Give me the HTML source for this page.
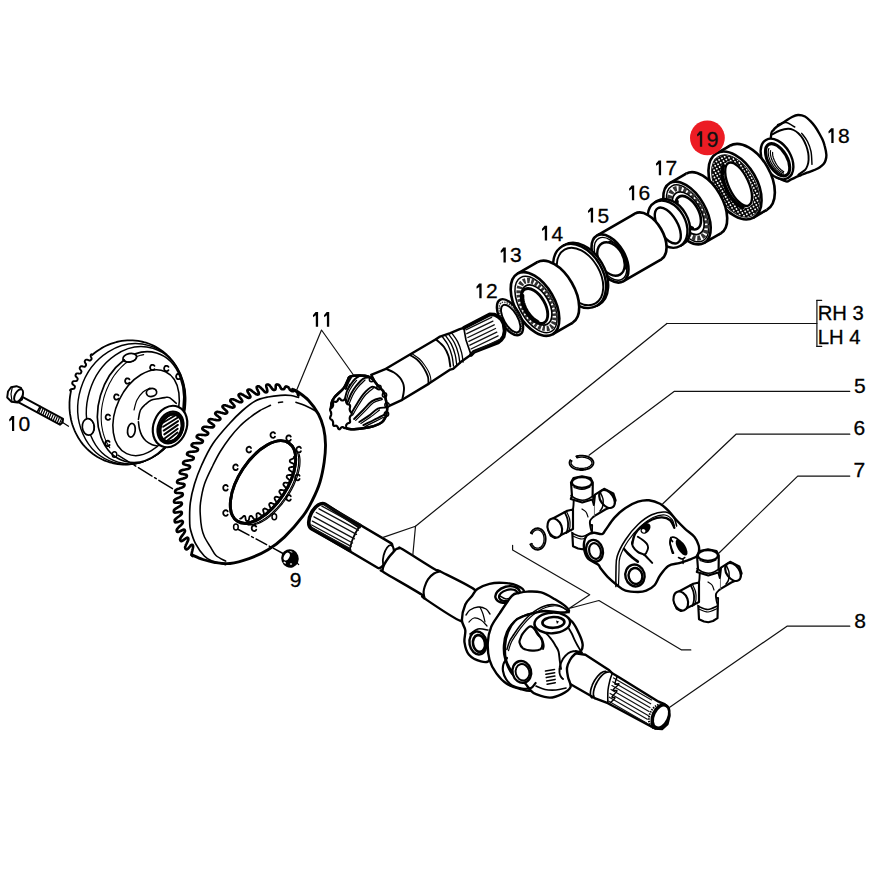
<!DOCTYPE html>
<html><head><meta charset="utf-8"><style>
html,body{margin:0;padding:0;background:#fff;}
svg{display:block;}
text{font-family:"Liberation Sans",sans-serif;}
</style></head><body>
<svg width="870" height="870" viewBox="0 0 870 870">
<defs>
<pattern id="stip" width="3.2" height="3.2" patternUnits="userSpaceOnUse"><rect width="3.2" height="3.2" fill="#000"/><circle cx="1.6" cy="1.6" r="0.95" fill="#fff"/></pattern>
</defs>
<rect width="870" height="870" fill="#fff"/>
<path d="M771.0 136.0 C771.6 129.3 772.5 131.6 773.5 130.0 C774.5 128.4 775.2 127.9 777.0 126.5 C778.8 125.1 782.0 123.4 784.5 121.8 C787.0 120.2 789.8 118.1 792.0 117.0 C794.2 115.9 795.8 115.1 798.0 115.0 C800.2 114.9 803.0 115.5 805.0 116.5 C807.0 117.5 808.3 119.0 810.0 120.7 C811.7 122.4 813.5 124.5 815.0 126.5 C816.5 128.6 817.8 130.8 819.0 133.0 C820.2 135.2 821.5 137.3 822.5 139.5 C823.5 141.7 824.1 143.4 824.7 146.0 C825.4 148.6 826.3 152.6 826.4 155.0 C826.5 157.4 826.0 159.0 825.5 160.5 C825.0 162.0 824.6 162.8 823.6 164.0 C822.6 165.2 821.0 166.5 819.5 167.5 C818.0 168.5 816.5 169.1 814.4 170.0 C812.3 170.9 809.3 171.8 807.0 172.7 C804.7 173.6 802.6 174.5 800.6 175.3 C798.6 176.1 796.8 176.8 795.0 177.6 C793.2 178.4 791.7 179.4 790.0 180.0 C788.3 180.6 788.3 182.7 785.0 181.0 C781.7 179.3 772.3 177.5 770.0 170.0 C767.7 162.5 770.4 142.7 771.0 136.0 Z" stroke="#000" stroke-width="2.4" fill="#fff" stroke-linejoin="round" stroke-linecap="round" />
<path d="M772.0 134.5 C773.3 133.8 777.3 131.5 780.0 130.5 C782.7 129.5 785.8 128.8 788.0 128.7 C790.2 128.6 791.8 129.2 793.5 130.0 C795.2 130.8 796.7 131.8 798.3 133.3 C799.9 134.8 801.7 136.9 803.0 139.0 C804.3 141.1 805.4 143.7 806.3 146.0 C807.2 148.3 807.8 150.7 808.2 153.0 C808.6 155.3 808.7 157.7 808.6 159.8 C808.5 161.9 808.1 163.8 807.5 165.5 C806.9 167.2 806.5 168.5 805.0 170.0 C803.5 171.5 799.4 173.9 798.3 174.7" stroke="#000" stroke-width="1.92" fill="none" stroke-linejoin="round" stroke-linecap="round" />
<path d="M777.6 124.7 C779.0 124.3 783.1 122.1 786.0 122.5 C788.9 122.9 793.3 126.2 794.8 127.0" stroke="#000" stroke-width="1.44" fill="none" stroke-linejoin="round" stroke-linecap="round" />
<path d="M801.7 133.3 C802.7 134.7 806.0 138.5 807.5 141.5 C809.0 144.5 810.2 147.7 811.0 151.5 C811.8 155.3 811.8 162.2 812.0 164.4" stroke="#000" stroke-width="1.44" fill="none" stroke-linejoin="round" stroke-linecap="round" />
<ellipse cx="777.0" cy="159.0" rx="14.0" ry="22.0" transform="rotate(-30.0 777.0 159.0)" fill="#fff" stroke="#000" stroke-width="2.4" />
<ellipse cx="777.6" cy="159.8" rx="9.5" ry="17.8" transform="rotate(-30.0 777.6 159.8)" fill="#fff" stroke="#000" stroke-width="3.12" />
<path d="M783.7 174.2 L783.2 174.1 L782.6 174.0 L782.0 173.8 L781.4 173.5 L780.8 173.2 L780.1 172.9 L779.5 172.5 L778.9 172.1 L778.2 171.6 L777.6 171.0 L777.0 170.5 L776.3 169.9 L775.7 169.2 L775.1 168.5 L774.5 167.8 L774.0 167.1 L773.4 166.3 L772.9 165.5 L772.3 164.7 L771.8 163.9 L771.4 163.1 L770.9 162.2 L770.5 161.3 L770.1 160.5 L769.8 159.6 L769.5 158.7 L769.2 157.9 L768.9 157.0 L768.7 156.2 L768.5 155.3 L768.4 154.5 L768.3 153.7 L768.2 153.0 L768.2 152.2 L768.2 151.5 L768.3 150.8 L768.4 150.2 L768.5 149.6 L768.7 149.0 L768.9 148.5" stroke="#000" stroke-width="1.2" fill="none" stroke-linejoin="round" stroke-linecap="round" />
<path d="M783.5 172.8 L783.0 172.7 L782.6 172.5 L782.1 172.3 L781.6 172.0 L781.1 171.7 L780.6 171.4 L780.0 171.0 L779.5 170.6 L779.0 170.2 L778.5 169.7 L778.0 169.2 L777.5 168.7 L777.0 168.1 L776.5 167.5 L776.0 166.9 L775.5 166.3 L775.1 165.6 L774.6 165.0 L774.2 164.3 L773.8 163.6 L773.4 162.9 L773.0 162.2 L772.7 161.5 L772.3 160.7 L772.0 160.0 L771.7 159.3 L771.5 158.6 L771.3 157.9 L771.0 157.2 L770.9 156.5 L770.7 155.8 L770.6 155.1 L770.5 154.5 L770.4 153.8 L770.4 153.2 L770.4 152.6 L770.4 152.1 L770.5 151.5 L770.5 151.0 L770.6 150.5" stroke="#000" stroke-width="1.2" fill="none" stroke-linejoin="round" stroke-linecap="round" />
<path d="M783.7 171.5 L783.3 171.4 L782.9 171.2 L782.5 170.9 L782.1 170.6 L781.7 170.3 L781.3 170.0 L780.9 169.7 L780.5 169.3 L780.1 168.9 L779.7 168.5 L779.2 168.0 L778.8 167.6 L778.4 167.1 L778.0 166.6 L777.6 166.1 L777.3 165.5 L776.9 165.0 L776.5 164.4 L776.2 163.9 L775.8 163.3 L775.5 162.7 L775.2 162.1 L774.9 161.5 L774.6 160.9 L774.3 160.3 L774.1 159.7 L773.8 159.1 L773.6 158.6 L773.4 158.0 L773.2 157.4 L773.1 156.8 L773.0 156.3 L772.8 155.7 L772.7 155.2 L772.7 154.7 L772.6 154.2 L772.6 153.7 L772.6 153.2 L772.6 152.8 L772.6 152.3" stroke="#000" stroke-width="1.2" fill="none" stroke-linejoin="round" stroke-linecap="round" />
<ellipse cx="748.3" cy="177.8" rx="22.0" ry="37.0" transform="rotate(-30.0 748.3 177.8)" fill="#fff" stroke="#000" stroke-width="2.64" />
<polygon points="716.5,153.5 729.8,145.8 766.8,209.8 753.5,217.5" fill="#fff"/>
<path d="M716.5 153.5L729.8 145.8M766.8 209.8L753.5 217.5" stroke="#000" stroke-width="2.64" fill="none"/>
<ellipse cx="735.0" cy="185.5" rx="22.0" ry="37.0" transform="rotate(-30.0 735.0 185.5)" fill="#fff" stroke="#000" stroke-width="2.64" />
<ellipse cx="735.6" cy="186.0" rx="19.4" ry="34.2" transform="rotate(-30.0 735.6 186.0)" fill="url(#stip)" stroke="#111" stroke-width="0.96" />
<ellipse cx="738.2" cy="184.5" rx="11.2" ry="24.5" transform="rotate(-26.0 738.2 184.5)" fill="#fff" stroke="#fff" stroke-width="1.2" />
<ellipse cx="738.6" cy="184.2" rx="10.0" ry="23.5" transform="rotate(-25.0 738.6 184.2)" fill="#fff" stroke="#000" stroke-width="2.4" />
<path d="M742.6 207.3 L741.7 207.0 L740.9 206.6 L740.0 206.1 L739.2 205.6 L738.3 205.0 L737.4 204.3 L736.6 203.6 L735.7 202.8 L734.8 201.9 L734.0 201.0 L733.2 200.1 L732.3 199.0 L731.5 198.0 L730.7 196.9 L730.0 195.7 L729.2 194.6 L728.5 193.3 L727.8 192.1 L727.2 190.8 L726.5 189.6 L726.0 188.3 L725.4 186.9 L724.9 185.6 L724.4 184.3 L724.0 183.0 L723.6 181.6 L723.3 180.3 L723.0 179.0 L722.7 177.7 L722.6 176.5 L722.4 175.2 L722.3 174.0 L722.3 172.9 L722.3 171.7 L722.3 170.6 L722.4 169.6 L722.5 168.6 L722.7 167.6 L723.0 166.7 L723.3 165.9" stroke="#000" stroke-width="3.84" fill="none" stroke-linejoin="round" stroke-linecap="round" />
<ellipse cx="703.5" cy="203.5" rx="18.8" ry="34.5" transform="rotate(-30.0 703.5 203.5)" fill="#fff" stroke="#000" stroke-width="2.64" />
<polygon points="669.8,183.1 686.2,173.6 720.7,233.4 704.2,242.9" fill="#fff"/>
<path d="M669.8 183.1L686.2 173.6M720.7 233.4L704.2 242.9" stroke="#000" stroke-width="2.64" fill="none"/>
<ellipse cx="687.0" cy="213.0" rx="18.8" ry="34.5" transform="rotate(-30.0 687.0 213.0)" fill="#fff" stroke="#000" stroke-width="2.64" />
<ellipse cx="687.5" cy="213.3" rx="16.2" ry="31.5" transform="rotate(-30.0 687.5 213.3)" fill="#fff" stroke="#000" stroke-width="1.44" />
<ellipse cx="688.0" cy="213.3" rx="14.2" ry="27.5" transform="rotate(-30.0 688.0 213.3)" fill="none" stroke="#333" stroke-width="5.04" stroke-dasharray="3.2 1.8"/>
<ellipse cx="688.2" cy="213.2" rx="12.5" ry="23.5" transform="rotate(-30.0 688.2 213.2)" fill="#fff" stroke="#000" stroke-width="1.68" />
<ellipse cx="688.3" cy="212.7" rx="10.1" ry="18.4" transform="rotate(-30.0 688.3 212.7)" fill="#fff" stroke="#000" stroke-width="2.64" />
<path d="M692.5 227.9 L691.9 227.7 L691.3 227.4 L690.7 227.1 L690.1 226.8 L689.5 226.4 L688.9 226.0 L688.2 225.6 L687.6 225.1 L687.0 224.6 L686.4 224.0 L685.8 223.4 L685.2 222.8 L684.6 222.2 L684.0 221.5 L683.5 220.8 L682.9 220.1 L682.4 219.3 L681.9 218.6 L681.4 217.8 L680.9 217.0 L680.5 216.2 L680.1 215.4 L679.7 214.6 L679.3 213.7 L678.9 212.9 L678.6 212.1 L678.3 211.2 L678.0 210.4 L677.8 209.6 L677.6 208.8 L677.4 208.0 L677.3 207.2 L677.2 206.4 L677.1 205.6 L677.0 204.9 L677.0 204.2 L677.0 203.4 L677.1 202.8 L677.2 202.1 L677.3 201.5" stroke="#000" stroke-width="3.12" fill="none" stroke-linejoin="round" stroke-linecap="round" />
<ellipse cx="670.1" cy="222.7" rx="17.9" ry="25.2" transform="rotate(-30.0 670.1 222.7)" fill="#fff" stroke="#000" stroke-width="2.4" />
<polygon points="654.9,202.4 657.5,200.9 682.7,244.5 680.1,246.0" fill="#fff"/>
<path d="M654.9 202.4L657.5 200.9M682.7 244.5L680.1 246.0" stroke="#000" stroke-width="2.4" fill="none"/>
<ellipse cx="667.5" cy="224.2" rx="17.9" ry="25.2" transform="rotate(-30.0 667.5 224.2)" fill="#fff" stroke="#000" stroke-width="2.4" />
<ellipse cx="667.8" cy="225.5" rx="9.6" ry="20.0" transform="rotate(-30.0 667.8 225.5)" fill="#fff" stroke="#000" stroke-width="2.4" />
<ellipse cx="648.1" cy="236.5" rx="15.0" ry="26.3" transform="rotate(-30.0 648.1 236.5)" fill="#fff" stroke="#000" stroke-width="2.64" />
<polygon points="596.9,235.7 635.0,213.7 661.3,259.3 623.1,281.3" fill="#fff"/>
<path d="M596.9 235.7L635.0 213.7M661.3 259.3L623.1 281.3" stroke="#000" stroke-width="2.64" fill="none"/>
<ellipse cx="610.0" cy="258.5" rx="15.0" ry="26.3" transform="rotate(-30.0 610.0 258.5)" fill="#fff" stroke="#000" stroke-width="2.64" />
<ellipse cx="610.5" cy="258.8" rx="13.0" ry="23.5" transform="rotate(-30.0 610.5 258.8)" fill="none" stroke="#000" stroke-width="1.44" />
<ellipse cx="611.0" cy="259.0" rx="12.0" ry="18.0" transform="rotate(-30.0 611.0 259.0)" fill="#fff" stroke="#000" stroke-width="2.4" />
<path d="M609.0 241.5 L609.7 241.5 L610.4 241.6 L611.1 241.8 L611.8 242.0 L612.5 242.3 L613.3 242.6 L614.0 243.0 L614.7 243.4 L615.5 243.9 L616.2 244.5 L616.9 245.0 L617.7 245.7 L618.4 246.3 L619.0 247.1 L619.7 247.8 L620.3 248.6 L621.0 249.4 L621.6 250.2 L622.1 251.1 L622.7 252.0 L623.2 252.9 L623.6 253.8 L624.1 254.8 L624.5 255.7 L624.8 256.7 L625.1 257.6 L625.4 258.6 L625.6 259.5 L625.8 260.4 L626.0 261.3 L626.1 262.3 L626.1 263.1 L626.1 264.0 L626.1 264.8 L626.0 265.6 L625.9 266.4 L625.7 267.1 L625.5 267.8 L625.2 268.5 L624.9 269.1" stroke="#000" stroke-width="1.56" fill="none" stroke-linejoin="round" stroke-linecap="round" />
<ellipse cx="581.7" cy="274.8" rx="23.3" ry="34.4" transform="rotate(-30.0 581.7 274.8)" fill="#fff" stroke="#000" stroke-width="2.4" />
<polygon points="562.3,246.2 564.5,245.0 598.9,304.5 596.7,305.8" fill="#fff"/>
<path d="M562.3 246.2L564.5 245.0M598.9 304.5L596.7 305.8" stroke="#000" stroke-width="2.4" fill="none"/>
<ellipse cx="579.5" cy="276.0" rx="23.3" ry="34.4" transform="rotate(-30.0 579.5 276.0)" fill="#fff" stroke="#000" stroke-width="2.4" />
<ellipse cx="580.0" cy="276.5" rx="20.0" ry="31.0" transform="rotate(-30.0 580.0 276.5)" fill="#fff" stroke="#000" stroke-width="1.92" />
<ellipse cx="554.9" cy="292.5" rx="19.5" ry="35.0" transform="rotate(-30.0 554.9 292.5)" fill="#fff" stroke="#000" stroke-width="2.64" />
<polygon points="517.5,273.7 537.4,262.2 572.4,322.8 552.5,334.3" fill="#fff"/>
<path d="M517.5 273.7L537.4 262.2M572.4 322.8L552.5 334.3" stroke="#000" stroke-width="2.64" fill="none"/>
<ellipse cx="535.0" cy="304.0" rx="19.5" ry="35.0" transform="rotate(-30.0 535.0 304.0)" fill="#fff" stroke="#000" stroke-width="2.64" />
<ellipse cx="536.0" cy="304.5" rx="16.5" ry="31.0" transform="rotate(-30.0 536.0 304.5)" fill="#fff" stroke="#000" stroke-width="1.56" />
<ellipse cx="537.0" cy="304.5" rx="14.0" ry="26.5" transform="rotate(-30.0 537.0 304.5)" fill="none" stroke="#333" stroke-width="5.4" stroke-dasharray="2.6 1.6"/>
<ellipse cx="536.5" cy="305.0" rx="12.5" ry="22.0" transform="rotate(-30.0 536.5 305.0)" fill="#fff" stroke="#000" stroke-width="1.68" />
<ellipse cx="534.5" cy="306.0" rx="10.5" ry="19.3" transform="rotate(-30.0 534.5 306.0)" fill="#fff" stroke="#000" stroke-width="2.88" />
<path d="M538.0 321.5 L537.4 321.2 L536.9 320.9 L536.3 320.6 L535.7 320.2 L535.1 319.8 L534.5 319.3 L533.9 318.9 L533.3 318.4 L532.7 317.8 L532.2 317.3 L531.6 316.7 L531.0 316.1 L530.5 315.4 L529.9 314.8 L529.4 314.1 L528.9 313.4 L528.4 312.7 L527.9 312.0 L527.4 311.2 L527.0 310.4 L526.5 309.7 L526.1 308.9 L525.7 308.1 L525.4 307.3 L525.0 306.5 L524.7 305.7 L524.4 304.9 L524.1 304.1 L523.9 303.3 L523.7 302.6 L523.5 301.8 L523.3 301.0 L523.1 300.2 L523.0 299.5 L522.9 298.8 L522.9 298.0 L522.9 297.3 L522.9 296.7 L522.9 296.0 L522.9 295.4" stroke="#000" stroke-width="2.88" fill="none" stroke-linejoin="round" stroke-linecap="round" />
<ellipse cx="510.0" cy="317.2" rx="9.8" ry="20.0" transform="rotate(-30.0 510.0 317.2)" fill="none" stroke="#000" stroke-width="2.4" />
<ellipse cx="510.4" cy="317.8" rx="8.3" ry="17.5" transform="rotate(-30.0 510.4 317.8)" fill="none" stroke="#333" stroke-width="1.44" stroke-dasharray="1.5 1"/>
<ellipse cx="510.7" cy="318.6" rx="6.8" ry="15.4" transform="rotate(-30.0 510.7 318.6)" fill="none" stroke="#000" stroke-width="1.92" />
<path d="M371.2 374.8 L385.9 368.8 L409.1 355.0 L435.9 339.3 L440.0 336.6 L450.3 333.1 L459.7 329.2 L463.8 327.9 L489.7 314.5 L494.5 314.6 L498.0 316.6 L501.5 319.5 L503.6 323.5 L504.7 331.0 L503.6 336.5 L501.0 340.0 L498.0 342.4 L474.1 351.7 L471.0 354.8 L460.7 362.1 L453.1 368.8 L450.3 369.6 L429.0 383.6 L402.2 399.8 L387.6 406.7 Z" stroke="#000" stroke-width="2.4" fill="#fff" stroke-linejoin="round" stroke-linecap="round" />
<path d="M463.8 327.9 L489.7 314.5 L494.5 314.6 L498.0 316.6 L501.5 319.5 L503.6 323.5 L504.7 331.0 L503.6 336.5 L501.0 340.0 L498.0 342.4 L474.1 351.7 L471.0 354.8" stroke="#000" stroke-width="3.84" fill="none" stroke-linejoin="round" stroke-linecap="round" />
<path d="M465.8 329.8 L491.6 317.4" stroke="#111" stroke-width="1.32" fill="none" stroke-linejoin="round" stroke-linecap="round" />
<path d="M466.8 333.7 L492.9 321.1" stroke="#111" stroke-width="1.32" fill="none" stroke-linejoin="round" stroke-linecap="round" />
<path d="M467.9 337.5 L494.2 324.8" stroke="#111" stroke-width="1.32" fill="none" stroke-linejoin="round" stroke-linecap="round" />
<path d="M468.9 341.4 L495.5 328.5" stroke="#111" stroke-width="1.32" fill="none" stroke-linejoin="round" stroke-linecap="round" />
<path d="M469.9 345.2 L496.8 332.2" stroke="#111" stroke-width="1.32" fill="none" stroke-linejoin="round" stroke-linecap="round" />
<path d="M471.0 349.0 L498.1 335.9" stroke="#111" stroke-width="1.32" fill="none" stroke-linejoin="round" stroke-linecap="round" />
<path d="M472.0 352.9 L499.4 339.6" stroke="#111" stroke-width="1.32" fill="none" stroke-linejoin="round" stroke-linecap="round" />
<path d="M463.8 327.9 L466.0 340.0 L471.0 354.8" stroke="#000" stroke-width="1.68" fill="none" stroke-linejoin="round" stroke-linecap="round" />
<path d="M442.0 336.2 C443.0 337.7 446.3 341.7 448.0 345.0 C449.7 348.3 451.1 352.5 452.0 356.0 C452.9 359.5 453.2 364.3 453.5 366.0" stroke="#000" stroke-width="1.32" fill="none" stroke-linejoin="round" stroke-linecap="round" />
<path d="M445.2 335.1 C446.2 336.5 449.5 340.6 451.2 343.9 C452.9 347.2 454.3 351.4 455.2 354.9 C456.1 358.4 456.4 363.1 456.7 364.7" stroke="#000" stroke-width="1.32" fill="none" stroke-linejoin="round" stroke-linecap="round" />
<path d="M448.4 334.0 C449.4 335.4 452.7 339.5 454.4 342.8 C456.1 346.1 457.5 350.3 458.4 353.8 C459.3 357.2 459.6 361.8 459.9 363.4" stroke="#000" stroke-width="1.32" fill="none" stroke-linejoin="round" stroke-linecap="round" />
<path d="M451.6 332.8 C452.6 334.3 455.9 338.3 457.6 341.6 C459.3 344.9 460.7 349.2 461.6 352.6 C462.5 356.1 462.9 360.6 463.1 362.2" stroke="#000" stroke-width="1.32" fill="none" stroke-linejoin="round" stroke-linecap="round" />
<path d="M435.9 339.3 C437.2 340.6 441.9 344.2 444.0 347.0 C446.1 349.8 447.4 352.8 448.5 356.0 C449.6 359.2 450.0 364.8 450.3 366.5" stroke="#000" stroke-width="1.92" fill="none" stroke-linejoin="round" stroke-linecap="round" />
<path d="M410.0 355.0 C411.2 355.8 415.0 357.8 417.0 359.5 C419.0 361.2 420.5 363.2 422.0 365.3 C423.5 367.4 425.0 370.0 426.0 372.0 C427.0 374.0 427.7 375.5 428.1 377.4 C428.5 379.3 428.4 382.4 428.5 383.4" stroke="#000" stroke-width="1.8" fill="none" stroke-linejoin="round" stroke-linecap="round" />
<path d="M412.5 354.0 C413.7 354.8 417.5 357.2 419.5 359.0 C421.5 360.8 423.0 362.9 424.5 365.0 C426.0 367.1 427.5 369.5 428.5 371.5 C429.5 373.5 430.1 375.2 430.5 377.0 C430.9 378.8 430.9 381.2 431.0 382.0" stroke="#000" stroke-width="1.08" fill="none" stroke-linejoin="round" stroke-linecap="round" />
<path d="M385.9 368.8 C387.2 369.4 391.7 371.1 394.0 372.5 C396.3 373.9 398.2 375.6 399.7 377.4 C401.2 379.1 402.3 381.3 403.0 383.0 C403.7 384.7 403.9 386.1 404.0 387.8 C404.1 389.5 403.9 391.0 403.6 393.0 C403.3 395.0 402.4 398.7 402.2 399.8" stroke="#000" stroke-width="1.92" fill="none" stroke-linejoin="round" stroke-linecap="round" />
<path d="M350.0 376.6 C351.9 375.9 356.2 375.5 359.3 375.5 C362.4 375.5 366.2 375.7 368.6 376.6 C371.0 377.5 372.4 379.4 373.8 380.7 C375.2 382.0 376.0 383.3 377.0 384.5 C378.0 385.7 379.0 386.9 380.0 388.0 C381.0 389.1 382.3 389.7 383.1 391.0 C383.9 392.3 384.5 394.3 385.0 396.0 C385.5 397.7 385.8 399.5 386.2 401.4 C386.6 403.3 387.1 405.8 387.2 407.6 C387.3 409.4 387.0 410.6 386.8 412.0 C386.6 413.4 387.0 414.2 386.2 415.9 C385.4 417.6 384.2 420.4 382.1 422.1 C380.0 423.8 376.9 425.2 373.8 426.2 C370.7 427.2 367.2 427.8 363.4 428.3 C359.6 428.8 354.3 429.5 351.0 429.3 C347.7 429.1 346.4 428.4 343.8 427.2 C341.2 426.0 337.6 424.7 335.5 422.1 C333.4 419.5 332.1 414.8 331.4 411.7 C330.7 408.6 330.9 405.8 331.4 403.4 C331.9 401.0 332.4 399.8 334.5 397.2 C336.6 394.6 341.6 390.8 343.8 387.9 C346.0 385.0 346.9 381.6 347.9 379.7 C348.9 377.8 348.1 377.3 350.0 376.6 Z" stroke="#000" stroke-width="2.4" fill="#fff" stroke-linejoin="round" stroke-linecap="round" />
<circle cx="371.5" cy="379.5" r="2.2" fill="#fff" stroke="#000" stroke-width="1.4"/>
<circle cx="379" cy="387.5" r="2.2" fill="#fff" stroke="#000" stroke-width="1.4"/>
<circle cx="384.5" cy="395" r="2.2" fill="#fff" stroke="#000" stroke-width="1.4"/>
<circle cx="387" cy="405" r="2.2" fill="#fff" stroke="#000" stroke-width="1.4"/>
<circle cx="386.5" cy="414" r="2.2" fill="#fff" stroke="#000" stroke-width="1.4"/>
<path d="M350.0 376.6 C351.9 375.9 356.2 375.5 359.3 375.5 C362.4 375.5 366.2 375.7 368.6 376.6 C371.0 377.5 372.4 379.4 373.8 380.7 C375.2 382.0 376.0 383.3 377.0 384.5 C378.0 385.7 379.0 386.9 380.0 388.0 C381.0 389.1 382.3 389.7 383.1 391.0 C383.9 392.3 384.5 394.3 385.0 396.0 C385.5 397.7 385.8 399.5 386.2 401.4 C386.6 403.3 387.1 405.8 387.2 407.6 C387.3 409.4 387.0 410.6 386.8 412.0 C386.6 413.4 387.0 414.2 386.2 415.9 C385.4 417.6 384.2 420.4 382.1 422.1 C380.0 423.8 376.9 425.2 373.8 426.2 C370.7 427.2 367.2 427.8 363.4 428.3 C359.6 428.8 354.3 429.5 351.0 429.3 C347.7 429.1 346.4 428.4 343.8 427.2 C341.2 426.0 337.6 424.7 335.5 422.1 C333.4 419.5 332.1 414.8 331.4 411.7 C330.7 408.6 330.9 405.8 331.4 403.4 C331.9 401.0 332.4 399.8 334.5 397.2 C336.6 394.6 341.6 390.8 343.8 387.9 C346.0 385.0 346.9 381.6 347.9 379.7 C348.9 377.8 348.1 377.3 350.0 376.6 Z" stroke="#000" stroke-width="2.4" fill="none" stroke-linejoin="round" stroke-linecap="round" />
<path d="M345.9 389.0 C346.2 388.0 347.1 384.9 348.0 383.0 C348.9 381.1 350.5 378.5 351.0 377.6" stroke="#000" stroke-width="1.92" fill="none" stroke-linejoin="round" stroke-linecap="round" />
<path d="M347.5 390.4 C347.9 389.4 349.2 385.4 349.6 384.4" stroke="#000" stroke-width="1.2" fill="none" stroke-linejoin="round" stroke-linecap="round" />
<path d="M344.8 399.3 C345.2 397.9 346.0 393.6 347.0 391.0 C348.0 388.4 349.7 386.0 351.0 384.0 C352.3 382.0 353.4 380.4 355.0 379.0 C356.6 377.6 359.4 376.1 360.3 375.5" stroke="#000" stroke-width="1.92" fill="none" stroke-linejoin="round" stroke-linecap="round" />
<path d="M346.4 400.7 C346.8 399.3 347.6 394.9 348.6 392.4 C349.6 389.8 351.3 387.4 352.6 385.4 C353.9 383.4 355.9 381.2 356.6 380.4" stroke="#000" stroke-width="1.2" fill="none" stroke-linejoin="round" stroke-linecap="round" />
<path d="M345.9 406.6 C346.8 404.5 349.3 397.4 351.0 394.0 C352.7 390.6 354.1 388.5 356.2 385.9 C358.3 383.3 361.3 380.0 363.4 378.6 C365.5 377.2 367.7 377.8 368.6 377.6" stroke="#000" stroke-width="1.92" fill="none" stroke-linejoin="round" stroke-linecap="round" />
<path d="M347.5 408.0 C348.4 405.9 350.9 398.8 352.6 395.4 C354.3 391.9 355.7 389.9 357.8 387.3 C359.9 384.7 363.8 381.2 365.0 380.0" stroke="#000" stroke-width="1.2" fill="none" stroke-linejoin="round" stroke-linecap="round" />
<path d="M351.0 413.8 C352.0 412.1 355.1 406.7 357.2 403.4 C359.3 400.1 361.0 396.9 363.4 394.1 C365.8 391.4 369.3 387.8 371.7 386.9 C374.1 386.0 376.9 388.6 377.9 389.0" stroke="#000" stroke-width="1.92" fill="none" stroke-linejoin="round" stroke-linecap="round" />
<path d="M352.6 415.2 C353.6 413.5 356.7 408.1 358.8 404.8 C360.9 401.5 362.6 398.2 365.0 395.5 C367.4 392.8 371.9 389.5 373.3 388.3" stroke="#000" stroke-width="1.2" fill="none" stroke-linejoin="round" stroke-linecap="round" />
<path d="M354.1 419.0 C355.7 417.4 360.5 412.6 363.4 409.7 C366.3 406.8 368.9 403.3 371.7 401.4 C374.5 399.5 378.3 398.6 380.0 398.3 C381.7 398.0 381.7 399.1 382.0 399.3" stroke="#000" stroke-width="1.92" fill="none" stroke-linejoin="round" stroke-linecap="round" />
<path d="M355.7 420.4 C357.3 418.8 362.1 414.0 365.0 411.1 C367.9 408.2 370.5 404.7 373.3 402.8 C376.1 400.9 380.2 400.2 381.6 399.7" stroke="#000" stroke-width="1.2" fill="none" stroke-linejoin="round" stroke-linecap="round" />
<path d="M359.3 422.0 C360.9 421.0 365.5 418.1 368.6 415.9 C371.7 413.7 375.1 410.0 377.9 408.6 C380.7 407.2 384.0 407.8 385.2 407.6" stroke="#000" stroke-width="1.92" fill="none" stroke-linejoin="round" stroke-linecap="round" />
<path d="M360.9 423.4 C362.5 422.4 367.1 419.5 370.2 417.3 C373.3 415.1 377.9 411.2 379.5 410.0" stroke="#000" stroke-width="1.2" fill="none" stroke-linejoin="round" stroke-linecap="round" />
<path d="M363.4 425.2 C365.1 424.3 370.7 421.6 373.8 420.0 C376.9 418.4 379.9 417.1 382.0 415.9 C384.1 414.7 385.5 413.3 386.2 412.8" stroke="#000" stroke-width="1.92" fill="none" stroke-linejoin="round" stroke-linecap="round" />
<path d="M365.0 426.6 C366.7 425.7 372.3 422.9 375.4 421.4 C378.5 419.8 382.2 418.0 383.6 417.3" stroke="#000" stroke-width="1.2" fill="none" stroke-linejoin="round" stroke-linecap="round" />
<path d="M351.7 413.8 L351.6 414.3 L351.4 414.8 L351.1 415.2 L350.8 415.6 L350.5 416.0 L350.2 416.4 L350.0 416.8 L349.9 417.2 L349.8 417.6 L349.7 418.0 L349.7 418.4 L349.7 418.9 L349.8 419.4 L349.9 419.9 L350.0 420.5 L350.1 421.1 L350.1 421.7 L350.0 422.2 L349.8 422.6 L349.4 422.8 L349.0 423.0 L348.6 423.1 L348.2 423.2 L347.8 423.3 L347.5 423.4 L347.2 423.7 L347.0 423.9 L346.8 424.2 L346.5 424.5 L346.4 424.9 L346.2 425.4 L346.1 425.9 L346.0 426.5 L345.8 427.1 L345.6 427.6 L345.4 428.0 L345.1 428.1 L344.7 428.1 L344.3 428.0 L343.9 427.7 L343.5 427.5 L343.1 427.2 L342.8 427.1 L342.5 427.1 L342.2 427.1 L341.9 427.2 L341.6 427.3 L341.3 427.4 L341.0 427.7 L340.7 428.1 L340.4 428.5 L340.0 428.9 L339.7 429.2 L339.3 429.3 L339.0 429.2 L338.7 429.0 L338.4 428.6 L338.1 428.1 L337.9 427.5 L337.7 427.1 L337.4 426.7 L337.2 426.4 L336.9 426.2 L336.7 426.0 L336.4 425.9 L336.1 425.7 L335.7 425.7 L335.3 425.8 L334.9 425.9 L334.5 426.0 L334.1 426.0 L333.7 425.8 L333.4 425.5 L333.2 425.1 L333.1 424.6 L333.1 423.9 L333.1 423.3 L333.1 422.7 L333.1 422.2 L333.0 421.8 L332.8 421.4 L332.7 421.0 L332.5 420.7 L332.3 420.4 L332.0 420.1 L331.7 419.8 L331.3 419.6 L330.9 419.3 L330.6 419.0 L330.3 418.6 L330.1 418.2 L330.1 417.7 L330.2 417.1 L330.4 416.6 L330.7 416.1 L330.9 415.6 L331.1 415.1 L331.2 414.7 L331.2 414.2 L331.2 413.8 L331.2 413.4 L331.2 412.9 L331.1 412.5 L330.9 412.0 L330.7 411.5 L330.4 411.0 L330.2 410.5 L330.1 409.9 L330.1 409.4 L330.3 409.0 L330.6 408.6 L330.9 408.3 L331.3 408.0 L331.7 407.8 L332.0 407.5 L332.3 407.2 L332.5 406.9 L332.7 406.6 L332.8 406.2 L333.0 405.8 L333.1 405.4 L333.1 404.9 L333.1 404.3 L333.1 403.7 L333.1 403.0 L333.2 402.5 L333.4 402.1 L333.7 401.8 L334.1 401.6 L334.5 401.6 L334.9 401.7 L335.3 401.8 L335.7 401.9 L336.1 401.9 L336.4 401.7 L336.7 401.6 L336.9 401.4 L337.2 401.2 L337.4 400.9 L337.7 400.5 L337.9 400.1 L338.1 399.5 L338.4 399.0 L338.7 398.6 L339.0 398.4 L339.3 398.3 L339.7 398.4 L340.0 398.7 L340.4 399.1 L340.7 399.5 L341.0 399.9 L341.3 400.2 L341.6 400.3 L341.9 400.4 L342.2 400.5 L342.5 400.5 L342.8 400.5 L343.1 400.4 L343.5 400.1 L343.9 399.9 L344.3 399.6 L344.7 399.5 L345.1 399.5 L345.4 399.6 L345.6 400.0 L345.8 400.5 L346.0 401.1 L346.1 401.7 L346.2 402.2 L346.4 402.7 L346.5 403.1 L346.8 403.4 L347.0 403.7 L347.2 403.9 L347.5 404.2 L347.8 404.3 L348.2 404.4 L348.6 404.5 L349.0 404.6 L349.4 404.8 L349.8 405.0 L350.0 405.4 L350.1 405.9 L350.1 406.5 L350.0 407.1 L349.9 407.7 L349.8 408.2 L349.7 408.7 L349.7 409.2 L349.7 409.6 L349.8 410.0 L349.9 410.4 L350.0 410.8 L350.2 411.2 L350.5 411.6 L350.8 412.0 L351.1 412.4 L351.4 412.8 L351.6 413.3 Z" stroke="#000" stroke-width="2.16" fill="#fff" stroke-linejoin="round" stroke-linecap="round" />
<ellipse cx="127.5" cy="402.4" rx="57.6" ry="62.5" transform="rotate(17.0 127.5 402.4)" fill="#fff" stroke="#000" stroke-width="0.0" />
<path d="M92.1 355.0 L94.2 353.2 L96.5 351.5 L98.8 349.9 L101.2 348.4 L103.6 347.0 L106.1 345.8 L108.7 344.6 L111.3 343.6 L113.9 342.8 L116.5 342.0 L119.2 341.4 L121.9 340.9 L124.6 340.6 L127.3 340.4 L130.0 340.3 L132.7 340.4 L135.4 340.6 L138.1 340.9 L140.7 341.4 L143.4 342.0 L145.9 342.7 L148.5 343.5 L151.0 344.5 L153.4 345.6 L155.8 346.9 L158.2 348.2 L160.4 349.7 L162.6 351.3 L164.7 353.0 L166.8 354.8 L168.7 356.7 L170.6 358.7 L172.4 360.9 L174.0 363.1 L175.6 365.3 L177.1 367.7 L178.4 370.1 L179.7 372.7 L180.8 375.2 L181.8 377.9 L182.7 380.6 L183.5 383.3 L184.1 386.1 L184.7 388.9 L185.1 391.7 L185.3 394.6 L185.5 397.5 L185.5 400.4 L185.4 403.3 L185.2 406.2 L184.9 409.1 L184.4 411.9 L183.8 414.8 L183.1 417.6 L182.2 420.4 L181.3 423.2 L180.2 425.9 L179.0 428.5 L177.7 431.1 L176.3 433.7 L174.7 436.1 L173.1 438.5 L171.4 440.9 L169.6 443.1 L167.6 445.2 L165.6 447.3 L163.6 449.2 L161.4 451.1 L159.2 452.8 L156.9 454.5 L154.5 456.0 L152.1 457.4 L149.6 458.7 L147.1 459.8 L144.5 460.9 L141.9 461.8 L139.2 462.6 L136.6 463.2 L133.9 463.7 L131.2 464.1 L128.5 464.4 L125.8 464.5 L123.1 464.5 L120.4 464.3 L117.7 464.0 L115.0 463.6 L112.4 463.0 L109.8 462.3 L107.2 461.5 L104.7 460.6 L102.3 459.5 L99.9 458.3 L97.5 457.0 L95.2 455.5 L93.0 454.0 L90.9 452.3 L88.8 450.5 L86.8 448.6 L84.9 446.6 L83.1 444.6 L81.4 442.4 L79.8 440.1 L78.3 437.8 L77.0 435.4 L75.7 432.9 L74.5 430.3 L73.5 427.7 L72.5 425.0 L71.7 422.3 L71.0 419.5 L70.5 416.7 L70.0 413.9 L69.7 411.0 L69.5 408.2 L69.5 405.3 L69.5 402.4 L69.7 399.5 L70.0 396.6 L70.5 393.7 L71.0 390.8" stroke="#000" stroke-width="1.8" fill="none" stroke-linejoin="round" stroke-linecap="round" />
<path d="M70.1 390.6 L70.1 390.5 L70.1 390.3 L70.2 390.2 L70.2 390.1 L70.3 389.9 L70.3 389.8 L70.4 389.7 L70.5 389.5 L70.7 389.4 L70.8 389.3 L71.1 389.2 L71.3 389.2 L71.7 389.1 L72.0 389.0 L72.4 389.0 L72.8 389.0 L73.2 388.9 L73.5 388.8 L73.8 388.8 L74.0 388.7 L74.1 388.6 L74.3 388.5 L74.4 388.4 L74.5 388.2 L74.5 388.1 L74.6 388.0 L74.6 387.9 L74.7 387.7 L74.7 387.6 L74.8 387.5 L74.8 387.3 L74.8 387.2 L74.9 387.1 L74.9 386.9 L74.9 386.8 L74.9 386.7 L74.9 386.5 L74.8 386.4 L74.8 386.2 L74.7 386.0 L74.5 385.8 L74.3 385.6 L74.1 385.4 L73.8 385.2 L73.4 384.9 L73.1 384.7 L72.9 384.4 L72.6 384.2 L72.5 384.0 L72.4 383.8 L72.3 383.6 L72.2 383.5 L72.2 383.3 L72.2 383.2 L72.2 383.0 L72.3 382.9 L72.3 382.7 L72.3 382.6 L72.4 382.5 L72.4 382.3 L72.5 382.2 L72.5 382.1 L72.6 381.9 L72.7 381.8 L72.8 381.7 L72.8 381.6 L72.9 381.4 L73.1 381.3 L73.2 381.2 L73.4 381.2 L73.7 381.1 L74.0 381.1 L74.3 381.1 L74.7 381.1 L75.1 381.1 L75.5 381.1 L75.9 381.1 L76.2 381.0 L76.4 381.0 L76.6 380.9 L76.8 380.8 L76.9 380.7 L77.0 380.6 L77.1 380.5 L77.2 380.4 L77.3 380.3 L77.3 380.2 L77.4 380.1 L77.4 379.9 L77.5 379.8 L77.5 379.7 L77.6 379.5 L77.6 379.4 L77.7 379.3 L77.7 379.1 L77.7 379.0 L77.7 378.9 L77.7 378.7 L77.6 378.5 L77.5 378.3 L77.4 378.1 L77.2 377.9 L76.9 377.6 L76.6 377.3 L76.4 377.0 L76.1 376.7 L75.9 376.5 L75.7 376.3 L75.6 376.0 L75.5 375.8 L75.5 375.7 L75.5 375.5 L75.5 375.4 L75.5 375.2 L75.5 375.1 L75.6 374.9 L75.6 374.8 L75.7 374.7 L75.8 374.5 L75.8 374.4 L75.9 374.3 L76.0 374.2 L76.1 374.0 L76.1 373.9 L76.2 373.8 L76.3 373.7 L76.5 373.6 L76.6 373.5 L76.8 373.5 L77.0 373.4 L77.3 373.4 L77.6 373.4 L78.0 373.4 L78.4 373.5 L78.8 373.6 L79.2 373.6 L79.5 373.6 L79.8 373.6 L80.0 373.6 L80.2 373.6 L80.4 373.5 L80.5 373.4 L80.6 373.3 L80.7 373.2 L80.8 373.1 L80.9 373.0 L80.9 372.9 L81.0 372.8 L81.1 372.7 L81.2 372.5 L81.2 372.4 L81.3 372.3 L81.3 372.2 L81.4 372.1 L81.4 371.9 L81.5 371.8 L81.5 371.6 L81.4 371.5 L81.4 371.3 L81.3 371.1 L81.2 370.8 L81.0 370.5 L80.8 370.2 L80.6 369.9 L80.3 369.6 L80.1 369.3 L79.9 369.0 L79.8 368.8 L79.7 368.6 L79.7 368.4 L79.7 368.2 L79.7 368.0 L79.7 367.9 L79.8 367.7 L79.8 367.6 L79.9 367.5 L79.9 367.4 L80.0 367.2 L80.1 367.1 L80.2 367.0 L80.3 366.9 L80.3 366.8 L80.4 366.7 L80.5 366.6 L80.7 366.5 L80.8 366.4 L80.9 366.3 L81.1 366.2 L81.3 366.2 L81.5 366.2 L81.8 366.2 L82.1 366.3 L82.5 366.3 L82.8 366.5 L83.2 366.6 L83.6 366.6 L83.9 366.7 L84.2 366.7 L84.4 366.7 L84.6 366.7 L84.8 366.7 L84.9 366.6 L85.0 366.5 L85.1 366.5 L85.2 366.4 L85.3 366.3 L85.4 366.2 L85.5 366.1 L85.6 366.0 L85.7 365.9 L85.8 365.7 L85.8 365.6 L85.9 365.5 L86.0 365.4 L86.0 365.3 L86.1 365.1 L86.1 365.0 L86.1 364.8 L86.1 364.6 L86.0 364.4 L85.9 364.2 L85.8 363.9 L85.6 363.6 L85.4 363.2 L85.2 362.9 L85.1 362.5 L84.9 362.2 L84.8 362.0 L84.8 361.7 L84.7 361.5 L84.7 361.4 L84.8 361.2 L84.8 361.1 L84.9 360.9 L85.0 360.8 L85.0 360.7 L85.1 360.6 L85.2 360.5 L85.3 360.3 L85.4 360.2 L85.5 360.1 L85.6 360.0 L85.7 359.9 L85.8 359.9 L85.9 359.8 L86.1 359.7 L86.2 359.6 L86.4 359.6 L86.5 359.6 L86.8 359.6 L87.0 359.6 L87.3 359.7 L87.6 359.8 L88.0 360.0 L88.4 360.1 L88.7 360.3 L89.0 360.4 L89.3 360.5 L89.6 360.5 L89.8 360.5 L90.0 360.5 L90.1 360.5 L90.2 360.4 L90.4 360.4 L90.5 360.3 L90.6 360.2 L90.7 360.1 L90.8 360.0 L90.9 359.9 L91.0 359.8 L91.1 359.7 L91.2 359.6 L91.3 359.5 L91.3 359.4 L91.4 359.3 L91.5 359.2 L91.5 359.1 L91.6 358.9 L91.6 358.7 L91.6 358.5 L91.5 358.3 L91.5 358.0 L91.4 357.7 L91.2 357.4 L91.1 357.0 L90.9 356.6 L90.8 356.3 L90.7 356.0 L90.7 355.7 L90.6 355.5 L90.7 355.3 L90.7 355.2 L90.8 355.0 L90.8 354.9 L90.9 354.8 L91.0 354.7 L91.1 354.6 L91.2 354.5 L91.3 354.4 L91.4 354.3" stroke="#000" stroke-width="1.92" fill="none" stroke-linejoin="round" stroke-linecap="round" />
<ellipse cx="131.5" cy="404.0" rx="53.0" ry="61.0" transform="rotate(17.0 131.5 404.0)" fill="#fff" stroke="#000" stroke-width="1.44" />
<ellipse cx="135.5" cy="405.2" rx="48.0" ry="59.5" transform="rotate(17.0 135.5 405.2)" fill="#fff" stroke="#000" stroke-width="1.44" />
<ellipse cx="140.6" cy="407.1" rx="41.8" ry="56.4" transform="rotate(16.4 140.6 407.1)" fill="#fff" stroke="#000" stroke-width="1.68" />
<path d="M109.8 447.7 L108.4 445.6 L107.2 443.4 L106.0 441.1 L105.0 438.6 L104.1 436.1 L103.3 433.4 L102.6 430.7 L102.1 427.9 L101.6 425.1 L101.4 422.2 L101.2 419.2 L101.2 416.2 L101.3 413.2 L101.5 410.1 L101.9 407.1 L102.4 404.0 L103.1 401.0 L103.8 398.0 L104.7 395.0 L105.7 392.1 L106.8 389.2 L108.1 386.4 L109.4 383.6 L110.9 380.9 L112.4 378.3 L114.0 375.8 L115.8 373.4 L117.6 371.1 L119.5 369.0 L121.5 366.9 L123.5 365.0 L125.6 363.2 L127.8 361.6 L130.0 360.1 L132.2 358.8 L134.5 357.6 L136.8 356.6 L139.1 355.8 L141.4 355.1 L143.7 354.6" stroke="#000" stroke-width="1.08" fill="none" stroke-linejoin="round" stroke-linecap="round" />
<ellipse cx="146.1" cy="412.7" rx="29.8" ry="45.3" transform="rotate(25.4 146.1 412.7)" fill="#fff" stroke="#000" stroke-width="1.56" />
<path d="M154.5 369.1 L153.7 369.9 L152.8 370.2 L151.8 370.1 L150.9 369.6 L150.3 368.6 L150.1 367.5 L150.3 366.4 L150.9 365.4 L151.8 364.9 L152.8 364.8 L153.7 365.1 L154.5 365.9" stroke="#000" stroke-width="1.8" fill="none" stroke-linejoin="round" stroke-linecap="round" />
<path d="M168.5 370.1 L167.7 370.9 L166.8 371.2 L165.8 371.1 L164.9 370.6 L164.3 369.6 L164.1 368.5 L164.3 367.4 L164.9 366.4 L165.8 365.9 L166.8 365.8 L167.7 366.1 L168.5 366.9" stroke="#000" stroke-width="1.8" fill="none" stroke-linejoin="round" stroke-linecap="round" />
<path d="M180.5 378.1 L179.7 378.9 L178.8 379.2 L177.8 379.1 L176.9 378.6 L176.3 377.6 L176.1 376.5 L176.3 375.4 L176.9 374.4 L177.8 373.9 L178.8 373.8 L179.7 374.1 L180.5 374.9" stroke="#000" stroke-width="1.8" fill="none" stroke-linejoin="round" stroke-linecap="round" />
<path d="M129.5 382.6 L128.7 383.4 L127.8 383.7 L126.8 383.6 L125.9 383.1 L125.3 382.1 L125.1 381.0 L125.3 379.9 L125.9 378.9 L126.8 378.4 L127.8 378.3 L128.7 378.6 L129.5 379.4" stroke="#000" stroke-width="1.8" fill="none" stroke-linejoin="round" stroke-linecap="round" />
<path d="M118.5 398.6 L117.7 399.4 L116.8 399.7 L115.8 399.6 L114.9 399.1 L114.3 398.1 L114.1 397.0 L114.3 395.9 L114.9 394.9 L115.8 394.4 L116.8 394.3 L117.7 394.6 L118.5 395.4" stroke="#000" stroke-width="1.8" fill="none" stroke-linejoin="round" stroke-linecap="round" />
<path d="M110.0 418.8 L109.2 419.6 L108.3 419.9 L107.3 419.8 L106.4 419.3 L105.8 418.3 L105.6 417.2 L105.8 416.1 L106.4 415.1 L107.3 414.6 L108.3 414.5 L109.2 414.8 L110.0 415.6" stroke="#000" stroke-width="1.8" fill="none" stroke-linejoin="round" stroke-linecap="round" />
<path d="M109.6 445.0 L108.8 445.8 L107.9 446.1 L106.9 446.0 L106.0 445.5 L105.4 444.5 L105.2 443.4 L105.4 442.3 L106.0 441.3 L106.9 440.8 L107.9 440.7 L108.8 441.0 L109.6 441.8" stroke="#000" stroke-width="1.8" fill="none" stroke-linejoin="round" stroke-linecap="round" />
<ellipse cx="114.5" cy="454.5" rx="2.3" ry="2.8" fill="none" stroke="#000" stroke-width="1.4"/>
<ellipse cx="129.8" cy="357.8" rx="7.0" ry="4.2" transform="rotate(-12.0 129.8 357.8)" fill="#fff" stroke="#000" stroke-width="1.8" />
<path d="M136.2 357.1 L136.2 357.3 L136.2 357.6 L136.2 357.9 L136.1 358.2 L136.0 358.5 L135.9 358.7 L135.7 359.0 L135.5 359.3 L135.2 359.6 L135.0 359.8 L134.7 360.1 L134.3 360.3 L134.0 360.6 L133.6 360.8 L133.2 361.0 L132.8 361.2 L132.4 361.3 L131.9 361.5 L131.5 361.6 L131.0 361.7 L130.6 361.8 L130.1 361.9 L129.6 361.9 L129.2 361.9 L128.7 361.9 L128.3 361.9 L127.9 361.9 L127.4 361.8 L127.0 361.7 L126.7 361.6 L126.3 361.5 L126.0 361.3 L125.7 361.2 L125.4 361.0 L125.2 360.8 L124.9 360.5 L124.8 360.3 L124.6 360.1 L124.5 359.8 L124.4 359.5" stroke="#000" stroke-width="1.08" fill="none" stroke-linejoin="round" stroke-linecap="round" />
<ellipse cx="88.3" cy="426.9" rx="6.0" ry="8.3" transform="rotate(-5.0 88.3 426.9)" fill="#fff" stroke="#000" stroke-width="1.68" />
<path d="M89.6 419.3 L89.9 419.4 L90.2 419.5 L90.5 419.6 L90.9 419.8 L91.2 420.1 L91.4 420.3 L91.7 420.6 L92.0 421.0 L92.3 421.3 L92.5 421.7 L92.7 422.1 L92.9 422.5 L93.1 423.0 L93.3 423.5 L93.5 424.0 L93.6 424.5 L93.7 425.0 L93.8 425.5 L93.9 426.1 L94.0 426.6 L94.0 427.2 L94.0 427.7 L94.0 428.2 L94.0 428.8 L93.9 429.3 L93.9 429.8 L93.8 430.3 L93.7 430.8 L93.5 431.2 L93.4 431.7 L93.2 432.1 L93.0 432.5 L92.8 432.9 L92.6 433.2 L92.3 433.5 L92.1 433.8 L91.8 434.1 L91.5 434.3 L91.2 434.4 L90.9 434.6" stroke="#000" stroke-width="1.2" fill="none" stroke-linejoin="round" stroke-linecap="round" />
<ellipse cx="151.5" cy="392.5" rx="5.2" ry="4.0" transform="rotate(-10.0 151.5 392.5)" fill="#fff" stroke="#000" stroke-width="1.68" />
<ellipse cx="131.4" cy="430.3" rx="3.8" ry="6.9" transform="rotate(8.0 131.4 430.3)" fill="#fff" stroke="#000" stroke-width="1.68" />
<path d="M138.4 419.4 C138.8 417.8 139.3 412.5 140.5 410.0 C141.7 407.5 143.6 406.1 145.3 404.5 C147.1 402.9 148.9 401.2 151.0 400.2 C153.1 399.2 155.7 399.1 158.0 398.7 C160.3 398.3 162.9 397.8 164.8 397.6 C166.7 397.4 167.5 396.7 169.4 397.6 C171.3 398.6 175.2 402.4 176.3 403.3" stroke="#000" stroke-width="1.56" fill="none" stroke-linejoin="round" stroke-linecap="round" />
<path d="M138.4 421.7 C138.6 422.9 138.9 426.7 139.5 429.0 C140.1 431.3 140.7 433.5 141.8 435.5 C142.9 437.5 144.3 439.5 146.0 441.0 C147.7 442.5 150.4 443.9 152.2 444.7 C154.0 445.5 156.2 445.8 157.0 446.0" stroke="#000" stroke-width="1.56" fill="none" stroke-linejoin="round" stroke-linecap="round" />
<path d="M134.0 410.0 C134.5 408.3 135.5 403.0 137.0 400.0 C138.5 397.0 140.8 394.0 143.0 392.0 C145.2 390.0 148.8 388.7 150.0 388.0" stroke="#000" stroke-width="1.2" fill="none" stroke-linejoin="round" stroke-linecap="round" />
<ellipse cx="170.0" cy="426.5" rx="16.5" ry="21.3" transform="rotate(22.0 170.0 426.5)" fill="#fff" stroke="#000" stroke-width="2.16" />
<ellipse cx="170.5" cy="427.5" rx="12.5" ry="16.5" transform="rotate(22.0 170.5 427.5)" fill="#fff" stroke="#000" stroke-width="1.92" />
<ellipse cx="171.0" cy="428.0" rx="10.8" ry="14.5" transform="rotate(22.0 171.0 428.0)" fill="#fff" stroke="#000" stroke-width="3.12" />
<path d="M162.5 423.0 L178.5 413.5" stroke="#000" stroke-width="1.92" fill="none" stroke-linejoin="round" stroke-linecap="round" />
<path d="M163.1 426.8 L178.3 417.3" stroke="#000" stroke-width="1.92" fill="none" stroke-linejoin="round" stroke-linecap="round" />
<path d="M163.7 430.6 L178.1 421.1" stroke="#000" stroke-width="1.92" fill="none" stroke-linejoin="round" stroke-linecap="round" />
<path d="M164.3 434.4 L177.9 424.9" stroke="#000" stroke-width="1.92" fill="none" stroke-linejoin="round" stroke-linecap="round" />
<path d="M164.9 438.2 L177.7 428.7" stroke="#000" stroke-width="1.92" fill="none" stroke-linejoin="round" stroke-linecap="round" />
<path d="M165.5 442.0 L177.5 432.5" stroke="#000" stroke-width="1.92" fill="none" stroke-linejoin="round" stroke-linecap="round" />
<ellipse cx="171.0" cy="428.0" rx="10.8" ry="14.5" transform="rotate(22.0 171.0 428.0)" fill="none" stroke="#000" stroke-width="3.12" />
<path d="M15.9 400.9 L59.9 424.7 L62.6 422.4 L63.1 418.9 L19.1 395.1 Z" stroke="#000" stroke-width="1.92" fill="#fff" stroke-linejoin="round" stroke-linecap="round" />
<path d="M38.8 412.5 L40.7 408.0" stroke="#000" stroke-width="1.2" fill="none" stroke-linejoin="round" stroke-linecap="round" />
<path d="M40.9 413.6 L42.8 409.2" stroke="#000" stroke-width="1.2" fill="none" stroke-linejoin="round" stroke-linecap="round" />
<path d="M42.9 414.7 L44.8 410.3" stroke="#000" stroke-width="1.2" fill="none" stroke-linejoin="round" stroke-linecap="round" />
<path d="M45.0 415.8 L46.9 411.4" stroke="#000" stroke-width="1.2" fill="none" stroke-linejoin="round" stroke-linecap="round" />
<path d="M47.1 416.9 L49.0 412.5" stroke="#000" stroke-width="1.2" fill="none" stroke-linejoin="round" stroke-linecap="round" />
<path d="M49.1 418.1 L51.0 413.6" stroke="#000" stroke-width="1.2" fill="none" stroke-linejoin="round" stroke-linecap="round" />
<path d="M51.2 419.2 L53.1 414.8" stroke="#000" stroke-width="1.2" fill="none" stroke-linejoin="round" stroke-linecap="round" />
<path d="M53.3 420.3 L55.2 415.9" stroke="#000" stroke-width="1.2" fill="none" stroke-linejoin="round" stroke-linecap="round" />
<path d="M55.4 421.4 L57.2 417.0" stroke="#000" stroke-width="1.2" fill="none" stroke-linejoin="round" stroke-linecap="round" />
<path d="M57.4 422.5 L59.3 418.1" stroke="#000" stroke-width="1.2" fill="none" stroke-linejoin="round" stroke-linecap="round" />
<path d="M59.5 423.6 L61.4 419.2" stroke="#000" stroke-width="1.2" fill="none" stroke-linejoin="round" stroke-linecap="round" />
<path d="M37.0 412.3 L40.2 406.5" stroke="#000" stroke-width="1.56" fill="none" stroke-linejoin="round" stroke-linecap="round" />
<path d="M8.0 391.5 L11.0 387.3 L16.5 386.2 L21.0 387.8 L22.8 393.5 L22.0 399.5 L17.5 402.6 L11.5 401.8 L7.2 397.5 Z" stroke="#000" stroke-width="1.92" fill="#fff" stroke-linejoin="round" stroke-linecap="round" />
<ellipse cx="18.6" cy="395.5" rx="3.6" ry="6.8" transform="rotate(28.0 18.6 395.5)" fill="#fff" stroke="#000" stroke-width="1.92" />
<path d="M12.2 387.6 L11.0 394.0 L12.0 401.5" stroke="#000" stroke-width="1.2" fill="none" stroke-linejoin="round" stroke-linecap="round" />
<path d="M61.5 421.8 L68.5 426.3" stroke="#000" stroke-width="1.2" fill="none" stroke-linejoin="round" stroke-linecap="round" />
<path d="M192.6 556.0 L192.5 555.9 L192.4 555.8 L192.3 555.7 L192.2 555.6 L192.1 555.5 L192.0 555.3 L191.9 555.1 L191.9 554.9 L191.8 554.7 L191.8 554.5 L191.7 554.2 L191.7 553.8 L191.8 553.4 L191.8 552.9 L191.9 552.3 L192.1 551.7 L192.2 551.0 L192.4 550.3 L192.5 549.7 L192.7 549.0 L192.8 548.4 L192.9 547.9 L193.0 547.4 L193.1 547.1 L193.1 546.7 L193.1 546.4 L193.1 546.2 L193.1 546.0 L193.0 545.8 L193.0 545.7 L192.9 545.5 L192.9 545.4 L192.8 545.3 L192.8 545.2 L192.7 545.1 L192.6 545.0 L192.5 544.9 L192.5 544.9 L192.4 544.8 L192.3 544.7 L192.2 544.7 L192.1 544.7 L191.9 544.7 L191.8 544.7 L191.7 544.8 L191.5 544.9 L191.3 545.0 L191.0 545.2 L190.7 545.5 L190.4 545.8 L190.1 546.2 L189.7 546.7 L189.3 547.2 L188.9 547.6 L188.5 548.1 L188.1 548.5 L187.8 548.8 L187.5 549.0 L187.2 549.2 L187.0 549.3 L186.8 549.4 L186.6 549.4 L186.4 549.4 L186.3 549.4 L186.2 549.3 L186.0 549.3 L185.9 549.2 L185.8 549.1 L185.7 549.0 L185.6 548.9 L185.5 548.8 L185.5 548.7 L185.4 548.5 L185.3 548.4 L185.3 548.2 L185.2 548.0 L185.2 547.9 L185.1 547.6 L185.1 547.4 L185.2 547.1 L185.2 546.8 L185.3 546.4 L185.5 546.0 L185.7 545.5 L185.9 544.9 L186.2 544.3 L186.6 543.6 L186.9 542.9 L187.2 542.3 L187.5 541.7 L187.7 541.2 L187.9 540.7 L188.1 540.3 L188.2 540.0 L188.3 539.7 L188.3 539.4 L188.3 539.2 L188.3 539.0 L188.3 538.9 L188.3 538.7 L188.3 538.6 L188.2 538.4 L188.2 538.3 L188.1 538.2 L188.1 538.1 L188.0 538.0 L187.9 537.9 L187.8 537.8 L187.7 537.7 L187.6 537.7 L187.5 537.6 L187.4 537.6 L187.2 537.7 L187.0 537.7 L186.7 537.8 L186.4 538.0 L186.1 538.2 L185.7 538.5 L185.2 538.8 L184.7 539.2 L184.1 539.6 L183.6 540.0 L183.1 540.3 L182.7 540.6 L182.3 540.8 L181.9 541.0 L181.7 541.1 L181.4 541.1 L181.2 541.1 L181.1 541.1 L180.9 541.0 L180.8 540.9 L180.7 540.9 L180.6 540.7 L180.5 540.6 L180.4 540.5 L180.4 540.4 L180.3 540.2 L180.2 540.1 L180.2 539.9 L180.2 539.7 L180.1 539.5 L180.1 539.3 L180.2 539.1 L180.2 538.9 L180.3 538.6 L180.4 538.3 L180.6 537.9 L180.9 537.4 L181.2 536.9 L181.6 536.4 L182.0 535.8 L182.5 535.2 L183.0 534.5 L183.4 534.0 L183.8 533.4 L184.1 532.9 L184.4 532.5 L184.6 532.2 L184.7 531.9 L184.8 531.6 L184.9 531.4 L184.9 531.2 L185.0 531.0 L185.0 530.9 L184.9 530.7 L184.9 530.5 L184.9 530.4 L184.8 530.3 L184.8 530.1 L184.7 530.0 L184.7 529.9 L184.6 529.8 L184.5 529.7 L184.4 529.7 L184.2 529.6 L184.0 529.6 L183.8 529.6 L183.5 529.7 L183.1 529.8 L182.7 530.0 L182.2 530.2 L181.6 530.5 L181.0 530.8 L180.3 531.1 L179.7 531.4 L179.2 531.6 L178.7 531.8 L178.3 531.9 L178.0 532.0 L177.7 532.0 L177.5 531.9 L177.4 531.9 L177.2 531.8 L177.1 531.7 L177.0 531.5 L176.9 531.4 L176.9 531.3 L176.8 531.1 L176.8 531.0 L176.7 530.8 L176.7 530.6 L176.7 530.4 L176.7 530.2 L176.7 530.0 L176.8 529.8 L176.9 529.5 L177.0 529.3 L177.2 528.9 L177.5 528.6 L177.9 528.1 L178.3 527.6 L178.8 527.1 L179.4 526.5 L180.0 525.9 L180.6 525.4 L181.2 524.9 L181.6 524.4 L182.0 524.0 L182.2 523.7 L182.4 523.4 L182.6 523.1 L182.7 522.9 L182.8 522.7 L182.8 522.5 L182.8 522.3 L182.8 522.1 L182.8 522.0 L182.8 521.8 L182.8 521.7 L182.7 521.5 L182.7 521.4 L182.6 521.3 L182.5 521.1 L182.4 521.0 L182.3 521.0 L182.1 520.9 L181.8 520.9 L181.5 520.9 L181.1 521.0 L180.5 521.1 L179.9 521.3 L179.3 521.5 L178.5 521.7 L177.8 522.0 L177.2 522.1 L176.6 522.3 L176.2 522.3 L175.8 522.4 L175.5 522.3 L175.3 522.3 L175.1 522.2 L175.0 522.1 L174.9 521.9 L174.8 521.8 L174.8 521.6 L174.7 521.5 L174.7 521.3 L174.7 521.1 L174.7 520.9 L174.7 520.7 L174.7 520.5 L174.7 520.3 L174.8 520.1 L174.9 519.8 L175.1 519.6 L175.4 519.2 L175.7 518.9 L176.2 518.5 L176.7 518.0 L177.4 517.5 L178.1 517.0 L178.8 516.5 L179.5 516.0 L180.1 515.5 L180.6 515.1 L180.9 514.8 L181.2 514.5 L181.4 514.2 L181.6 514.0 L181.7 513.8 L181.8 513.6 L181.8 513.4 L181.8 513.2 L181.8 513.0 L181.8 512.8 L181.8 512.7 L181.8 512.5 L181.7 512.4 L181.7 512.2 L181.6 512.1 L181.5 512.0 L181.3 511.9 L181.1 511.8 L180.7 511.8 L180.3 511.8 L179.8 511.9 L179.1 512.0 L178.4 512.1 L177.6 512.2 L176.8 512.4 L176.1 512.5 L175.5 512.5 L175.1 512.6 L174.7 512.5 L174.4 512.4 L174.2 512.3 L174.1 512.2 L174.0 512.1 L173.9 511.9 L173.9 511.7 L173.8 511.6 L173.8 511.4 L173.8 511.2 L173.8 511.0 L173.9 510.8 L173.9 510.6 L174.0 510.4 L174.1 510.1 L174.3 509.9 L174.5 509.6 L174.8 509.3 L175.3 509.0 L175.8 508.6 L176.5 508.1 L177.3 507.7 L178.1 507.2 L178.9 506.8 L179.6 506.3 L180.2 506.0 L180.7 505.6 L181.0 505.3 L181.3 505.1 L181.5 504.8 L181.6 504.6 L181.7 504.4 L181.8 504.2 L181.8 504.0 L181.8 503.8 L181.9 503.7 L181.9 503.5 L181.8 503.3 L181.8 503.2 L181.7 503.0 L181.6 502.9 L181.5 502.7 L181.3 502.6 L181.0 502.5 L180.6 502.5 L180.1 502.5 L179.4 502.5 L178.6 502.6 L177.8 502.6 L177.0 502.7 L176.2 502.7 L175.6 502.7 L175.1 502.7 L174.8 502.6 L174.5 502.5 L174.3 502.3 L174.2 502.2 L174.1 502.0 L174.1 501.8 L174.0 501.7 L174.0 501.5 L174.0 501.3 L174.1 501.1 L174.1 500.9 L174.2 500.7 L174.3 500.5 L174.4 500.2 L174.6 500.0 L174.8 499.7 L175.2 499.4 L175.7 499.1 L176.3 498.8 L177.1 498.4 L177.9 498.0 L178.8 497.6 L179.7 497.2 L180.4 496.8 L181.1 496.5 L181.5 496.2 L181.9 496.0 L182.2 495.7 L182.3 495.5 L182.5 495.3 L182.6 495.1 L182.7 494.9 L182.7 494.7 L182.8 494.5 L182.8 494.3 L182.8 494.2 L182.8 494.0 L182.7 493.8 L182.6 493.7 L182.5 493.5 L182.3 493.4 L182.0 493.2 L181.6 493.2 L181.0 493.1 L180.3 493.1 L179.5 493.0 L178.6 493.0 L177.8 493.0 L177.0 493.0 L176.4 492.9 L176.0 492.8 L175.7 492.7 L175.4 492.5 L175.3 492.4 L175.2 492.2 L175.2 492.0 L175.1 491.8 L175.1 491.6 L175.2 491.4 L175.2 491.2 L175.3 491.0 L175.4 490.8 L175.5 490.6 L175.6 490.4 L175.8 490.1 L176.1 489.9 L176.5 489.6 L177.0 489.3 L177.7 489.0 L178.5 488.7 L179.5 488.4 L180.4 488.0 L181.3 487.7 L182.1 487.4 L182.7 487.1 L183.2 486.9 L183.6 486.6 L183.8 486.4 L184.0 486.2 L184.2 486.0 L184.3 485.8 L184.4 485.6 L184.4 485.4 L184.5 485.2 L184.5 485.0 L184.5 484.8 L184.5 484.7 L184.4 484.5 L184.3 484.3 L184.1 484.2 L183.8 484.0 L183.4 483.9 L182.9 483.8 L182.2 483.7 L181.3 483.6 L180.4 483.5 L179.6 483.4 L178.8 483.3 L178.2 483.2 L177.8 483.0 L177.5 482.9 L177.3 482.7 L177.2 482.5 L177.1 482.3 L177.1 482.1 L177.1 481.9 L177.1 481.7 L177.2 481.5 L177.2 481.3 L177.3 481.1 L177.4 480.9 L177.6 480.7 L177.8 480.5 L178.1 480.2 L178.4 480.0 L178.9 479.8 L179.6 479.5 L180.4 479.3 L181.4 479.0 L182.4 478.7 L183.4 478.4 L184.3 478.2 L184.9 477.9 L185.5 477.7 L185.9 477.5 L186.2 477.3 L186.4 477.1 L186.5 476.9 L186.7 476.7 L186.8 476.5 L186.8 476.3 L186.9 476.1 L186.9 475.9 L186.9 475.7 L186.9 475.6 L186.9 475.4 L186.7 475.2 L186.6 475.0 L186.2 474.8 L185.8 474.7 L185.2 474.5 L184.4 474.4 L183.5 474.2 L182.6 474.0 L181.8 473.9 L181.1 473.7 L180.6 473.5 L180.2 473.4 L180.0 473.2 L179.8 473.0 L179.8 472.8 L179.7 472.6 L179.8 472.4 L179.8 472.2 L179.8 472.0 L179.9 471.8 L180.0 471.6 L180.1 471.3 L180.3 471.1 L180.5 470.9 L180.8 470.7 L181.2 470.5 L181.7 470.3 L182.4 470.1 L183.2 469.9 L184.2 469.7 L185.3 469.5 L186.3 469.3 L187.2 469.1 L187.9 468.9 L188.5 468.7 L188.9 468.5 L189.2 468.3 L189.4 468.1 L189.6 467.9 L189.7 467.7 L189.8 467.5 L189.9 467.3 L190.0 467.2 L190.0 467.0 L190.0 466.8 L190.0 466.6 L190.0 466.4 L189.8 466.2 L189.6 466.0 L189.3 465.8 L188.8 465.6 L188.1 465.4 L187.3 465.2 L186.3 465.0 L185.5 464.7 L184.7 464.5 L184.1 464.3 L183.6 464.1 L183.4 463.9 L183.2 463.7 L183.1 463.4 L183.1 463.2 L183.1 463.0 L183.1 462.8 L183.2 462.6 L183.3 462.4 L183.4 462.2 L183.5 462.0 L183.7 461.8 L183.9 461.6 L184.2 461.4 L184.5 461.3 L185.0 461.1 L185.7 460.9 L186.5 460.8 L187.5 460.6 L188.6 460.5 L189.7 460.3 L190.6 460.2 L191.4 460.0 L192.0 459.9 L192.4 459.7 L192.7 459.5 L193.0 459.4 L193.2 459.2 L193.3 459.0 L193.5 458.8 L193.6 458.6 L193.6 458.4 L193.7 458.3 L193.7 458.1 L193.7 457.9 L193.7 457.7 L193.6 457.5 L193.4 457.3 L193.0 457.0 L192.5 456.8 L191.8 456.5 L191.0 456.3 L190.1 456.0 L189.2 455.7 L188.5 455.4 L187.9 455.1 L187.5 454.9 L187.3 454.7 L187.1 454.5 L187.0 454.2 L187.0 454.0 L187.1 453.8 L187.1 453.6 L187.2 453.4 L187.3 453.2 L187.4 453.0 L187.6 452.8 L187.8 452.7 L188.0 452.5 L188.3 452.3 L188.7 452.1 L189.3 452.0 L190.0 451.9 L190.9 451.8 L192.0 451.7 L193.1 451.6 L194.1 451.6 L195.0 451.5 L195.7 451.4 L196.3 451.3 L196.7 451.1 L197.0 451.0 L197.3 450.8 L197.4 450.6 L197.6 450.4 L197.7 450.3 L197.8 450.1 L197.9 449.9 L198.0 449.7 L198.0 449.5 L198.0 449.3 L198.0 449.1 L197.8 448.9 L197.6 448.7 L197.2 448.4 L196.6 448.1 L195.9 447.8 L195.0 447.5 L194.1 447.1 L193.3 446.8 L192.7 446.5 L192.2 446.2 L191.9 445.9 L191.7 445.7 L191.6 445.5 L191.6 445.2 L191.6 445.0 L191.7 444.8 L191.7 444.6 L191.8 444.4 L192.0 444.3 L192.1 444.1 L192.3 443.9 L192.5 443.7 L192.8 443.6 L193.2 443.4 L193.7 443.3 L194.3 443.2 L195.2 443.2 L196.1 443.1 L197.2 443.1 L198.3 443.1 L199.3 443.1 L200.1 443.1 L200.8 443.0 L201.2 442.9 L201.6 442.8 L201.9 442.6 L202.1 442.5 L202.3 442.3 L202.4 442.2 L202.6 442.0 L202.7 441.8 L202.8 441.6 L202.8 441.4 L202.9 441.2 L202.8 441.0 L202.8 440.8 L202.6 440.6 L202.3 440.3 L201.8 440.0 L201.2 439.7 L200.4 439.3 L199.5 438.9 L198.7 438.5 L198.0 438.1 L197.4 437.8 L197.1 437.5 L196.8 437.2 L196.7 437.0 L196.7 436.8 L196.7 436.6 L196.8 436.4 L196.8 436.2 L196.9 436.0 L197.1 435.8 L197.2 435.6 L197.4 435.4 L197.6 435.3 L197.9 435.1 L198.2 435.0 L198.6 434.9 L199.2 434.8 L199.9 434.8 L200.8 434.8 L201.9 434.9 L203.0 435.0 L204.0 435.0 L204.9 435.1 L205.6 435.1 L206.2 435.0 L206.6 434.9 L207.0 434.8 L207.2 434.7 L207.5 434.5 L207.6 434.4 L207.8 434.2 L207.9 434.1 L208.0 433.9 L208.1 433.7 L208.2 433.5 L208.2 433.3 L208.2 433.1 L208.1 432.9 L207.9 432.6 L207.5 432.3 L207.1 432.0 L206.4 431.6 L205.6 431.1 L204.8 430.7 L204.0 430.3 L203.4 429.9 L202.9 429.5 L202.6 429.2 L202.4 428.9 L202.3 428.7 L202.3 428.5 L202.4 428.3 L202.5 428.1 L202.6 427.9 L202.7 427.7 L202.8 427.6 L203.0 427.4 L203.2 427.2 L203.4 427.1 L203.7 427.0 L204.0 426.9 L204.5 426.8 L205.1 426.8 L205.8 426.8 L206.7 426.9 L207.7 427.0 L208.8 427.2 L209.8 427.3 L210.7 427.4 L211.4 427.4 L212.0 427.4 L212.4 427.4 L212.7 427.3 L213.0 427.2 L213.2 427.0 L213.4 426.9 L213.6 426.7 L213.7 426.6 L213.8 426.4 L213.9 426.3 L214.0 426.1 L214.1 425.9 L214.1 425.7 L214.0 425.5 L213.8 425.2 L213.5 424.9 L213.1 424.5 L212.5 424.1 L211.8 423.6 L211.0 423.1 L210.2 422.6 L209.6 422.2 L209.1 421.8 L208.8 421.5 L208.6 421.2 L208.5 420.9 L208.5 420.7 L208.6 420.5 L208.6 420.3 L208.7 420.1 L208.9 420.0 L209.0 419.8 L209.2 419.7 L209.4 419.5 L209.6 419.4 L209.8 419.3 L210.1 419.2 L210.5 419.1 L211.0 419.1 L211.7 419.2 L212.5 419.3 L213.4 419.5 L214.5 419.7 L215.5 419.9 L216.4 420.1 L217.2 420.2 L217.9 420.2 L218.4 420.3 L218.8 420.2 L219.1 420.1 L219.3 420.0 L219.5 419.9 L219.7 419.8 L219.9 419.7 L220.0 419.5 L220.2 419.4 L220.3 419.2 L220.4 419.1 L220.4 418.9 L220.4 418.7 L220.3 418.4 L220.2 418.2 L219.9 417.9 L219.5 417.5 L219.0 417.0 L218.3 416.5 L217.5 415.9 L216.8 415.4 L216.2 414.9 L215.8 414.5 L215.5 414.1 L215.3 413.9 L215.3 413.6 L215.2 413.4 L215.3 413.2 L215.4 413.0 L215.5 412.8 L215.6 412.7 L215.8 412.5 L215.9 412.4 L216.1 412.3 L216.3 412.1 L216.5 412.0 L216.8 412.0 L217.2 411.9 L217.6 411.9 L218.2 412.0 L218.9 412.1 L219.7 412.3 L220.7 412.6 L221.7 412.8 L222.6 413.1 L223.5 413.3 L224.2 413.5 L224.8 413.6 L225.2 413.6 L225.6 413.6 L225.9 413.5 L226.1 413.5 L226.3 413.4 L226.5 413.3 L226.7 413.1 L226.8 413.0 L227.0 412.9 L227.1 412.7 L227.2 412.6 L227.2 412.4 L227.2 412.2 L227.2 412.0 L227.1 411.7 L226.9 411.4 L226.5 411.0 L226.0 410.5 L225.4 410.0 L224.8 409.4 L224.1 408.8 L223.5 408.3 L223.1 407.8 L222.8 407.4 L222.6 407.1 L222.5 406.8 L222.5 406.6 L222.5 406.4 L222.6 406.2 L222.7 406.1 L222.8 405.9 L223.0 405.8 L223.1 405.7 L223.3 405.6 L223.5 405.4 L223.7 405.4 L224.0 405.3 L224.3 405.2 L224.6 405.2 L225.1 405.3 L225.6 405.4 L226.3 405.6 L227.1 405.8 L228.0 406.2 L228.9 406.5 L229.9 406.9 L230.7 407.1 L231.4 407.4 L231.9 407.5 L232.4 407.6 L232.7 407.6 L233.0 407.6 L233.3 407.5 L233.5 407.4 L233.7 407.4 L233.8 407.3 L234.0 407.2 L234.1 407.0 L234.3 406.9 L234.4 406.8 L234.5 406.6 L234.5 406.5 L234.5 406.3 L234.5 406.0 L234.4 405.7 L234.1 405.4 L233.8 405.0 L233.4 404.4 L232.8 403.9 L232.2 403.2 L231.6 402.6 L231.1 402.1 L230.7 401.6 L230.5 401.2 L230.3 400.9 L230.3 400.6 L230.3 400.4 L230.3 400.2 L230.4 400.1 L230.5 399.9 L230.6 399.8 L230.8 399.6 L231.0 399.5 L231.1 399.4 L231.3 399.3 L231.5 399.3 L231.8 399.2 L232.0 399.2 L232.3 399.2 L232.7 399.2 L233.2 399.3 L233.7 399.5 L234.4 399.8 L235.2 400.1 L236.0 400.5 L236.9 401.0 L237.7 401.3 L238.4 401.7 L239.1 401.9 L239.6 402.1 L240.0 402.2 L240.3 402.3 L240.6 402.3 L240.9 402.3 L241.1 402.2 L241.3 402.2 L241.5 402.1 L241.6 402.0 L241.8 401.9 L241.9 401.8 L242.0 401.7 L242.1 401.6 L242.2 401.4 L242.3 401.3 L242.3 401.1 L242.2 400.8 L242.1 400.5 L241.9 400.1 L241.6 399.7 L241.2 399.1 L240.7 398.5 L240.2 397.9 L239.7 397.2 L239.3 396.7 L239.0 396.2 L238.7 395.8 L238.6 395.5 L238.6 395.2 L238.6 395.0 L238.6 394.8 L238.7 394.6 L238.8 394.5 L239.0 394.4 L239.1 394.3 L239.3 394.2 L239.4 394.1 L239.6 394.0 L239.8 393.9 L240.0 393.9 L240.3 393.9 L240.5 393.9 L240.8 393.9 L241.2 394.0 L241.6 394.2 L242.1 394.4 L242.8 394.7 L243.4 395.1 L244.2 395.6 L245.0 396.1 L245.7 396.5 L246.4 396.9 L247.0 397.3 L247.5 397.5 L247.9 397.7 L248.3 397.8 L248.6 397.9 L248.8 397.9 L249.0 397.9 L249.2 397.9 L249.4 397.8 L249.6 397.8 L249.7 397.7 L249.9 397.6 L250.0 397.5 L250.1 397.4 L250.2 397.3 L250.3 397.2 L250.4 397.1 L250.4 396.9 L250.4 396.7 L250.4 396.4 L250.2 396.0 L250.0 395.6 L249.7 395.0 L249.3 394.4 L248.9 393.8 L248.5 393.1 L248.1 392.5 L247.8 392.0 L247.6 391.5 L247.5 391.1 L247.4 390.8 L247.4 390.6 L247.4 390.4 L247.5 390.2 L247.6 390.1 L247.7 390.0 L247.9 389.9 L248.0 389.8 L248.2 389.7 L248.3 389.6 L248.5 389.6 L248.7 389.5 L248.9 389.5 L249.1 389.5 L249.3 389.5 L249.6 389.6 L249.9 389.6 L250.2 389.8 L250.6 390.0 L251.1 390.3 L251.7 390.7 L252.3 391.2 L252.9 391.7 L253.6 392.2 L254.3 392.8 L254.9 393.2 L255.4 393.6 L255.9 393.9 L256.2 394.2 L256.6 394.3 L256.8 394.4 L257.1 394.5 L257.3 394.5 L257.5 394.6 L257.7 394.6 L257.8 394.5 L258.0 394.5 L258.2 394.5 L258.3 394.4 L258.4 394.4 L258.6 394.3 L258.7 394.2 L258.8 394.1 L258.8 394.0 L258.9 393.8 L258.9 393.6 L258.9 393.4 L258.8 393.0 L258.7 392.6 L258.5 392.2 L258.3 391.6 L258.0 391.0 L257.7 390.3 L257.4 389.6 L257.1 389.0 L256.9 388.5 L256.8 388.1 L256.7 387.7 L256.7 387.4 L256.7 387.2 L256.8 387.0 L256.8 386.8 L256.9 386.7 L257.1 386.6 L257.2 386.5 L257.3 386.5 L257.5 386.4 L257.7 386.4 L257.8 386.3 L258.0 386.3 L258.2 386.3 L258.4 386.3 L258.6 386.3 L258.8 386.3 L259.0 386.4 L259.3 386.6 L259.6 386.7 L259.9 387.0 L260.3 387.3 L260.7 387.7 L261.2 388.2 L261.8 388.7 L262.3 389.3 L262.9 389.9 L263.4 390.5 L263.8 391.0 L264.3 391.4 L264.6 391.7 L264.9 392.0 L265.2 392.1 L265.4 392.3 L265.6 392.3 L265.8 392.4 L266.0 392.4 L266.1 392.4 L266.2 392.4 L266.4 392.3 L266.5 392.3 L266.6 392.3 L266.7 392.2 L266.8 392.1 L267.0 392.1 L267.0 392.0 L267.1 391.9 L267.2 391.7 L267.3 391.6 L267.3 391.4 L267.3 391.1 L267.3 390.8 L267.3 390.5 L267.2 390.0 L267.1 389.5 L266.9 388.9 L266.8 388.3 L266.6 387.7 L266.4 387.1 L266.3 386.6 L266.3 386.2 L266.2 385.8 L266.3 385.5 L266.3 385.3 L266.4 385.1 L266.5 384.9 L266.6 384.8 L266.7 384.7 L266.8 384.7 L267.0 384.6 L267.1 384.6 L267.2 384.5 L267.4 384.5 L267.5 384.5 L267.7 384.5 L267.9 384.5 L268.0 384.5 L268.2 384.5 L268.4 384.6 L268.6 384.7 L268.8 384.7 L269.0 384.9 L269.2 385.0 L269.4 385.2 L269.7 385.5 L270.0 385.8 L270.3 386.2 L270.6 386.6 L271.0 387.1 L271.3 387.6 L271.7 388.1 L272.0 388.5 L272.3 388.9 L272.5 389.2 L272.8 389.4 L273.0 389.6 L273.2 389.7 L273.3 389.8 L273.5 389.9 L273.6 390.0 L273.8 390.0 L273.9 390.0 L274.0 390.0 L274.2 390.0 L274.3 390.0 L274.4 390.0 L274.5 389.9 L274.7 389.9 L274.8 389.9 L274.9 389.8 L275.0 389.8 L275.1 389.7 L275.2 389.6 L275.3 389.5 L275.4 389.4 L275.5 389.2 L275.5 389.0 L275.6 388.8 L275.6 388.5 L275.7 388.1 L275.7 387.8 L275.7 387.3 L275.7 386.9 L275.7 386.5 L275.7 386.1 L275.8 385.7 L275.8 385.4 L275.9 385.2 L276.0 385.0 L276.1 384.8 L276.2 384.7 L276.3 384.6 L276.5 384.6 L276.6 384.5 L276.7 384.5 L276.9 384.5 L277.0 384.5 L277.1 384.5 L277.3 384.5 L277.4 384.5 L277.6 384.5 L277.7 384.6 L277.9 384.6 L278.0 384.6 L278.2 384.7 L278.3 384.7 L278.5 384.8 L278.6 384.9 L278.8 385.0 L279.0 385.1 L279.1 385.3 L279.3 385.5 L279.5 385.7 L279.7 386.0 L279.9 386.3 L280.1 386.6 L280.3 387.0 L280.4 387.4 L280.6 387.7 L280.8 388.0 L281.0 388.3 L281.1 388.5 L281.3 388.7 L281.4 388.8 L281.6 388.9 L281.7 389.0 L281.9 389.1 L282.0 389.1 L282.1 389.2 L282.2 389.2 L282.4 389.2 L282.5 389.2 L282.6 389.3 L282.7 389.3 L282.9 389.3 L283.0 389.3 L283.1 389.3 L283.2 389.3 L283.3 389.2 L283.5 389.2 L283.6 389.2 L283.7 389.2 L283.8 389.1 L283.9 389.0 L284.0 389.0 L284.2 388.9 L284.3 388.7 L284.4 388.6 L284.5 388.4 L284.6 388.2 L284.7 388.0 L284.8 387.7 L284.9 387.5 L285.1 387.3 L285.2 387.1 L285.3 386.9 L285.4 386.8 L285.6 386.6 L285.7 386.6 L285.8 386.5 L285.9 386.5 L286.1 386.5 L286.2 386.5 L286.3 386.5 L286.5 386.5 L286.6 386.5 L286.7 386.6 L286.9 386.6 L287.0 386.7 L287.1 386.7 L287.3 386.7 L287.4 386.8 L287.5 386.9 L287.7 386.9 L287.8 387.0 L287.9 387.0 L288.0 387.1 L288.2 387.2 L288.3 387.3 L288.4 387.4 L288.6 387.5 L288.7 387.7 L288.8 387.8 L288.9 388.0 L289.0 388.2 L289.2 388.4 L289.3 388.6 L289.4 388.8 L289.5 389.0 L289.6 389.2 L289.7 389.4 L289.8 389.6 L289.9 389.7 L290.1 389.9 L290.2 390.0 L290.3 390.1 L290.4 390.1 L290.5 390.2 L290.6 390.3 L290.8 390.4 L290.9 390.4 L291.0 390.5 L291.1 390.6 L291.2 390.7 L291.3 390.7 L291.5 390.8 L291.6 390.8 L291.7 390.9 L291.8 391.0 L291.9 391.0 L292.0 391.1 L292.2 391.1 L292.3 391.2 L292.4 391.2 L292.5 391.2 L292.6 391.3 L292.8 391.3 L292.9 391.3 L293.0 391.2 L293.1 391.2 L293.3 391.2 L293.4 391.1 L293.6 391.0 L293.7 390.9 L293.9 390.8 L294.0 390.8 L294.2 390.7 L294.3 390.6 L294.4 390.6 L294.6 390.6 L294.7 390.6 L294.8 390.6 L295.0 390.7 L295.1 390.7 L295.2 390.8 L295.3 390.8 L295.4 390.9 L295.6 390.9 L295.7 391.0 L295.8 391.1 L295.9 391.2 L296.0 391.2 L296.1 391.3 L296.3 391.4 L296.4 391.5 L296.5 391.6 L296.6 391.7 L296.7 391.8 L296.8 391.9 L296.9 392.0 L297.0 392.1 L297.1 392.2 L297.2 392.3 L297.3 392.5 L297.4 392.7 L297.5 392.8 L297.5 393.0 L297.6 393.3 L297.7 393.5 L297.7 393.7 L297.8 394.0 L297.8 394.2 L297.9 394.4 L297.9 394.6 L298.0 394.8 L298.1 395.0 L298.2 395.1 L298.3 395.2 L298.3 395.4 L298.4 395.5 L298.5 395.6 L280.0 420.0 L280.0 500.0 L230.0 540.0 Z" stroke="#fff" stroke-width="0.01" fill="#fff" stroke-linejoin="round" stroke-linecap="round" />
<path d="M192.6 556.0 L192.5 555.9 L192.4 555.8 L192.3 555.7 L192.2 555.6 L192.1 555.5 L192.0 555.3 L191.9 555.1 L191.9 554.9 L191.8 554.7 L191.8 554.5 L191.7 554.2 L191.7 553.8 L191.8 553.4 L191.8 552.9 L191.9 552.3 L192.1 551.7 L192.2 551.0 L192.4 550.3 L192.5 549.7 L192.7 549.0 L192.8 548.4 L192.9 547.9 L193.0 547.4 L193.1 547.1 L193.1 546.7 L193.1 546.4 L193.1 546.2 L193.1 546.0 L193.0 545.8 L193.0 545.7 L192.9 545.5 L192.9 545.4 L192.8 545.3 L192.8 545.2 L192.7 545.1 L192.6 545.0 L192.5 544.9 L192.5 544.9 L192.4 544.8 L192.3 544.7 L192.2 544.7 L192.1 544.7 L191.9 544.7 L191.8 544.7 L191.7 544.8 L191.5 544.9 L191.3 545.0 L191.0 545.2 L190.7 545.5 L190.4 545.8 L190.1 546.2 L189.7 546.7 L189.3 547.2 L188.9 547.6 L188.5 548.1 L188.1 548.5 L187.8 548.8 L187.5 549.0 L187.2 549.2 L187.0 549.3 L186.8 549.4 L186.6 549.4 L186.4 549.4 L186.3 549.4 L186.2 549.3 L186.0 549.3 L185.9 549.2 L185.8 549.1 L185.7 549.0 L185.6 548.9 L185.5 548.8 L185.5 548.7 L185.4 548.5 L185.3 548.4 L185.3 548.2 L185.2 548.0 L185.2 547.9 L185.1 547.6 L185.1 547.4 L185.2 547.1 L185.2 546.8 L185.3 546.4 L185.5 546.0 L185.7 545.5 L185.9 544.9 L186.2 544.3 L186.6 543.6 L186.9 542.9 L187.2 542.3 L187.5 541.7 L187.7 541.2 L187.9 540.7 L188.1 540.3 L188.2 540.0 L188.3 539.7 L188.3 539.4 L188.3 539.2 L188.3 539.0 L188.3 538.9 L188.3 538.7 L188.3 538.6 L188.2 538.4 L188.2 538.3 L188.1 538.2 L188.1 538.1 L188.0 538.0 L187.9 537.9 L187.8 537.8 L187.7 537.7 L187.6 537.7 L187.5 537.6 L187.4 537.6 L187.2 537.7 L187.0 537.7 L186.7 537.8 L186.4 538.0 L186.1 538.2 L185.7 538.5 L185.2 538.8 L184.7 539.2 L184.1 539.6 L183.6 540.0 L183.1 540.3 L182.7 540.6 L182.3 540.8 L181.9 541.0 L181.7 541.1 L181.4 541.1 L181.2 541.1 L181.1 541.1 L180.9 541.0 L180.8 540.9 L180.7 540.9 L180.6 540.7 L180.5 540.6 L180.4 540.5 L180.4 540.4 L180.3 540.2 L180.2 540.1 L180.2 539.9 L180.2 539.7 L180.1 539.5 L180.1 539.3 L180.2 539.1 L180.2 538.9 L180.3 538.6 L180.4 538.3 L180.6 537.9 L180.9 537.4 L181.2 536.9 L181.6 536.4 L182.0 535.8 L182.5 535.2 L183.0 534.5 L183.4 534.0 L183.8 533.4 L184.1 532.9 L184.4 532.5 L184.6 532.2 L184.7 531.9 L184.8 531.6 L184.9 531.4 L184.9 531.2 L185.0 531.0 L185.0 530.9 L184.9 530.7 L184.9 530.5 L184.9 530.4 L184.8 530.3 L184.8 530.1 L184.7 530.0 L184.7 529.9 L184.6 529.8 L184.5 529.7 L184.4 529.7 L184.2 529.6 L184.0 529.6 L183.8 529.6 L183.5 529.7 L183.1 529.8 L182.7 530.0 L182.2 530.2 L181.6 530.5 L181.0 530.8 L180.3 531.1 L179.7 531.4 L179.2 531.6 L178.7 531.8 L178.3 531.9 L178.0 532.0 L177.7 532.0 L177.5 531.9 L177.4 531.9 L177.2 531.8 L177.1 531.7 L177.0 531.5 L176.9 531.4 L176.9 531.3 L176.8 531.1 L176.8 531.0 L176.7 530.8 L176.7 530.6 L176.7 530.4 L176.7 530.2 L176.7 530.0 L176.8 529.8 L176.9 529.5 L177.0 529.3 L177.2 528.9 L177.5 528.6 L177.9 528.1 L178.3 527.6 L178.8 527.1 L179.4 526.5 L180.0 525.9 L180.6 525.4 L181.2 524.9 L181.6 524.4 L182.0 524.0 L182.2 523.7 L182.4 523.4 L182.6 523.1 L182.7 522.9 L182.8 522.7 L182.8 522.5 L182.8 522.3 L182.8 522.1 L182.8 522.0 L182.8 521.8 L182.8 521.7 L182.7 521.5 L182.7 521.4 L182.6 521.3 L182.5 521.1 L182.4 521.0 L182.3 521.0 L182.1 520.9 L181.8 520.9 L181.5 520.9 L181.1 521.0 L180.5 521.1 L179.9 521.3 L179.3 521.5 L178.5 521.7 L177.8 522.0 L177.2 522.1 L176.6 522.3 L176.2 522.3 L175.8 522.4 L175.5 522.3 L175.3 522.3 L175.1 522.2 L175.0 522.1 L174.9 521.9 L174.8 521.8 L174.8 521.6 L174.7 521.5 L174.7 521.3 L174.7 521.1 L174.7 520.9 L174.7 520.7 L174.7 520.5 L174.7 520.3 L174.8 520.1 L174.9 519.8 L175.1 519.6 L175.4 519.2 L175.7 518.9 L176.2 518.5 L176.7 518.0 L177.4 517.5 L178.1 517.0 L178.8 516.5 L179.5 516.0 L180.1 515.5 L180.6 515.1 L180.9 514.8 L181.2 514.5 L181.4 514.2 L181.6 514.0 L181.7 513.8 L181.8 513.6 L181.8 513.4 L181.8 513.2 L181.8 513.0 L181.8 512.8 L181.8 512.7 L181.8 512.5 L181.7 512.4 L181.7 512.2 L181.6 512.1 L181.5 512.0 L181.3 511.9 L181.1 511.8 L180.7 511.8 L180.3 511.8 L179.8 511.9 L179.1 512.0 L178.4 512.1 L177.6 512.2 L176.8 512.4 L176.1 512.5 L175.5 512.5 L175.1 512.6 L174.7 512.5 L174.4 512.4 L174.2 512.3 L174.1 512.2 L174.0 512.1 L173.9 511.9 L173.9 511.7 L173.8 511.6 L173.8 511.4 L173.8 511.2 L173.8 511.0 L173.9 510.8 L173.9 510.6 L174.0 510.4 L174.1 510.1 L174.3 509.9 L174.5 509.6 L174.8 509.3 L175.3 509.0 L175.8 508.6 L176.5 508.1 L177.3 507.7 L178.1 507.2 L178.9 506.8 L179.6 506.3 L180.2 506.0 L180.7 505.6 L181.0 505.3 L181.3 505.1 L181.5 504.8 L181.6 504.6 L181.7 504.4 L181.8 504.2 L181.8 504.0 L181.8 503.8 L181.9 503.7 L181.9 503.5 L181.8 503.3 L181.8 503.2 L181.7 503.0 L181.6 502.9 L181.5 502.7 L181.3 502.6 L181.0 502.5 L180.6 502.5 L180.1 502.5 L179.4 502.5 L178.6 502.6 L177.8 502.6 L177.0 502.7 L176.2 502.7 L175.6 502.7 L175.1 502.7 L174.8 502.6 L174.5 502.5 L174.3 502.3 L174.2 502.2 L174.1 502.0 L174.1 501.8 L174.0 501.7 L174.0 501.5 L174.0 501.3 L174.1 501.1 L174.1 500.9 L174.2 500.7 L174.3 500.5 L174.4 500.2 L174.6 500.0 L174.8 499.7 L175.2 499.4 L175.7 499.1 L176.3 498.8 L177.1 498.4 L177.9 498.0 L178.8 497.6 L179.7 497.2 L180.4 496.8 L181.1 496.5 L181.5 496.2 L181.9 496.0 L182.2 495.7 L182.3 495.5 L182.5 495.3 L182.6 495.1 L182.7 494.9 L182.7 494.7 L182.8 494.5 L182.8 494.3 L182.8 494.2 L182.8 494.0 L182.7 493.8 L182.6 493.7 L182.5 493.5 L182.3 493.4 L182.0 493.2 L181.6 493.2 L181.0 493.1 L180.3 493.1 L179.5 493.0 L178.6 493.0 L177.8 493.0 L177.0 493.0 L176.4 492.9 L176.0 492.8 L175.7 492.7 L175.4 492.5 L175.3 492.4 L175.2 492.2 L175.2 492.0 L175.1 491.8 L175.1 491.6 L175.2 491.4 L175.2 491.2 L175.3 491.0 L175.4 490.8 L175.5 490.6 L175.6 490.4 L175.8 490.1 L176.1 489.9 L176.5 489.6 L177.0 489.3 L177.7 489.0 L178.5 488.7 L179.5 488.4 L180.4 488.0 L181.3 487.7 L182.1 487.4 L182.7 487.1 L183.2 486.9 L183.6 486.6 L183.8 486.4 L184.0 486.2 L184.2 486.0 L184.3 485.8 L184.4 485.6 L184.4 485.4 L184.5 485.2 L184.5 485.0 L184.5 484.8 L184.5 484.7 L184.4 484.5 L184.3 484.3 L184.1 484.2 L183.8 484.0 L183.4 483.9 L182.9 483.8 L182.2 483.7 L181.3 483.6 L180.4 483.5 L179.6 483.4 L178.8 483.3 L178.2 483.2 L177.8 483.0 L177.5 482.9 L177.3 482.7 L177.2 482.5 L177.1 482.3 L177.1 482.1 L177.1 481.9 L177.1 481.7 L177.2 481.5 L177.2 481.3 L177.3 481.1 L177.4 480.9 L177.6 480.7 L177.8 480.5 L178.1 480.2 L178.4 480.0 L178.9 479.8 L179.6 479.5 L180.4 479.3 L181.4 479.0 L182.4 478.7 L183.4 478.4 L184.3 478.2 L184.9 477.9 L185.5 477.7 L185.9 477.5 L186.2 477.3 L186.4 477.1 L186.5 476.9 L186.7 476.7 L186.8 476.5 L186.8 476.3 L186.9 476.1 L186.9 475.9 L186.9 475.7 L186.9 475.6 L186.9 475.4 L186.7 475.2 L186.6 475.0 L186.2 474.8 L185.8 474.7 L185.2 474.5 L184.4 474.4 L183.5 474.2 L182.6 474.0 L181.8 473.9 L181.1 473.7 L180.6 473.5 L180.2 473.4 L180.0 473.2 L179.8 473.0 L179.8 472.8 L179.7 472.6 L179.8 472.4 L179.8 472.2 L179.8 472.0 L179.9 471.8 L180.0 471.6 L180.1 471.3 L180.3 471.1 L180.5 470.9 L180.8 470.7 L181.2 470.5 L181.7 470.3 L182.4 470.1 L183.2 469.9 L184.2 469.7 L185.3 469.5 L186.3 469.3 L187.2 469.1 L187.9 468.9 L188.5 468.7 L188.9 468.5 L189.2 468.3 L189.4 468.1 L189.6 467.9 L189.7 467.7 L189.8 467.5 L189.9 467.3 L190.0 467.2 L190.0 467.0 L190.0 466.8 L190.0 466.6 L190.0 466.4 L189.8 466.2 L189.6 466.0 L189.3 465.8 L188.8 465.6 L188.1 465.4 L187.3 465.2 L186.3 465.0 L185.5 464.7 L184.7 464.5 L184.1 464.3 L183.6 464.1 L183.4 463.9 L183.2 463.7 L183.1 463.4 L183.1 463.2 L183.1 463.0 L183.1 462.8 L183.2 462.6 L183.3 462.4 L183.4 462.2 L183.5 462.0 L183.7 461.8 L183.9 461.6 L184.2 461.4 L184.5 461.3 L185.0 461.1 L185.7 460.9 L186.5 460.8 L187.5 460.6 L188.6 460.5 L189.7 460.3 L190.6 460.2 L191.4 460.0 L192.0 459.9 L192.4 459.7 L192.7 459.5 L193.0 459.4 L193.2 459.2 L193.3 459.0 L193.5 458.8 L193.6 458.6 L193.6 458.4 L193.7 458.3 L193.7 458.1 L193.7 457.9 L193.7 457.7 L193.6 457.5 L193.4 457.3 L193.0 457.0 L192.5 456.8 L191.8 456.5 L191.0 456.3 L190.1 456.0 L189.2 455.7 L188.5 455.4 L187.9 455.1 L187.5 454.9 L187.3 454.7 L187.1 454.5 L187.0 454.2 L187.0 454.0 L187.1 453.8 L187.1 453.6 L187.2 453.4 L187.3 453.2 L187.4 453.0 L187.6 452.8 L187.8 452.7 L188.0 452.5 L188.3 452.3 L188.7 452.1 L189.3 452.0 L190.0 451.9 L190.9 451.8 L192.0 451.7 L193.1 451.6 L194.1 451.6 L195.0 451.5 L195.7 451.4 L196.3 451.3 L196.7 451.1 L197.0 451.0 L197.3 450.8 L197.4 450.6 L197.6 450.4 L197.7 450.3 L197.8 450.1 L197.9 449.9 L198.0 449.7 L198.0 449.5 L198.0 449.3 L198.0 449.1 L197.8 448.9 L197.6 448.7 L197.2 448.4 L196.6 448.1 L195.9 447.8 L195.0 447.5 L194.1 447.1 L193.3 446.8 L192.7 446.5 L192.2 446.2 L191.9 445.9 L191.7 445.7 L191.6 445.5 L191.6 445.2 L191.6 445.0 L191.7 444.8 L191.7 444.6 L191.8 444.4 L192.0 444.3 L192.1 444.1 L192.3 443.9 L192.5 443.7 L192.8 443.6 L193.2 443.4 L193.7 443.3 L194.3 443.2 L195.2 443.2 L196.1 443.1 L197.2 443.1 L198.3 443.1 L199.3 443.1 L200.1 443.1 L200.8 443.0 L201.2 442.9 L201.6 442.8 L201.9 442.6 L202.1 442.5 L202.3 442.3 L202.4 442.2 L202.6 442.0 L202.7 441.8 L202.8 441.6 L202.8 441.4 L202.9 441.2 L202.8 441.0 L202.8 440.8 L202.6 440.6 L202.3 440.3 L201.8 440.0 L201.2 439.7 L200.4 439.3 L199.5 438.9 L198.7 438.5 L198.0 438.1 L197.4 437.8 L197.1 437.5 L196.8 437.2 L196.7 437.0 L196.7 436.8 L196.7 436.6 L196.8 436.4 L196.8 436.2 L196.9 436.0 L197.1 435.8 L197.2 435.6 L197.4 435.4 L197.6 435.3 L197.9 435.1 L198.2 435.0 L198.6 434.9 L199.2 434.8 L199.9 434.8 L200.8 434.8 L201.9 434.9 L203.0 435.0 L204.0 435.0 L204.9 435.1 L205.6 435.1 L206.2 435.0 L206.6 434.9 L207.0 434.8 L207.2 434.7 L207.5 434.5 L207.6 434.4 L207.8 434.2 L207.9 434.1 L208.0 433.9 L208.1 433.7 L208.2 433.5 L208.2 433.3 L208.2 433.1 L208.1 432.9 L207.9 432.6 L207.5 432.3 L207.1 432.0 L206.4 431.6 L205.6 431.1 L204.8 430.7 L204.0 430.3 L203.4 429.9 L202.9 429.5 L202.6 429.2 L202.4 428.9 L202.3 428.7 L202.3 428.5 L202.4 428.3 L202.5 428.1 L202.6 427.9 L202.7 427.7 L202.8 427.6 L203.0 427.4 L203.2 427.2 L203.4 427.1 L203.7 427.0 L204.0 426.9 L204.5 426.8 L205.1 426.8 L205.8 426.8 L206.7 426.9 L207.7 427.0 L208.8 427.2 L209.8 427.3 L210.7 427.4 L211.4 427.4 L212.0 427.4 L212.4 427.4 L212.7 427.3 L213.0 427.2 L213.2 427.0 L213.4 426.9 L213.6 426.7 L213.7 426.6 L213.8 426.4 L213.9 426.3 L214.0 426.1 L214.1 425.9 L214.1 425.7 L214.0 425.5 L213.8 425.2 L213.5 424.9 L213.1 424.5 L212.5 424.1 L211.8 423.6 L211.0 423.1 L210.2 422.6 L209.6 422.2 L209.1 421.8 L208.8 421.5 L208.6 421.2 L208.5 420.9 L208.5 420.7 L208.6 420.5 L208.6 420.3 L208.7 420.1 L208.9 420.0 L209.0 419.8 L209.2 419.7 L209.4 419.5 L209.6 419.4 L209.8 419.3 L210.1 419.2 L210.5 419.1 L211.0 419.1 L211.7 419.2 L212.5 419.3 L213.4 419.5 L214.5 419.7 L215.5 419.9 L216.4 420.1 L217.2 420.2 L217.9 420.2 L218.4 420.3 L218.8 420.2 L219.1 420.1 L219.3 420.0 L219.5 419.9 L219.7 419.8 L219.9 419.7 L220.0 419.5 L220.2 419.4 L220.3 419.2 L220.4 419.1 L220.4 418.9 L220.4 418.7 L220.3 418.4 L220.2 418.2 L219.9 417.9 L219.5 417.5 L219.0 417.0 L218.3 416.5 L217.5 415.9 L216.8 415.4 L216.2 414.9 L215.8 414.5 L215.5 414.1 L215.3 413.9 L215.3 413.6 L215.2 413.4 L215.3 413.2 L215.4 413.0 L215.5 412.8 L215.6 412.7 L215.8 412.5 L215.9 412.4 L216.1 412.3 L216.3 412.1 L216.5 412.0 L216.8 412.0 L217.2 411.9 L217.6 411.9 L218.2 412.0 L218.9 412.1 L219.7 412.3 L220.7 412.6 L221.7 412.8 L222.6 413.1 L223.5 413.3 L224.2 413.5 L224.8 413.6 L225.2 413.6 L225.6 413.6 L225.9 413.5 L226.1 413.5 L226.3 413.4 L226.5 413.3 L226.7 413.1 L226.8 413.0 L227.0 412.9 L227.1 412.7 L227.2 412.6 L227.2 412.4 L227.2 412.2 L227.2 412.0 L227.1 411.7 L226.9 411.4 L226.5 411.0 L226.0 410.5 L225.4 410.0 L224.8 409.4 L224.1 408.8 L223.5 408.3 L223.1 407.8 L222.8 407.4 L222.6 407.1 L222.5 406.8 L222.5 406.6 L222.5 406.4 L222.6 406.2 L222.7 406.1 L222.8 405.9 L223.0 405.8 L223.1 405.7 L223.3 405.6 L223.5 405.4 L223.7 405.4 L224.0 405.3 L224.3 405.2 L224.6 405.2 L225.1 405.3 L225.6 405.4 L226.3 405.6 L227.1 405.8 L228.0 406.2 L228.9 406.5 L229.9 406.9 L230.7 407.1 L231.4 407.4 L231.9 407.5 L232.4 407.6 L232.7 407.6 L233.0 407.6 L233.3 407.5 L233.5 407.4 L233.7 407.4 L233.8 407.3 L234.0 407.2 L234.1 407.0 L234.3 406.9 L234.4 406.8 L234.5 406.6 L234.5 406.5 L234.5 406.3 L234.5 406.0 L234.4 405.7 L234.1 405.4 L233.8 405.0 L233.4 404.4 L232.8 403.9 L232.2 403.2 L231.6 402.6 L231.1 402.1 L230.7 401.6 L230.5 401.2 L230.3 400.9 L230.3 400.6 L230.3 400.4 L230.3 400.2 L230.4 400.1 L230.5 399.9 L230.6 399.8 L230.8 399.6 L231.0 399.5 L231.1 399.4 L231.3 399.3 L231.5 399.3 L231.8 399.2 L232.0 399.2 L232.3 399.2 L232.7 399.2 L233.2 399.3 L233.7 399.5 L234.4 399.8 L235.2 400.1 L236.0 400.5 L236.9 401.0 L237.7 401.3 L238.4 401.7 L239.1 401.9 L239.6 402.1 L240.0 402.2 L240.3 402.3 L240.6 402.3 L240.9 402.3 L241.1 402.2 L241.3 402.2 L241.5 402.1 L241.6 402.0 L241.8 401.9 L241.9 401.8 L242.0 401.7 L242.1 401.6 L242.2 401.4 L242.3 401.3 L242.3 401.1 L242.2 400.8 L242.1 400.5 L241.9 400.1 L241.6 399.7 L241.2 399.1 L240.7 398.5 L240.2 397.9 L239.7 397.2 L239.3 396.7 L239.0 396.2 L238.7 395.8 L238.6 395.5 L238.6 395.2 L238.6 395.0 L238.6 394.8 L238.7 394.6 L238.8 394.5 L239.0 394.4 L239.1 394.3 L239.3 394.2 L239.4 394.1 L239.6 394.0 L239.8 393.9 L240.0 393.9 L240.3 393.9 L240.5 393.9 L240.8 393.9 L241.2 394.0 L241.6 394.2 L242.1 394.4 L242.8 394.7 L243.4 395.1 L244.2 395.6 L245.0 396.1 L245.7 396.5 L246.4 396.9 L247.0 397.3 L247.5 397.5 L247.9 397.7 L248.3 397.8 L248.6 397.9 L248.8 397.9 L249.0 397.9 L249.2 397.9 L249.4 397.8 L249.6 397.8 L249.7 397.7 L249.9 397.6 L250.0 397.5 L250.1 397.4 L250.2 397.3 L250.3 397.2 L250.4 397.1 L250.4 396.9 L250.4 396.7 L250.4 396.4 L250.2 396.0 L250.0 395.6 L249.7 395.0 L249.3 394.4 L248.9 393.8 L248.5 393.1 L248.1 392.5 L247.8 392.0 L247.6 391.5 L247.5 391.1 L247.4 390.8 L247.4 390.6 L247.4 390.4 L247.5 390.2 L247.6 390.1 L247.7 390.0 L247.9 389.9 L248.0 389.8 L248.2 389.7 L248.3 389.6 L248.5 389.6 L248.7 389.5 L248.9 389.5 L249.1 389.5 L249.3 389.5 L249.6 389.6 L249.9 389.6 L250.2 389.8 L250.6 390.0 L251.1 390.3 L251.7 390.7 L252.3 391.2 L252.9 391.7 L253.6 392.2 L254.3 392.8 L254.9 393.2 L255.4 393.6 L255.9 393.9 L256.2 394.2 L256.6 394.3 L256.8 394.4 L257.1 394.5 L257.3 394.5 L257.5 394.6 L257.7 394.6 L257.8 394.5 L258.0 394.5 L258.2 394.5 L258.3 394.4 L258.4 394.4 L258.6 394.3 L258.7 394.2 L258.8 394.1 L258.8 394.0 L258.9 393.8 L258.9 393.6 L258.9 393.4 L258.8 393.0 L258.7 392.6 L258.5 392.2 L258.3 391.6 L258.0 391.0 L257.7 390.3 L257.4 389.6 L257.1 389.0 L256.9 388.5 L256.8 388.1 L256.7 387.7 L256.7 387.4 L256.7 387.2 L256.8 387.0 L256.8 386.8 L256.9 386.7 L257.1 386.6 L257.2 386.5 L257.3 386.5 L257.5 386.4 L257.7 386.4 L257.8 386.3 L258.0 386.3 L258.2 386.3 L258.4 386.3 L258.6 386.3 L258.8 386.3 L259.0 386.4 L259.3 386.6 L259.6 386.7 L259.9 387.0 L260.3 387.3 L260.7 387.7 L261.2 388.2 L261.8 388.7 L262.3 389.3 L262.9 389.9 L263.4 390.5 L263.8 391.0 L264.3 391.4 L264.6 391.7 L264.9 392.0 L265.2 392.1 L265.4 392.3 L265.6 392.3 L265.8 392.4 L266.0 392.4 L266.1 392.4 L266.2 392.4 L266.4 392.3 L266.5 392.3 L266.6 392.3 L266.7 392.2 L266.8 392.1 L267.0 392.1 L267.0 392.0 L267.1 391.9 L267.2 391.7 L267.3 391.6 L267.3 391.4 L267.3 391.1 L267.3 390.8 L267.3 390.5 L267.2 390.0 L267.1 389.5 L266.9 388.9 L266.8 388.3 L266.6 387.7 L266.4 387.1 L266.3 386.6 L266.3 386.2 L266.2 385.8 L266.3 385.5 L266.3 385.3 L266.4 385.1 L266.5 384.9 L266.6 384.8 L266.7 384.7 L266.8 384.7 L267.0 384.6 L267.1 384.6 L267.2 384.5 L267.4 384.5 L267.5 384.5 L267.7 384.5 L267.9 384.5 L268.0 384.5 L268.2 384.5 L268.4 384.6 L268.6 384.7 L268.8 384.7 L269.0 384.9 L269.2 385.0 L269.4 385.2 L269.7 385.5 L270.0 385.8 L270.3 386.2 L270.6 386.6 L271.0 387.1 L271.3 387.6 L271.7 388.1 L272.0 388.5 L272.3 388.9 L272.5 389.2 L272.8 389.4 L273.0 389.6 L273.2 389.7 L273.3 389.8 L273.5 389.9 L273.6 390.0 L273.8 390.0 L273.9 390.0 L274.0 390.0 L274.2 390.0 L274.3 390.0 L274.4 390.0 L274.5 389.9 L274.7 389.9 L274.8 389.9 L274.9 389.8 L275.0 389.8 L275.1 389.7 L275.2 389.6 L275.3 389.5 L275.4 389.4 L275.5 389.2 L275.5 389.0 L275.6 388.8 L275.6 388.5 L275.7 388.1 L275.7 387.8 L275.7 387.3 L275.7 386.9 L275.7 386.5 L275.7 386.1 L275.8 385.7 L275.8 385.4 L275.9 385.2 L276.0 385.0 L276.1 384.8 L276.2 384.7 L276.3 384.6 L276.5 384.6 L276.6 384.5 L276.7 384.5 L276.9 384.5 L277.0 384.5 L277.1 384.5 L277.3 384.5 L277.4 384.5 L277.6 384.5 L277.7 384.6 L277.9 384.6 L278.0 384.6 L278.2 384.7 L278.3 384.7 L278.5 384.8 L278.6 384.9 L278.8 385.0 L279.0 385.1 L279.1 385.3 L279.3 385.5 L279.5 385.7 L279.7 386.0 L279.9 386.3 L280.1 386.6 L280.3 387.0 L280.4 387.4 L280.6 387.7 L280.8 388.0 L281.0 388.3 L281.1 388.5 L281.3 388.7 L281.4 388.8 L281.6 388.9 L281.7 389.0 L281.9 389.1 L282.0 389.1 L282.1 389.2 L282.2 389.2 L282.4 389.2 L282.5 389.2 L282.6 389.3 L282.7 389.3 L282.9 389.3 L283.0 389.3 L283.1 389.3 L283.2 389.3 L283.3 389.2 L283.5 389.2 L283.6 389.2 L283.7 389.2 L283.8 389.1 L283.9 389.0 L284.0 389.0 L284.2 388.9 L284.3 388.7 L284.4 388.6 L284.5 388.4 L284.6 388.2 L284.7 388.0 L284.8 387.7 L284.9 387.5 L285.1 387.3 L285.2 387.1 L285.3 386.9 L285.4 386.8 L285.6 386.6 L285.7 386.6 L285.8 386.5 L285.9 386.5 L286.1 386.5 L286.2 386.5 L286.3 386.5 L286.5 386.5 L286.6 386.5 L286.7 386.6 L286.9 386.6 L287.0 386.7 L287.1 386.7 L287.3 386.7 L287.4 386.8 L287.5 386.9 L287.7 386.9 L287.8 387.0 L287.9 387.0 L288.0 387.1 L288.2 387.2 L288.3 387.3 L288.4 387.4 L288.6 387.5 L288.7 387.7 L288.8 387.8 L288.9 388.0 L289.0 388.2 L289.2 388.4 L289.3 388.6 L289.4 388.8 L289.5 389.0 L289.6 389.2 L289.7 389.4 L289.8 389.6 L289.9 389.7 L290.1 389.9 L290.2 390.0 L290.3 390.1 L290.4 390.1 L290.5 390.2 L290.6 390.3 L290.8 390.4 L290.9 390.4 L291.0 390.5 L291.1 390.6 L291.2 390.7 L291.3 390.7 L291.5 390.8 L291.6 390.8 L291.7 390.9 L291.8 391.0 L291.9 391.0 L292.0 391.1 L292.2 391.1 L292.3 391.2 L292.4 391.2 L292.5 391.2 L292.6 391.3 L292.8 391.3 L292.9 391.3 L293.0 391.2 L293.1 391.2 L293.3 391.2 L293.4 391.1 L293.6 391.0 L293.7 390.9 L293.9 390.8 L294.0 390.8 L294.2 390.7 L294.3 390.6 L294.4 390.6 L294.6 390.6 L294.7 390.6 L294.8 390.6 L295.0 390.7 L295.1 390.7 L295.2 390.8 L295.3 390.8 L295.4 390.9 L295.6 390.9 L295.7 391.0 L295.8 391.1 L295.9 391.2 L296.0 391.2 L296.1 391.3 L296.3 391.4 L296.4 391.5 L296.5 391.6 L296.6 391.7 L296.7 391.8 L296.8 391.9 L296.9 392.0 L297.0 392.1 L297.1 392.2 L297.2 392.3 L297.3 392.5 L297.4 392.7 L297.5 392.8 L297.5 393.0 L297.6 393.3 L297.7 393.5 L297.7 393.7 L297.8 394.0 L297.8 394.2 L297.9 394.4 L297.9 394.6 L298.0 394.8 L298.1 395.0 L298.2 395.1 L298.3 395.2 L298.3 395.4 L298.4 395.5 L298.5 395.6" stroke="#000" stroke-width="2.64" fill="none" stroke-linejoin="round" stroke-linecap="round" />
<path d="M292.5 389.2 C293.4 389.7 295.4 390.1 298.0 392.0 C300.6 393.9 305.0 396.6 308.4 400.3 C311.8 404.0 316.0 409.6 318.5 414.2 C321.0 418.8 322.4 423.1 323.6 428.1 C324.8 433.2 325.4 438.9 325.5 444.5 C325.6 450.1 325.1 455.8 324.2 462.0 C323.3 468.2 321.9 475.7 320.0 482.0 C318.1 488.3 315.3 494.4 312.5 500.0 C309.7 505.6 308.0 509.4 303.3 515.6 C298.6 521.8 290.3 531.4 284.4 537.1 C278.5 542.8 273.9 546.1 268.0 549.7 C262.1 553.3 255.3 556.3 249.0 558.6 C242.7 560.9 235.7 562.9 230.0 563.5 C224.3 564.1 219.5 563.2 215.0 562.5 C210.5 561.8 206.9 560.8 203.0 559.5 C199.1 558.2 193.5 555.6 191.6 554.8" stroke="#000" stroke-width="2.88" fill="none" stroke-linejoin="round" stroke-linecap="round" />
<path d="M225.7 564.6 C223.4 564.0 215.6 562.4 212.0 561.0 C208.4 559.6 207.1 558.9 204.3 556.0 C201.5 553.1 197.7 547.7 195.4 543.4 C193.1 539.1 191.6 533.6 190.6 530.0 C189.6 526.4 189.8 526.4 189.7 521.9 C189.6 517.4 189.5 509.2 190.3 502.9 C191.1 496.6 192.6 490.3 194.5 484.0 C196.4 477.7 198.6 471.8 201.7 465.0 C204.8 458.2 208.3 450.5 213.0 443.5 C217.7 436.5 225.2 428.4 230.0 423.0 C234.8 417.6 237.8 414.7 242.0 411.0 C246.2 407.3 251.0 403.3 255.3 401.0 C259.6 398.7 263.8 397.9 268.0 397.0 C272.2 396.1 276.8 395.6 280.6 395.3 C284.4 395.1 288.0 395.1 291.0 395.5 C294.0 395.9 297.2 397.2 298.5 397.5" stroke="#000" stroke-width="1.68" fill="none" stroke-linejoin="round" stroke-linecap="round" />
<path d="M225.7 561.1 C224.1 560.2 218.5 557.8 216.0 555.5 C213.5 553.2 212.5 550.3 210.6 547.2 C208.7 544.1 206.0 540.2 204.5 537.0 C203.0 533.8 202.4 531.9 201.7 528.2 C201.0 524.5 200.5 519.2 200.3 515.0 C200.1 510.8 199.8 508.1 200.5 502.9 C201.2 497.7 202.4 490.3 204.5 484.0 C206.6 477.7 210.5 470.3 213.1 465.0 C215.7 459.7 217.2 456.6 220.0 452.0 C222.8 447.4 226.7 441.8 230.0 437.5 C233.3 433.2 236.7 429.3 240.0 426.0 C243.3 422.7 246.7 420.1 250.0 417.5 C253.3 414.9 256.6 412.5 260.0 410.5 C263.4 408.5 268.8 406.2 270.5 405.3" stroke="#000" stroke-width="1.56" fill="none" stroke-linejoin="round" stroke-linecap="round" />
<path d="M278.6 402.6 C279.3 402.5 281.9 402.1 282.6 402.0" stroke="#000" stroke-width="1.56" fill="none" stroke-linejoin="round" stroke-linecap="round" />
<path d="M295.9 402.3 C297.4 402.8 301.9 404.1 305.0 405.5 C308.1 406.9 312.5 409.1 314.8 410.6 C317.1 412.1 318.3 413.9 319.0 414.5" stroke="#000" stroke-width="1.56" fill="none" stroke-linejoin="round" stroke-linecap="round" />
<ellipse cx="263.0" cy="482.0" rx="24.0" ry="46.8" transform="rotate(33.5 263.0 482.0)" fill="#fff" stroke="#000" stroke-width="2.88" />
<path d="M296.7 450.8 L297.4 452.4 L298.0 454.3 L298.4 456.4 L298.7 458.5 L298.7 460.9 L298.6 463.3 L298.4 465.9 L297.9 468.6 L297.3 471.4 L296.6 474.2 L295.6 477.1 L294.5 480.1 L293.3 483.0 L291.9 486.0 L290.4 489.0 L288.8 491.9 L287.0 494.8 L285.2 497.6 L283.2 500.4 L281.2 503.1 L279.1 505.7 L276.9 508.1 L274.6 510.5 L272.4 512.7 L270.1 514.7 L267.8 516.6 L265.4 518.3 L263.1 519.8 L260.9 521.1 L258.6 522.2 L256.4 523.1 L254.3 523.8 L252.2 524.3 L250.2 524.5 L248.4 524.6 L246.6 524.4 L244.9 524.0 L243.4 523.4 L242.0 522.5 L240.7 521.5" stroke="#000" stroke-width="1.2" fill="none" stroke-linejoin="round" stroke-linecap="round" />
<path d="M299.0 454.0 L299.5 455.7 L299.8 457.6 L300.0 459.6 L300.0 461.8 L299.9 464.0 L299.7 466.4 L299.2 468.8 L298.7 471.4 L298.0 474.0 L297.2 476.7 L296.2 479.4 L295.1 482.1 L293.9 484.9 L292.5 487.6 L291.1 490.4 L289.5 493.1 L287.9 495.8 L286.1 498.4 L284.3 501.0 L282.4 503.5 L280.4 505.9 L278.4 508.2 L276.4 510.4 L274.3 512.5 L272.2 514.4 L270.0 516.2 L267.9 517.9 L265.8 519.4 L263.7 520.7 L261.6 521.9 L259.6 522.9 L257.6 523.7 L255.6 524.3 L253.8 524.7 L252.0 525.0 L250.3 525.0 L248.7 524.9 L247.2 524.5 L245.8 524.0 L244.5 523.3" stroke="#000" stroke-width="1.2" fill="none" stroke-linejoin="round" stroke-linecap="round" />
<path d="M294.0 456.7 L294.0 456.7 L294.0 456.8 L294.0 456.8 L294.0 456.9 L294.0 456.9 L294.0 457.0 L294.1 457.0 L294.1 457.1 L294.0 457.1 L294.0 457.2 L294.0 457.2 L294.0 457.3 L294.0 457.3 L294.0 457.4 L294.0 457.5 L294.0 457.5 L294.0 457.6 L294.0 457.6 L293.9 457.7 L293.9 457.7 L293.9 457.8 L293.8 457.8 L293.8 457.9 L293.8 457.9 L293.7 458.0 L293.7 458.1 L293.6 458.1 L293.5 458.2 L293.5 458.2 L293.4 458.3 L293.3 458.3 L293.2 458.4 L293.1 458.5 L293.0 458.5 L292.9 458.6 L292.8 458.6 L292.7 458.7 L292.5 458.8 L292.4 458.8 L292.3 458.9 L292.1 459.0 L292.0 459.0 L291.8 459.1 L291.7 459.1 L291.6 459.2 L291.4 459.2 L291.3 459.3 L291.2 459.4 L291.0 459.4 L290.9 459.5 L290.8 459.5 L290.7 459.6 L290.6 459.6 L290.5 459.7 L290.5 459.7 L290.4 459.8 L290.3 459.8 L290.2 459.9 L290.2 459.9 L290.1 460.0 L290.1 460.0 L290.1 460.1 L290.0 460.1 L290.0 460.2 L290.0 460.2 L289.9 460.3 L289.9 460.3 L289.9 460.4 L289.9 460.4 L289.9 460.5 L289.8 460.5 L289.8 460.6 L289.8 460.6 L289.8 460.6 L289.8 460.7 L289.8 460.7 L289.8 460.8 L289.8 460.8 L289.8 460.9 L289.8 460.9 L289.8 461.0 L289.8 461.0 L289.8 461.1 L289.8 461.1 L289.8 461.2 L289.8 461.2 L289.8 461.3 L289.8 461.3 L289.8 461.4 L289.8 461.4 L289.8 461.5 L289.8 461.5 L289.9 461.6 L289.9 461.6 L289.9 461.7 L289.9 461.7 L289.9 461.8 L290.0 461.8 L290.0 461.9 L290.0 461.9 L290.1 462.0 L290.1 462.0 L290.2 462.1 L290.2 462.1 L290.3 462.2 L290.4 462.2 L290.4 462.3 L290.5 462.3 L290.6 462.4 L290.7 462.4 L290.8 462.5 L290.9 462.5 L291.1 462.6 L291.2 462.7 L291.3 462.7 L291.5 462.8 L291.6 462.8 L291.8 462.9 L291.9 463.0 L292.1 463.0 L292.3 463.1 L292.4 463.2 L292.6 463.2 L292.7 463.3 L292.9 463.3 L293.0 463.4 L293.1 463.5 L293.2 463.5 L293.3 463.6 L293.4 463.7 L293.5 463.7 L293.6 463.8 L293.7 463.9 L293.8 463.9 L293.8 464.0 L293.9 464.1 L293.9 464.1 L294.0 464.2 L294.0 464.2 L294.0 464.3 L294.1 464.4 L294.1 464.4 L294.1 464.5 L294.1 464.6 L294.1 464.6 L294.1 464.7 L294.1 464.7 L294.2 464.8 L294.2 464.9 L294.2 464.9 L294.2 465.0 L294.2 465.0 L294.2 465.1 L294.2 465.2 L294.2 465.2 L294.1 465.3 L294.1 465.3 L294.1 465.4 L294.1 465.5 L294.1 465.5 L294.1 465.6 L294.1 465.6 L294.1 465.7 L294.0 465.8 L294.0 465.8 L294.0 465.9 L294.0 465.9 L293.9 466.0 L293.9 466.0 L293.9 466.1 L293.8 466.2 L293.8 466.2 L293.7 466.3 L293.7 466.3 L293.6 466.4 L293.5 466.4 L293.5 466.5 L293.4 466.5 L293.3 466.6 L293.2 466.6 L293.1 466.7 L293.0 466.7 L292.8 466.8 L292.7 466.8 L292.5 466.8 L292.4 466.9 L292.2 466.9 L292.0 466.9 L291.9 467.0 L291.7 467.0 L291.5 467.0 L291.3 467.1 L291.1 467.1 L291.0 467.1 L290.8 467.2 L290.6 467.2 L290.5 467.2 L290.3 467.3 L290.2 467.3 L290.1 467.3 L290.0 467.4 L289.9 467.4 L289.8 467.5 L289.7 467.5 L289.6 467.6 L289.5 467.6 L289.5 467.7 L289.4 467.7 L289.4 467.8 L289.3 467.8 L289.3 467.9 L289.2 467.9 L289.2 468.0 L289.2 468.0 L289.1 468.1 L289.1 468.1 L289.1 468.2 L289.1 468.2 L289.0 468.3 L289.0 468.3 L289.0 468.4 L289.0 468.5 L289.0 468.5 L289.0 468.6 L289.0 468.6 L288.9 468.7 L288.9 468.7 L288.9 468.8 L288.9 468.9 L288.9 468.9 L288.9 469.0 L288.9 469.0 L288.9 469.1 L288.9 469.2 L288.9 469.2 L288.9 469.3 L289.0 469.4 L289.0 469.4 L289.0 469.5 L289.0 469.6 L289.1 469.6 L289.1 469.7 L289.2 469.8 L289.2 469.9 L289.3 469.9 L289.4 470.0 L289.4 470.1 L289.5 470.2 L289.6 470.3 L289.8 470.4 L289.9 470.5 L290.0 470.6 L290.2 470.7 L290.3 470.8 L290.5 470.9 L290.6 471.0 L290.8 471.1 L291.0 471.2 L291.1 471.3 L291.3 471.4 L291.4 471.5 L291.6 471.6 L291.7 471.7 L291.8 471.8 L291.9 471.9 L292.0 472.0 L292.1 472.1 L292.2 472.2 L292.3 472.3 L292.3 472.3 L292.4 472.4 L292.4 472.5 L292.4 472.6 L292.5 472.7 L292.5 472.7 L292.5 472.8 L292.5 472.9 L292.5 473.0 L292.5 473.0 L292.5 473.1 L292.5 473.2 L292.5 473.2 L292.5 473.3 L292.5 473.4 L292.5 473.5 L292.5 473.5 L292.5 473.6 L292.4 473.7 L292.4 473.7 L292.4 473.8 L292.4 473.8 L292.4 473.9 L292.3 474.0 L292.3 474.0 L292.3 474.1 L292.2 474.2 L292.2 474.2 L292.2 474.3 L292.1 474.3 L292.1 474.4 L292.0 474.5 L292.0 474.5 L291.9 474.6 L291.8 474.6 L291.8 474.7 L291.7 474.7 L291.6 474.8 L291.5 474.8 L291.4 474.8 L291.3 474.9 L291.1 474.9 L291.0 474.9 L290.8 475.0 L290.7 475.0 L290.5 475.0 L290.3 475.0 L290.1 475.0 L289.9 475.0 L289.7 475.0 L289.5 475.0 L289.3 475.0 L289.1 475.0 L288.9 475.0 L288.7 475.1 L288.5 475.1 L288.4 475.1 L288.2 475.1 L288.1 475.1 L287.9 475.2 L287.8 475.2 L287.7 475.2 L287.6 475.3 L287.5 475.3 L287.5 475.3 L287.4 475.4 L287.3 475.4 L287.3 475.5 L287.2 475.5 L287.1 475.6 L287.1 475.6 L287.1 475.7 L287.0 475.7 L287.0 475.8 L286.9 475.9 L286.9 475.9 L286.9 476.0 L286.9 476.0 L286.8 476.1 L286.8 476.2 L286.8 476.2 L286.8 476.3 L286.7 476.4 L286.7 476.4 L286.7 476.5 L286.7 476.6 L286.7 476.6 L286.7 476.7 L286.7 476.8 L286.7 476.8 L286.7 476.9 L286.7 477.0 L286.7 477.1 L286.7 477.1 L286.7 477.2 L286.7 477.3 L286.8 477.4 L286.8 477.5 L286.9 477.6 L286.9 477.7 L287.0 477.8 L287.1 477.9 L287.2 478.0 L287.3 478.1 L287.4 478.2 L287.5 478.3 L287.7 478.5 L287.8 478.6 L288.0 478.7 L288.2 478.9 L288.3 479.0 L288.5 479.2 L288.6 479.3 L288.8 479.4 L288.9 479.6 L289.1 479.7 L289.2 479.8 L289.3 479.9 L289.4 480.1 L289.4 480.2 L289.5 480.3 L289.6 480.4 L289.6 480.5 L289.6 480.6 L289.7 480.7 L289.7 480.7 L289.7 480.8 L289.7 480.9 L289.7 481.0 L289.7 481.1 L289.7 481.2 L289.7 481.2 L289.7 481.3 L289.7 481.4 L289.6 481.4 L289.6 481.5 L289.6 481.6 L289.6 481.7 L289.6 481.7 L289.5 481.8 L289.5 481.9 L289.5 481.9 L289.4 482.0 L289.4 482.1 L289.3 482.1 L289.3 482.2 L289.3 482.2 L289.2 482.3 L289.2 482.4 L289.1 482.4 L289.0 482.5 L289.0 482.5 L288.9 482.6 L288.8 482.6 L288.7 482.7 L288.7 482.7 L288.6 482.7 L288.4 482.8 L288.3 482.8 L288.2 482.8 L288.0 482.8 L287.9 482.8 L287.7 482.8 L287.5 482.8 L287.3 482.8 L287.1 482.8 L286.9 482.8 L286.7 482.8 L286.5 482.8 L286.2 482.7 L286.0 482.7 L285.8 482.7 L285.6 482.7 L285.4 482.7 L285.3 482.7 L285.1 482.7 L285.0 482.7 L284.8 482.7 L284.7 482.7 L284.6 482.8 L284.5 482.8 L284.4 482.8 L284.3 482.9 L284.2 482.9 L284.2 482.9 L284.1 483.0 L284.0 483.0 L284.0 483.1 L283.9 483.2 L283.9 483.2 L283.8 483.3 L283.8 483.3 L283.7 483.4 L283.7 483.4 L283.7 483.5 L283.6 483.6 L283.6 483.6 L283.6 483.7 L283.5 483.8 L283.5 483.8 L283.5 483.9 L283.5 484.0 L283.5 484.0 L283.4 484.1 L283.4 484.2 L283.4 484.3 L283.4 484.3 L283.4 484.4 L283.4 484.5 L283.4 484.6 L283.4 484.7 L283.4 484.8 L283.5 484.9 L283.5 485.0 L283.6 485.1 L283.6 485.2 L283.7 485.3 L283.8 485.4 L283.9 485.6 L284.0 485.7 L284.1 485.8 L284.2 486.0 L284.4 486.2 L284.5 486.3 L284.7 486.5 L284.8 486.6 L285.0 486.8 L285.1 487.0 L285.3 487.1 L285.4 487.3 L285.5 487.4 L285.6 487.6 L285.7 487.7 L285.8 487.8 L285.8 487.9 L285.9 488.1 L285.9 488.2 L286.0 488.3 L286.0 488.4 L286.0 488.5 L286.0 488.6 L286.0 488.6 L286.0 488.7 L286.0 488.8 L286.0 488.9 L285.9 489.0 L285.9 489.0 L285.9 489.1 L285.9 489.2 L285.8 489.3 L285.8 489.3 L285.8 489.4 L285.7 489.5 L285.7 489.5 L285.7 489.6 L285.6 489.7 L285.6 489.7 L285.5 489.8 L285.5 489.8 L285.4 489.9 L285.4 490.0 L285.3 490.0 L285.2 490.1 L285.2 490.1 L285.1 490.2 L285.0 490.2 L284.9 490.2 L284.9 490.3 L284.8 490.3 L284.6 490.3 L284.5 490.4 L284.4 490.4 L284.2 490.4 L284.1 490.4 L283.9 490.4 L283.7 490.3 L283.5 490.3 L283.3 490.3 L283.1 490.2 L282.9 490.2 L282.7 490.2 L282.5 490.1 L282.2 490.1 L282.0 490.0 L281.8 490.0 L281.6 490.0 L281.4 489.9 L281.3 489.9 L281.1 489.9 L281.0 489.9 L280.8 489.9 L280.7 489.9 L280.6 490.0 L280.5 490.0 L280.4 490.0 L280.3 490.0 L280.3 490.1 L280.2 490.1 L280.1 490.2 L280.1 490.2 L280.0 490.3 L279.9 490.3 L279.9 490.4 L279.8 490.4 L279.8 490.5 L279.7 490.5 L279.7 490.6 L279.7 490.7 L279.6 490.7 L279.6 490.8 L279.6 490.9 L279.5 490.9 L279.5 491.0 L279.5 491.1 L279.4 491.1 L279.4 491.2 L279.4 491.3 L279.4 491.3 L279.3 491.4 L279.3 491.5 L279.3 491.6 L279.3 491.7 L279.3 491.8 L279.4 491.9 L279.4 492.0 L279.4 492.1 L279.5 492.2 L279.5 492.3 L279.6 492.5 L279.7 492.6 L279.8 492.7 L279.9 492.9 L280.0 493.1 L280.1 493.2 L280.2 493.4 L280.4 493.6 L280.5 493.8 L280.6 494.0 L280.8 494.1 L280.9 494.3 L281.0 494.5 L281.1 494.6 L281.2 494.8 L281.3 494.9 L281.3 495.1 L281.4 495.2 L281.4 495.3 L281.5 495.4 L281.5 495.6 L281.5 495.7 L281.5 495.8 L281.5 495.8 L281.5 495.9 L281.5 496.0 L281.5 496.1 L281.4 496.2 L281.4 496.3 L281.4 496.3 L281.4 496.4 L281.3 496.5 L281.3 496.5 L281.2 496.6 L281.2 496.7 L281.2 496.7 L281.1 496.8 L281.1 496.9 L281.0 496.9 L281.0 497.0 L280.9 497.0 L280.9 497.1 L280.8 497.1 L280.7 497.2 L280.7 497.2 L280.6 497.3 L280.5 497.3 L280.5 497.4 L280.4 497.4 L280.3 497.4 L280.2 497.5 L280.1 497.5 L280.0 497.5 L279.9 497.5 L279.7 497.5 L279.6 497.5 L279.4 497.5 L279.3 497.5 L279.1 497.4 L278.9 497.4 L278.7 497.3 L278.5 497.3 L278.3 497.2 L278.1 497.1 L277.8 497.1 L277.6 497.0 L277.4 496.9 L277.2 496.9 L277.0 496.8 L276.8 496.8 L276.7 496.8 L276.5 496.7 L276.4 496.7 L276.2 496.7 L276.1 496.7 L276.0 496.7 L275.9 496.7 L275.8 496.8 L275.7 496.8 L275.7 496.8 L275.6 496.9 L275.5 496.9 L275.4 496.9 L275.4 497.0 L275.3 497.0 L275.3 497.1 L275.2 497.1 L275.2 497.2 L275.1 497.2 L275.1 497.3 L275.0 497.3 L275.0 497.4 L274.9 497.4 L274.9 497.5 L274.8 497.6 L274.8 497.6 L274.8 497.7 L274.7 497.8 L274.7 497.8 L274.7 497.9 L274.6 498.0 L274.6 498.0 L274.6 498.1 L274.6 498.2 L274.6 498.3 L274.6 498.4 L274.6 498.5 L274.6 498.6 L274.6 498.7 L274.6 498.8 L274.7 498.9 L274.7 499.1 L274.8 499.2 L274.9 499.4 L274.9 499.5 L275.0 499.7 L275.1 499.9 L275.2 500.1 L275.4 500.2 L275.5 500.4 L275.6 500.6 L275.7 500.8 L275.8 501.0 L275.9 501.2 L276.0 501.4 L276.1 501.5 L276.2 501.7 L276.2 501.8 L276.3 502.0 L276.3 502.1 L276.3 502.2 L276.3 502.3 L276.3 502.4 L276.3 502.5 L276.3 502.6 L276.3 502.7 L276.3 502.8 L276.3 502.9 L276.2 502.9 L276.2 503.0 L276.2 503.1 L276.1 503.1 L276.1 503.2 L276.1 503.3 L276.0 503.3 L276.0 503.4 L275.9 503.5 L275.9 503.5 L275.8 503.6 L275.8 503.6 L275.7 503.7 L275.7 503.7 L275.6 503.8 L275.6 503.8 L275.5 503.9 L275.4 503.9 L275.4 504.0 L275.3 504.0 L275.2 504.0 L275.1 504.1 L275.1 504.1 L275.0 504.1 L274.9 504.2 L274.8 504.2 L274.7 504.2 L274.6 504.2 L274.4 504.2 L274.3 504.1 L274.2 504.1 L274.0 504.1 L273.8 504.0 L273.7 504.0 L273.5 503.9 L273.3 503.8 L273.1 503.7 L272.9 503.7 L272.7 503.6 L272.5 503.5 L272.3 503.4 L272.1 503.3 L271.9 503.3 L271.7 503.2 L271.6 503.1 L271.4 503.1 L271.3 503.0 L271.1 503.0 L271.0 503.0 L270.9 503.0 L270.8 503.0 L270.7 503.0 L270.6 503.0 L270.5 503.0 L270.4 503.0 L270.3 503.0 L270.3 503.1 L270.2 503.1 L270.1 503.1 L270.1 503.2 L270.0 503.2 L270.0 503.3 L269.9 503.3 L269.8 503.3 L269.8 503.4 L269.7 503.4 L269.7 503.5 L269.6 503.5 L269.6 503.6 L269.6 503.6 L269.5 503.7 L269.5 503.7 L269.4 503.8 L269.4 503.9 L269.3 503.9 L269.3 504.0 L269.3 504.1 L269.3 504.1 L269.2 504.2 L269.2 504.3 L269.2 504.3 L269.2 504.4 L269.2 504.5 L269.2 504.6 L269.2 504.7 L269.2 504.8 L269.2 504.9 L269.2 505.1 L269.3 505.2 L269.3 505.4 L269.4 505.5 L269.4 505.7 L269.5 505.8 L269.6 506.0 L269.7 506.2 L269.8 506.4 L269.9 506.6 L269.9 506.8 L270.0 507.0 L270.1 507.2 L270.2 507.4 L270.3 507.5 L270.3 507.7 L270.4 507.9 L270.4 508.0 L270.4 508.1 L270.5 508.3 L270.5 508.4 L270.5 508.5 L270.5 508.6 L270.5 508.7 L270.5 508.8 L270.5 508.9 L270.4 508.9 L270.4 509.0 L270.4 509.1 L270.3 509.2 L270.3 509.2 L270.3 509.3 L270.2 509.4 L270.2 509.4 L270.1 509.5 L270.1 509.5 L270.0 509.6 L270.0 509.6 L269.9 509.7 L269.9 509.7 L269.8 509.8 L269.8 509.8 L269.7 509.9 L269.7 509.9 L269.6 510.0 L269.5 510.0 L269.5 510.0 L269.4 510.1 L269.3 510.1 L269.3 510.1 L269.2 510.1 L269.1 510.2 L269.1 510.2 L269.0 510.2 L268.9 510.2 L268.8 510.2 L268.7 510.2 L268.6 510.2 L268.5 510.2 L268.4 510.2 L268.2 510.1 L268.1 510.1 L268.0 510.0 L267.8 510.0 L267.7 509.9 L267.5 509.8 L267.3 509.7 L267.2 509.6 L267.0 509.5 L266.8 509.4 L266.6 509.3 L266.5 509.2 L266.3 509.1 L266.1 509.0 L265.9 508.9 L265.8 508.9 L265.7 508.8 L265.5 508.7 L265.4 508.7 L265.3 508.6 L265.2 508.6 L265.0 508.6 L264.9 508.6 L264.9 508.5 L264.8 508.5 L264.7 508.5 L264.6 508.5 L264.5 508.6 L264.5 508.6 L264.4 508.6 L264.3 508.6 L264.3 508.6 L264.2 508.7 L264.1 508.7 L264.1 508.7 L264.0 508.8 L264.0 508.8 L263.9 508.8 L263.9 508.9 L263.8 508.9 L263.8 508.9 L263.7 509.0 L263.7 509.0 L263.6 509.1 L263.6 509.1 L263.5 509.1 L263.5 509.2 L263.4 509.2 L263.4 509.3 L263.4 509.3 L263.3 509.4 L263.3 509.5 L263.3 509.5 L263.2 509.6 L263.2 509.6 L263.2 509.7 L263.2 509.8 L263.1 509.9 L263.1 510.0 L263.1 510.1 L263.1 510.2 L263.1 510.3 L263.1 510.4 L263.2 510.5 L263.2 510.7 L263.2 510.8 L263.3 510.9 L263.3 511.1 L263.3 511.3 L263.4 511.5 L263.5 511.6 L263.5 511.8 L263.6 512.0 L263.6 512.2 L263.7 512.4 L263.7 512.6 L263.8 512.7 L263.8 512.9 L263.9 513.1 L263.9 513.2 L263.9 513.4 L263.9 513.5 L264.0 513.6 L264.0 513.7 L264.0 513.8 L263.9 513.9 L263.9 514.0 L263.9 514.1 L263.9 514.2 L263.9 514.3 L263.8 514.4 L263.8 514.4 L263.8 514.5 L263.7 514.6 L263.7 514.6 L263.7 514.7 L263.6 514.7 L263.6 514.8 L263.5 514.8 L263.5 514.9 L263.4 514.9 L263.4 514.9 L263.3 515.0 L263.3 515.0 L263.2 515.1 L263.2 515.1 L263.1 515.1 L263.1 515.2 L263.0 515.2 L262.9 515.2 L262.9 515.3 L262.8 515.3 L262.8 515.3 L262.7 515.3 L262.6 515.4 L262.6 515.4 L262.5 515.4 L262.4 515.4 L262.4 515.4 L262.3 515.4 L262.2 515.4 L262.2 515.4 L262.1 515.4 L262.0 515.4 L261.9 515.4 L261.8 515.4 L261.7 515.3 L261.6 515.3 L261.5 515.3 L261.4 515.2 L261.3 515.1 L261.2 515.1 L261.0 515.0 L260.9 514.9 L260.8 514.8 L260.7 514.7 L260.5 514.6 L260.4 514.5 L260.2 514.3 L260.1 514.2 L259.9 514.1 L259.8 514.0 L259.7 513.9 L259.5 513.8 L259.4 513.7 L259.3 513.6 L259.2 513.5 L259.1 513.4 L259.0 513.4 L258.9 513.3 L258.8 513.3 L258.7 513.2 L258.6 513.2 L258.5 513.2 L258.4 513.1 L258.3 513.1 L258.3 513.1 L258.2 513.1 L258.1 513.1 L258.1 513.1 L258.0 513.1 L257.9 513.1 L257.9 513.1 L257.8 513.1 L257.8 513.1 L257.7 513.1 L257.7 513.2 L257.6 513.2 L257.6 513.2 L257.5 513.2 L257.5 513.2 L257.4 513.3 L257.4 513.3 L257.3 513.3 L257.3 513.3 L257.2 513.4 L257.2 513.4 L257.1 513.4 L257.1 513.5 L257.1 513.5 L257.0 513.5 L257.0 513.6 L256.9 513.6 L256.9 513.6 L256.8 513.7 L256.8 513.7 L256.8 513.8 L256.7 513.8 L256.7 513.8 L256.7 513.9 L256.6 514.0 L256.6 514.0 L256.6 514.1 L256.6 514.1 L256.5 514.2 L256.5 514.3 L256.5 514.4 L256.5 514.5 L256.5 514.6 L256.5 514.7 L256.5 514.8 L256.5 514.9 L256.5 515.1 L256.5 515.2 L256.5 515.3 L256.5 515.5 L256.5 515.6 L256.6 515.8 L256.6 516.0 L256.6 516.1 L256.6 516.3 L256.6 516.5 L256.7 516.6 L256.7 516.8 L256.7 517.0 L256.7 517.1 L256.7 517.3 L256.7 517.4 L256.7 517.5 L256.7 517.7 L256.7 517.8 L256.7 517.9 L256.7 518.0 L256.7 518.1 L256.7 518.2 L256.6 518.3 L256.6 518.3 L256.6 518.4 L256.5 518.5 L256.5 518.5 L256.5 518.6 L256.4 518.6 L256.4 518.7 L256.4 518.7 L256.3 518.8 L256.3 518.8 L256.2 518.9 L256.2 518.9 L256.1 518.9 L256.1 519.0 L256.0 519.0 L256.0 519.0 L255.9 519.1 L255.9 519.1 L255.8 519.1 L255.8 519.1 L255.7 519.2 L255.7 519.2 L255.6 519.2 L255.6 519.2 L255.5 519.2 L255.5 519.3 L255.4 519.3 L255.4 519.3 L255.3 519.3 L255.3 519.3 L255.2 519.3 L255.2 519.3 L255.1 519.4 L255.1 519.4 L255.0 519.4 L254.9 519.4 L254.9 519.4 L254.8 519.4 L254.8 519.4 L254.7 519.3 L254.6 519.3 L254.6 519.3 L254.5 519.3 L254.5 519.3 L254.4 519.2 L254.3 519.2 L254.2 519.2 L254.2 519.1 L254.1 519.1 L254.0 519.0 L254.0 519.0 L253.9 518.9 L253.8 518.8 L253.7 518.7 L253.6 518.6 L253.5 518.5 L253.5 518.4 L253.4 518.3 L253.3 518.2 L253.2 518.1 L253.1 518.0 L253.0 517.8 L252.9 517.7 L252.8 517.6 L252.7 517.5 L252.6 517.4 L252.6 517.2 L252.5 517.1 L252.4 517.0 L252.3 516.9 L252.2 516.8 L252.2 516.7 L252.1 516.6 L252.0 516.6 L252.0 516.5 L251.9 516.4 L251.8 516.4 L251.8 516.3 L251.7 516.3 L251.7 516.2 L251.6 516.2 L251.5 516.2 L251.5 516.1 L251.4 516.1 L251.4 516.1 L251.3 516.1 L251.3 516.0 L251.3 516.0 L251.2 516.0 L251.2 516.0 L251.1 516.0 L251.1 516.0 L251.0 516.0 L251.0 516.0 L250.9 516.0 L250.9 516.0 L250.9 516.0 L250.8 516.0 L250.8 516.0 L250.7 516.0 L250.7 516.0 L250.7 516.0 L250.6 516.0 L250.6 516.0 L250.5 516.0 L250.5 516.0 L250.5 516.0 L250.4 516.1 L250.4 516.1 L250.4 516.1 L250.3 516.1 L250.3 516.1 L250.2 516.1 L250.2 516.1 L250.2 516.2 L250.1 516.2 L250.1 516.2 L250.1 516.2 L250.0 516.2 L250.0 516.3 L250.0 516.3 L249.9 516.3 L249.9 516.3 L249.9 516.4 L249.8 516.4 L249.8 516.4 L249.8 516.5 L249.7 516.5 L249.7 516.6 L249.7 516.6 L249.6 516.7 L249.6 516.7 L249.6 516.8 L249.6 516.9 L249.5 517.0 L249.5 517.0 L249.5 517.1 L249.5 517.2 L249.4 517.3 L249.4 517.4 L249.4 517.5 L249.4 517.6 L249.3 517.7 L249.3 517.8 L249.3 518.0 L249.3 518.1 L249.2 518.2 L249.2 518.4 L249.2 518.5 L249.2 518.6 L249.1 518.8 L249.1 518.9 L249.1 519.0 L249.1 519.2 L249.0 519.3 L249.0 519.4 L249.0 519.5 L248.9 519.6 L248.9 519.7 L248.9 519.8 L248.8 519.9 L248.8 520.0 L248.8 520.1 L248.7 520.2 L248.7 520.2 L248.7 520.3 L248.6 520.4 L248.6 520.4 L248.5 520.5 L248.5 520.5 L248.5 520.6 L248.4 520.6 L248.4 520.7 L248.3 520.7 L248.3 520.7 L248.2 520.8 L248.2 520.8 L248.2 520.8 L248.1 520.8 L248.1 520.9 L248.0 520.9 L248.0 520.9 L247.9 520.9 L247.9 520.9 L247.8 520.9 L247.8 521.0 L247.8 521.0 L247.7 521.0 L247.7 521.0 L247.6 521.0 L247.6 521.0 L247.5 521.0 L247.5 521.0 L247.5 521.0 L247.4 521.0 L247.4 521.0 L247.3 521.0 L247.3 521.0 L247.2 521.0 L247.2 521.0 L247.1 521.0 L247.1 521.0 L247.1 521.0 L247.0 521.0 L247.0 521.0 L246.9 521.0 L246.9 521.0 L246.8 521.0 L246.8 520.9 L246.8 520.9 L246.7 520.9 L246.7 520.9 L246.6 520.9 L246.6 520.9 L246.5 520.9 L246.5 520.8 L246.5 520.8 L246.4 520.8 L246.4 520.8 L246.3 520.7 L246.3 520.7 L246.3 520.7 L246.2 520.6 L246.2 520.6 L246.1 520.6 L246.1 520.5 L246.1 520.5 L246.0 520.4 L246.0 520.4 L246.0 520.3 L245.9 520.2 L245.9 520.2 L245.9 520.1 L245.8 520.0 L245.8 519.9 L245.8 519.9 L245.8 519.8 L245.7 519.7 L245.7 519.6 L245.7 519.5 L245.7 519.4 L245.6 519.3 L245.6 519.2 L245.6 519.0 L245.6 518.9 L245.6 518.8 L245.5 518.7 L245.5 518.6 L245.5 518.4 L245.5 518.3 L245.5 518.2 L245.5 518.1 L245.4 518.0 L245.4 517.9 L245.4 517.8 L245.4 517.7 L245.4 517.6 L245.4 517.5 L245.4 517.4 L245.4 517.3 L245.3 517.2 L245.3 517.1 L245.3 517.1 L245.3 517.0 L245.3 516.9 L245.3 516.8 L245.3 516.8 L245.2 516.7 L245.2 516.7 L245.2 516.6 L245.2 516.6 L245.2 516.5 L245.2 516.5 L245.1 516.5 L245.1 516.4 L245.1 516.4 L245.1 516.4 L245.1 516.3 L245.0 516.3 L245.0 516.3 L245.0 516.3 L245.0 516.2 L245.0 516.2 L244.9 516.2 L244.9 516.2 L244.9 516.2 L244.9 516.1 L244.9 516.1 L244.8 516.1 L244.8 516.1 L244.8 516.1 L244.8 516.1 L244.8 516.1 L244.7 516.0 L244.7 516.0 L244.7 516.0 L244.7 516.0 L244.6 516.0 L244.6 516.0 L244.6 516.0 L244.6 516.0 L244.6 516.0 L244.5 516.0 L244.5 516.0 L244.5 515.9 L244.5 515.9 L244.4 515.9 L244.4 515.9 L244.4 515.9 L244.4 515.9 L244.4 515.9 L244.3 515.9 L244.3 515.9 L244.3 515.9 L244.3 515.9 L244.2 515.9 L244.2 515.9 L244.2 515.9 L244.2 515.9 L244.1 515.9 L244.1 515.9 L244.1 515.9 L244.0 515.9 L244.0 516.0 L244.0 516.0 L244.0 516.0 L243.9 516.0 L243.9 516.0 L243.9 516.0 L243.8 516.0 L243.8 516.1 L243.7 516.1 L243.7 516.1 L243.7 516.1 L243.6 516.2 L243.6 516.2 L243.5 516.2 L243.5 516.3 L243.4 516.3 L243.4 516.3 L243.3 516.4 L243.3 516.4 L243.2 516.5 L243.2 516.6 L243.1 516.6 L243.1 516.7 L243.0 516.7 L242.9 516.8 L242.9 516.9 L242.8 516.9 L242.7 517.0 L242.6 517.1 L242.6 517.2 L242.5 517.2 L242.4 517.3 L242.3 517.4 L242.2 517.5 L242.2 517.6 L242.1 517.6 L242.0 517.7 L241.9 517.8 L241.8 517.8 L241.8 517.9 L241.7 518.0 L241.6 518.0 L241.5 518.1 L241.5 518.2 L241.4 518.2 L241.3 518.3 L241.2 518.3 L241.2 518.3 L241.1 518.4 L241.0 518.4 L241.0 518.5 L240.9 518.5 L240.8 518.5 L240.8 518.5 L240.7 518.5 L240.7 518.6 L240.6 518.6 L240.6 518.6 L240.5 518.6 L240.5 518.6 L240.4 518.6 L240.4 518.6 L240.3 518.6 L240.3 518.6 L240.2 518.6 L240.2 518.6 L240.2 518.6 L240.1 518.6 L240.1 518.6" stroke="#000" stroke-width="1.8" fill="none" stroke-linejoin="round" stroke-linecap="round" />
<ellipse cx="263.0" cy="482.0" rx="24.0" ry="46.8" transform="rotate(33.5 263.0 482.0)" fill="none" stroke="#000" stroke-width="2.88" />
<path d="M275.0 436.6 L274.3 437.5 L273.3 437.9 L272.2 437.7 L271.3 437.1 L270.7 436.2 L270.5 435.0 L270.7 433.8 L271.3 432.9 L272.2 432.3 L273.3 432.1 L274.3 432.5 L275.0 433.4" stroke="#000" stroke-width="1.8" fill="none" stroke-linejoin="round" stroke-linecap="round" />
<path d="M290.8 439.8 L290.1 440.7 L289.1 441.1 L288.0 440.9 L287.1 440.3 L286.5 439.4 L286.3 438.2 L286.5 437.0 L287.1 436.1 L288.0 435.5 L289.1 435.3 L290.1 435.7 L290.8 436.6" stroke="#000" stroke-width="1.8" fill="none" stroke-linejoin="round" stroke-linecap="round" />
<path d="M300.9 451.2 L300.2 452.1 L299.2 452.5 L298.1 452.3 L297.2 451.7 L296.6 450.8 L296.4 449.6 L296.6 448.4 L297.2 447.5 L298.1 446.9 L299.2 446.7 L300.2 447.1 L300.9 448.0" stroke="#000" stroke-width="1.8" fill="none" stroke-linejoin="round" stroke-linecap="round" />
<path d="M251.0 451.2 L250.3 452.1 L249.3 452.5 L248.2 452.3 L247.3 451.7 L246.7 450.8 L246.5 449.6 L246.7 448.4 L247.3 447.5 L248.2 446.9 L249.3 446.7 L250.3 447.1 L251.0 448.0" stroke="#000" stroke-width="1.8" fill="none" stroke-linejoin="round" stroke-linecap="round" />
<path d="M237.7 468.9 L237.0 469.8 L236.0 470.2 L234.9 470.0 L234.0 469.4 L233.4 468.5 L233.2 467.3 L233.4 466.1 L234.0 465.2 L234.9 464.6 L236.0 464.4 L237.0 464.8 L237.7 465.7" stroke="#000" stroke-width="1.8" fill="none" stroke-linejoin="round" stroke-linecap="round" />
<path d="M299.6 479.0 L298.9 479.9 L297.9 480.3 L296.8 480.1 L295.9 479.5 L295.3 478.6 L295.1 477.4 L295.3 476.2 L295.9 475.3 L296.8 474.7 L297.9 474.5 L298.9 474.9 L299.6 475.8" stroke="#000" stroke-width="1.8" fill="none" stroke-linejoin="round" stroke-linecap="round" />
<path d="M227.7 489.4 L227.0 490.3 L226.0 490.7 L224.9 490.5 L224.0 489.9 L223.4 489.0 L223.2 487.8 L223.4 486.6 L224.0 485.7 L224.9 485.1 L226.0 484.9 L227.0 485.3 L227.7 486.2" stroke="#000" stroke-width="1.8" fill="none" stroke-linejoin="round" stroke-linecap="round" />
<path d="M227.7 514.6 L227.0 515.5 L226.0 515.9 L224.9 515.7 L224.0 515.1 L223.4 514.2 L223.2 513.0 L223.4 511.8 L224.0 510.9 L224.9 510.3 L226.0 510.1 L227.0 510.5 L227.7 511.4" stroke="#000" stroke-width="1.8" fill="none" stroke-linejoin="round" stroke-linecap="round" />
<path d="M256.2 529.8 L255.5 530.7 L254.5 531.1 L253.4 530.9 L252.5 530.3 L251.9 529.4 L251.7 528.2 L251.9 527.0 L252.5 526.1 L253.4 525.5 L254.5 525.3 L255.5 525.7 L256.2 526.6" stroke="#000" stroke-width="1.8" fill="none" stroke-linejoin="round" stroke-linecap="round" />
<path d="M290.8 499.5 L290.1 500.4 L289.1 500.8 L288.0 500.6 L287.1 500.0 L286.5 499.1 L286.3 497.9 L286.5 496.7 L287.1 495.8 L288.0 495.2 L289.1 495.0 L290.1 495.4 L290.8 496.3" stroke="#000" stroke-width="1.8" fill="none" stroke-linejoin="round" stroke-linecap="round" />
<ellipse cx="274.3" cy="516.8" rx="2.3" ry="3" fill="none" stroke="#000" stroke-width="1.5"/>
<ellipse cx="235.9" cy="527" rx="2.3" ry="3" fill="none" stroke="#000" stroke-width="1.5"/>
<path d="M117.9 455.2 L175.2 490.3" stroke="#000" stroke-width="1.44" fill="none" stroke-linejoin="round" stroke-linecap="round" stroke-dasharray="16 3 2 3"/>
<path d="M238.4 529.5 L283.0 553.5" stroke="#000" stroke-width="1.44" fill="none" stroke-linejoin="round" stroke-linecap="round" stroke-dasharray="12 3 2 3"/>
<ellipse cx="290" cy="558.4" rx="8.7" ry="9.3" transform="rotate(-20 290 558.4)" fill="#000"/>
<ellipse cx="286.7" cy="556.6" rx="2.6" ry="4.2" transform="rotate(30 286.7 556.6)" fill="#fff"/>
<ellipse cx="284.8" cy="562.6" rx="1.4" ry="0.8" transform="rotate(30 284.8 562.6)" fill="#fff"/>
<ellipse cx="291" cy="564" rx="1.2" ry="0.7" fill="#fff"/>
<ellipse cx="291" cy="551.8" rx="1.6" ry="0.6" transform="rotate(20 291 551.8)" fill="#ccc"/>
<path d="M296.7 562.9 L298.7 564.5" stroke="#000" stroke-width="1.2" fill="none" stroke-linejoin="round" stroke-linecap="round" />
<path d="M324.8 504.0 L391.4 543.4 A4.5 14.0 28.5 0 1 378.0 568.0 L311.4 528.6 A7.5 14.0 28.5 0 1 324.8 504.0 Z" stroke="#000" stroke-width="2.4" fill="#fff" stroke-linejoin="round" stroke-linecap="round" />
<path d="M359.3 526.7 L324.8 504.0 A7.5 14.0 28.5 0 0 311.4 528.6 L349.7 550.2" stroke="#000" stroke-width="3.6" fill="none" stroke-linejoin="round" stroke-linecap="round" />
<path d="M359.3 526.7 C358.7 527.8 356.7 530.6 355.5 533.0 C354.3 535.4 353.0 538.1 352.0 541.0 C351.0 543.9 350.1 548.7 349.7 550.2" stroke="#000" stroke-width="1.8" fill="none" stroke-linejoin="round" stroke-linecap="round" />
<path d="M324.5 504.8 L360.8 524.5" stroke="#111" stroke-width="1.32" fill="none" stroke-linejoin="round" stroke-linecap="round" />
<path d="M321.9 506.1 L359.9 526.8" stroke="#111" stroke-width="1.32" fill="none" stroke-linejoin="round" stroke-linecap="round" />
<path d="M319.0 508.8 L358.4 530.2" stroke="#111" stroke-width="1.32" fill="none" stroke-linejoin="round" stroke-linecap="round" />
<path d="M316.3 512.5 L356.5 534.4" stroke="#111" stroke-width="1.32" fill="none" stroke-linejoin="round" stroke-linecap="round" />
<path d="M314.0 516.8 L354.5 538.8" stroke="#111" stroke-width="1.32" fill="none" stroke-linejoin="round" stroke-linecap="round" />
<path d="M312.4 521.1 L352.6 543.0" stroke="#111" stroke-width="1.32" fill="none" stroke-linejoin="round" stroke-linecap="round" />
<path d="M311.7 525.0 L351.1 546.4" stroke="#111" stroke-width="1.32" fill="none" stroke-linejoin="round" stroke-linecap="round" />
<path d="M311.9 527.9 L350.2 548.7" stroke="#111" stroke-width="1.32" fill="none" stroke-linejoin="round" stroke-linecap="round" />
<ellipse cx="388.3" cy="556.4" rx="4.8" ry="11.5" transform="rotate(14.0 388.3 556.4)" fill="#fff" stroke="#000" stroke-width="1.8" />
<path d="M392.3 546.2 L392.6 546.3 L392.9 546.5 L393.2 546.7 L393.4 547.0 L393.6 547.4 L393.8 547.8 L394.0 548.2 L394.1 548.7 L394.3 549.3 L394.3 549.9 L394.4 550.5 L394.4 551.2 L394.4 551.9 L394.4 552.6 L394.4 553.4 L394.3 554.2 L394.2 555.0 L394.0 555.8 L393.9 556.6 L393.7 557.4 L393.5 558.2 L393.2 558.9 L393.0 559.7 L392.7 560.5 L392.4 561.2 L392.1 561.9 L391.8 562.5 L391.4 563.2 L391.1 563.8 L390.7 564.3 L390.4 564.8 L390.0 565.2 L389.7 565.6 L389.3 565.9 L388.9 566.2 L388.6 566.4 L388.2 566.5 L387.9 566.6 L387.6 566.6 L387.3 566.6" stroke="#000" stroke-width="1.2" fill="none" stroke-linejoin="round" stroke-linecap="round" />
<path d="M393.9 551.5 C395.1 550.2 395.1 549.8 396.0 549.3 C396.9 548.8 397.8 548.3 399.0 548.3 C400.2 548.3 396.9 545.9 403.0 549.5 C409.1 553.1 429.4 566.2 435.6 569.8 C441.8 573.4 433.2 567.8 440.0 571.3 C446.8 574.8 470.8 585.9 476.1 590.7 C481.4 595.5 473.7 596.5 472.0 600.0 C470.3 603.5 467.9 608.5 466.0 612.0 C464.1 615.5 467.8 623.3 460.9 621.0 C453.9 618.7 430.8 602.7 424.3 598.3 C417.8 593.9 428.4 598.8 421.7 594.5 C415.0 590.2 390.6 576.5 384.1 572.5 C377.6 568.5 382.5 571.8 382.5 570.5 C382.5 569.2 382.9 567.2 384.0 565.0 C385.1 562.8 387.4 559.2 389.0 557.0 C390.6 554.8 392.7 552.8 393.9 551.5 Z" stroke="#000" stroke-width="2.4" fill="#fff" stroke-linejoin="round" stroke-linecap="round" />
<path d="M440.0 571.3 C439.0 571.7 436.0 572.2 434.0 573.5 C432.0 574.8 429.6 577.0 428.0 579.3 C426.4 581.5 425.3 584.9 424.6 587.0 C423.9 589.1 423.7 590.1 423.6 592.0 C423.6 593.9 424.2 597.2 424.3 598.3" stroke="#000" stroke-width="2.16" fill="none" stroke-linejoin="round" stroke-linecap="round" />
<path d="M569.0 652.4 L585.4 654.7 L609.3 670.3 L612.3 673.3 L619.8 677.8 L658.6 701.7 L664.6 704.0 L668.0 708.0 L669.5 716.0 L667.5 724.0 L662.0 729.0 L655.6 728.6 L649.7 725.6 L607.8 703.2 L595.9 698.7 L564.5 680.8 Z" stroke="#000" stroke-width="2.4" fill="#fff" stroke-linejoin="round" stroke-linecap="round" />
<path d="M592.0 697.9 L591.6 697.6 L591.3 697.2 L591.0 696.7 L590.8 696.1 L590.6 695.5 L590.5 694.9 L590.4 694.1 L590.4 693.4 L590.4 692.6 L590.5 691.7 L590.6 690.8 L590.8 689.9 L591.0 688.9 L591.3 687.9 L591.6 687.0 L592.0 686.0 L592.3 684.9 L592.8 683.9 L593.3 682.9 L593.8 681.9 L594.3 681.0 L594.9 680.0 L595.5 679.1 L596.1 678.2 L596.7 677.4 L597.4 676.5 L598.0 675.8 L598.7 675.1 L599.4 674.4 L600.0 673.8 L600.7 673.3 L601.4 672.8 L602.0 672.4 L602.7 672.0 L603.3 671.8 L603.9 671.6 L604.5 671.5 L605.0 671.4 L605.5 671.4 L606.0 671.5" stroke="#000" stroke-width="1.68" fill="none" stroke-linejoin="round" stroke-linecap="round" />
<path d="M595.0 698.5 L594.6 698.2 L594.3 697.8 L594.0 697.3 L593.8 696.7 L593.6 696.1 L593.5 695.5 L593.4 694.7 L593.4 694.0 L593.4 693.2 L593.5 692.3 L593.6 691.4 L593.8 690.5 L594.0 689.5 L594.3 688.5 L594.6 687.6 L595.0 686.6 L595.3 685.5 L595.8 684.5 L596.3 683.5 L596.8 682.5 L597.3 681.6 L597.9 680.6 L598.5 679.7 L599.1 678.8 L599.7 678.0 L600.4 677.1 L601.0 676.4 L601.7 675.7 L602.4 675.0 L603.0 674.4 L603.7 673.9 L604.4 673.4 L605.0 673.0 L605.7 672.6 L606.3 672.4 L606.9 672.2 L607.5 672.1 L608.0 672.0 L608.5 672.0 L609.0 672.1" stroke="#000" stroke-width="1.68" fill="none" stroke-linejoin="round" stroke-linecap="round" />
<path d="M612.3 673.3 C611.9 674.4 610.7 677.2 610.0 680.0 C609.3 682.8 608.4 686.1 608.0 690.0 C607.6 693.9 607.8 701.0 607.8 703.2" stroke="#000" stroke-width="1.56" fill="none" stroke-linejoin="round" stroke-linecap="round" />
<path d="M613.6 677.9 L651.6 699.9" stroke="#111" stroke-width="1.2" fill="none" stroke-linejoin="round" stroke-linecap="round" />
<path d="M612.7 681.8 L650.7 703.8" stroke="#111" stroke-width="1.2" fill="none" stroke-linejoin="round" stroke-linecap="round" />
<path d="M611.9 685.6 L649.9 707.6" stroke="#111" stroke-width="1.2" fill="none" stroke-linejoin="round" stroke-linecap="round" />
<path d="M611.0 689.5 L649.0 711.5" stroke="#111" stroke-width="1.2" fill="none" stroke-linejoin="round" stroke-linecap="round" />
<path d="M610.1 693.4 L648.1 715.4" stroke="#111" stroke-width="1.2" fill="none" stroke-linejoin="round" stroke-linecap="round" />
<path d="M609.3 697.2 L647.3 719.2" stroke="#111" stroke-width="1.2" fill="none" stroke-linejoin="round" stroke-linecap="round" />
<path d="M608.4 701.1 L646.4 723.1" stroke="#111" stroke-width="1.2" fill="none" stroke-linejoin="round" stroke-linecap="round" />
<path d="M617.0 677.0 C616.7 678.2 614.7 682.8 615.0 684.0 C615.3 685.2 619.3 683.0 619.0 684.0 C618.7 685.0 613.3 688.8 613.0 690.0 C612.7 691.2 617.2 689.8 617.0 691.0 C616.8 692.2 612.3 695.8 612.0 697.0 C611.7 698.2 615.3 697.0 615.0 698.0 C614.7 699.0 610.8 702.2 610.0 703.0" stroke="#000" stroke-width="1.44" fill="none" stroke-linejoin="round" stroke-linecap="round" />
<ellipse cx="660.5" cy="716.5" rx="8.0" ry="12.5" transform="rotate(25.0 660.5 716.5)" fill="#fff" stroke="#000" stroke-width="2.4" />
<ellipse cx="659.0" cy="716.5" rx="9.5" ry="12.8" transform="rotate(25.0 659.0 716.5)" fill="none" stroke="#000" stroke-width="1.92" stroke-dasharray="1.5 1"/>
<ellipse cx="661.0" cy="716.5" rx="7.0" ry="11.5" transform="rotate(25.0 661.0 716.5)" fill="#fff" stroke="#000" stroke-width="1.92" />
<path d="M472.0 596.0 C474.0 593.4 474.5 591.0 477.4 589.0 C480.3 587.0 485.2 584.8 489.5 583.8 C493.8 582.8 498.7 582.6 503.3 582.9 C507.9 583.2 513.5 583.9 517.0 585.5 C520.5 587.1 524.8 589.8 524.0 592.4 C523.2 595.0 515.8 597.7 512.0 601.0 C508.2 604.3 504.2 607.7 501.0 612.0 C497.8 616.3 494.9 622.0 493.0 627.0 C491.1 632.0 490.1 636.5 489.5 642.0 C488.9 647.5 490.9 656.8 489.5 660.0 C488.1 663.2 484.3 662.3 480.9 661.4 C477.4 660.5 471.5 657.7 468.8 654.5 C466.1 651.3 465.1 646.4 464.5 642.4 C463.9 638.4 465.7 634.0 465.3 630.3 C464.9 626.6 461.9 624.3 461.9 620.0 C461.9 615.7 463.6 608.5 465.3 604.5 C467.0 600.5 470.0 598.6 472.0 596.0 Z" stroke="#000" stroke-width="2.4" fill="#fff" stroke-linejoin="round" stroke-linecap="round" />
<ellipse cx="507.6" cy="594.5" rx="12.5" ry="8.0" transform="rotate(-15.0 507.6 594.5)" fill="#fff" stroke="#000" stroke-width="2.4" />
<ellipse cx="508.3" cy="595.3" rx="9.5" ry="5.5" transform="rotate(-15.0 508.3 595.3)" fill="#fff" stroke="#000" stroke-width="2.16" />
<path d="M500.0 596.0 C501.0 596.5 503.7 598.8 506.0 599.0 C508.3 599.2 512.7 597.3 514.0 597.0" stroke="#000" stroke-width="1.44" fill="none" stroke-linejoin="round" stroke-linecap="round" />
<ellipse cx="478.0" cy="643.0" rx="8.5" ry="11.5" transform="rotate(-10.0 478.0 643.0)" fill="#fff" stroke="#000" stroke-width="2.4" />
<ellipse cx="479.0" cy="643.5" rx="6.0" ry="8.5" transform="rotate(-10.0 479.0 643.5)" fill="#fff" stroke="#000" stroke-width="2.64" />
<path d="M466.0 615.0 C466.7 614.2 468.0 611.3 470.0 610.0 C472.0 608.7 475.3 607.2 478.0 607.0 C480.7 606.8 484.0 607.8 486.0 609.0 C488.0 610.2 489.3 613.2 490.0 614.0" stroke="#000" stroke-width="1.44" fill="none" stroke-linejoin="round" stroke-linecap="round" />
<path d="M480.0 607.0 C480.5 608.2 482.2 611.5 483.0 614.0 C483.8 616.5 484.7 620.7 485.0 622.0" stroke="#000" stroke-width="1.2" fill="none" stroke-linejoin="round" stroke-linecap="round" />
<path d="M469.0 622.0 C469.8 621.3 472.0 618.3 474.0 618.0 C476.0 617.7 478.8 618.7 481.0 620.0 C483.2 621.3 486.0 625.0 487.0 626.0" stroke="#000" stroke-width="1.2" fill="none" stroke-linejoin="round" stroke-linecap="round" />
<path d="M470.0 634.0 C471.3 633.2 475.0 629.7 478.0 629.0 C481.0 628.3 486.3 629.8 488.0 630.0" stroke="#000" stroke-width="1.56" fill="none" stroke-linejoin="round" stroke-linecap="round" />
<path d="M511.9 595.9 C515.1 592.5 516.4 593.7 519.0 593.0 C521.6 592.3 523.7 591.7 527.4 591.6 C531.1 591.5 536.6 591.1 541.2 592.4 C545.8 593.7 551.0 597.0 555.0 599.3 C559.0 601.6 563.0 604.2 565.3 606.2 C567.6 608.2 569.7 610.4 568.8 611.4 C567.9 612.4 564.0 612.6 560.0 612.5 C556.0 612.4 549.3 610.9 545.0 611.0 C540.7 611.1 537.8 612.3 534.3 613.1 C530.8 613.9 527.4 614.5 524.0 616.0 C520.6 617.5 516.8 619.3 514.0 622.0 C511.2 624.7 508.7 628.2 507.0 632.0 C505.3 635.8 504.3 640.7 504.0 645.0 C503.7 649.3 503.7 653.3 505.0 658.0 C506.3 662.7 508.7 669.4 511.9 673.4 C515.1 677.4 520.8 679.1 524.0 682.0 C527.2 684.9 531.5 689.5 530.9 690.7 C530.3 691.9 524.5 690.1 520.5 689.0 C516.5 687.9 510.7 686.4 506.7 683.8 C502.7 681.2 499.3 677.4 496.4 673.4 C493.5 669.4 490.9 664.9 489.5 659.7 C488.1 654.5 487.5 647.9 487.8 642.4 C488.1 636.9 489.2 631.8 491.2 626.9 C493.2 622.0 496.4 618.3 499.8 613.1 C503.2 607.9 508.7 599.2 511.9 595.9 Z" stroke="#000" stroke-width="2.4" fill="#fff" stroke-linejoin="round" stroke-linecap="round" />
<path d="M534.3 613.1 C537.8 612.3 540.1 611.1 544.7 611.4 C549.3 611.7 557.3 613.1 561.9 614.8 C566.5 616.5 569.3 618.5 572.2 621.7 C575.1 624.9 577.4 630.1 579.1 633.8 C580.8 637.5 582.3 641.2 582.6 644.1 C582.9 647.0 582.2 649.4 580.9 651.0 C579.6 652.6 576.8 652.5 575.0 654.0 C573.2 655.5 571.3 657.7 570.0 660.0 C568.7 662.3 567.3 665.2 567.0 668.0 C566.7 670.8 567.4 673.8 568.0 677.0 C568.6 680.2 571.5 684.4 570.5 687.2 C569.5 690.1 565.4 692.4 561.9 694.1 C558.4 695.8 554.1 697.6 549.8 697.6 C545.5 697.6 539.1 695.2 536.0 694.1 C532.9 693.0 532.9 692.7 530.9 690.7 C528.9 688.7 527.0 685.0 524.0 682.0 C521.0 679.0 516.0 676.7 513.0 673.0 C510.0 669.3 507.3 664.5 506.0 660.0 C504.7 655.5 504.7 650.7 505.0 646.0 C505.3 641.3 506.3 636.2 508.0 632.0 C509.7 627.8 512.3 623.7 515.0 621.0 C517.7 618.3 520.8 617.3 524.0 616.0 C527.2 614.7 530.8 613.9 534.3 613.1 Z" stroke="#000" stroke-width="2.4" fill="#fff" stroke-linejoin="round" stroke-linecap="round" />
<path d="M506.9 649.4 C507.3 648.1 508.4 644.0 509.5 641.5 C510.6 639.0 512.2 636.9 513.8 634.5 C515.4 632.1 517.1 629.5 519.0 627.0 C520.9 624.5 523.3 621.7 525.3 619.5 C527.3 617.3 528.9 615.7 531.0 614.0 C533.1 612.3 535.7 610.5 537.9 609.2 C540.1 607.9 541.7 607.1 544.0 606.3 C546.3 605.5 549.5 604.8 551.7 604.6 C553.9 604.4 555.3 604.6 557.0 605.0 C558.7 605.4 560.5 606.1 562.0 606.9 C563.5 607.6 564.8 608.5 566.0 609.5 C567.2 610.5 568.5 612.1 569.0 612.6" stroke="#000" stroke-width="1.56" fill="none" stroke-linejoin="round" stroke-linecap="round" />
<path d="M508.5 650.6 C508.9 649.3 510.0 645.2 511.1 642.7 C512.2 640.2 513.8 638.1 515.4 635.7 C517.0 633.3 518.7 630.7 520.6 628.2 C522.5 625.7 524.9 622.9 526.9 620.7 C528.9 618.5 530.5 616.9 532.6 615.2 C534.7 613.5 537.3 611.7 539.5 610.4 C541.7 609.1 543.3 608.3 545.6 607.5 C547.9 606.7 551.1 606.0 553.3 605.8 C555.5 605.6 556.9 605.8 558.6 606.2 C560.3 606.6 562.1 607.4 563.6 608.1 C565.1 608.9 566.9 610.3 567.6 610.7" stroke="#000" stroke-width="1.2" fill="none" stroke-linejoin="round" stroke-linecap="round" />
<path d="M520.7 637.9 C520.1 639.4 519.1 640.8 519.5 642.5 C519.9 644.2 520.9 646.9 523.0 648.3 C525.1 649.6 529.3 650.4 532.2 650.6 C535.1 650.8 538.5 650.5 540.2 649.4 C541.9 648.2 542.5 645.8 542.5 643.7 C542.5 641.6 542.1 639.7 540.2 636.8 C538.3 633.9 533.9 627.0 531.0 626.4 C528.1 625.8 524.7 631.4 523.0 633.3 C521.3 635.2 521.3 636.4 520.7 637.9 Z" stroke="#000" stroke-width="2.16" fill="none" stroke-linejoin="round" stroke-linecap="round" />
<path d="M534.5 624.1 C534.6 624.9 534.6 627.5 535.0 629.0 C535.4 630.5 536.1 632.1 536.8 633.3 C537.5 634.5 538.2 635.2 539.0 636.0 C539.8 636.8 540.7 636.9 541.4 637.9 C542.1 638.9 542.6 640.6 543.0 642.0 C543.4 643.4 543.7 644.8 543.7 646.0 C543.7 647.2 543.1 648.5 543.0 649.0" stroke="#000" stroke-width="1.92" fill="none" stroke-linejoin="round" stroke-linecap="round" />
<path d="M546.0 633.3 C546.6 633.9 548.4 635.6 549.5 637.0 C550.6 638.4 551.8 639.8 552.9 641.4 C554.0 643.0 555.0 644.8 556.0 646.5 C557.0 648.2 558.0 649.3 558.6 651.7 C559.2 654.1 559.4 658.0 559.8 660.9 C560.2 663.8 560.8 667.6 561.0 669.0" stroke="#000" stroke-width="1.92" fill="none" stroke-linejoin="round" stroke-linecap="round" />
<path d="M569.0 628.7 C569.5 629.6 571.0 632.1 572.0 634.0 C573.0 635.9 573.8 638.3 574.7 640.2 C575.6 642.1 576.5 643.8 577.5 645.5 C578.5 647.2 580.0 649.8 580.5 650.6" stroke="#000" stroke-width="1.8" fill="none" stroke-linejoin="round" stroke-linecap="round" />
<ellipse cx="552.3" cy="623.0" rx="17.8" ry="10.3" transform="rotate(-3.0 552.3 623.0)" fill="#fff" stroke="#000" stroke-width="2.4" />
<ellipse cx="553.4" cy="622.4" rx="11.0" ry="5.4" transform="rotate(-3.0 553.4 622.4)" fill="#fff" stroke="#000" stroke-width="2.64" />
<path d="M556 620.5 L559 621.5 L557 624 Z" fill="#000"/>
<path d="M507.0 658.0 C506.4 659.0 504.2 661.8 503.5 664.0 C502.8 666.2 502.6 668.5 503.0 671.0 C503.4 673.5 504.5 676.6 506.0 679.0 C507.5 681.4 509.3 683.9 512.0 685.5 C514.7 687.1 518.8 688.1 522.0 688.5 C525.2 688.9 528.7 688.9 531.0 688.0 C533.3 687.1 534.8 683.8 535.6 683.0" stroke="#000" stroke-width="2.16" fill="none" stroke-linejoin="round" stroke-linecap="round" />
<ellipse cx="521.8" cy="671.9" rx="9.3" ry="11.0" transform="rotate(-15.0 521.8 671.9)" fill="#fff" stroke="#000" stroke-width="2.4" />
<ellipse cx="522.5" cy="672.3" rx="6.8" ry="8.3" transform="rotate(-15.0 522.5 672.3)" fill="#fff" stroke="#000" stroke-width="1.92" />
<path d="M545.5 671.0 L554.5 669.5" stroke="#000" stroke-width="1.56" fill="none" stroke-linejoin="round" stroke-linecap="round" />
<path d="M545.9 674.3 L554.7 672.8" stroke="#000" stroke-width="1.56" fill="none" stroke-linejoin="round" stroke-linecap="round" />
<path d="M546.3 677.6 L554.9 676.1" stroke="#000" stroke-width="1.56" fill="none" stroke-linejoin="round" stroke-linecap="round" />
<path d="M546.7 680.9 L555.1 679.4" stroke="#000" stroke-width="1.56" fill="none" stroke-linejoin="round" stroke-linecap="round" />
<path d="M547.1 684.2 L555.3 682.7" stroke="#000" stroke-width="1.56" fill="none" stroke-linejoin="round" stroke-linecap="round" />
<path d="M536.0 686.0 C537.5 686.6 541.7 688.8 545.0 689.5 C548.3 690.2 552.5 690.2 556.0 690.0 C559.5 689.8 564.3 688.3 566.0 688.0" stroke="#000" stroke-width="1.68" fill="none" stroke-linejoin="round" stroke-linecap="round" />
<path d="M563.1 679.0 L562.5 678.6 L561.9 678.1 L561.5 677.5 L561.0 676.9 L560.6 676.2 L560.3 675.4 L560.0 674.6 L559.8 673.8 L559.6 672.9 L559.5 671.9 L559.5 671.0 L559.5 670.0 L559.5 669.0 L559.7 667.9 L559.8 666.9 L560.1 665.8 L560.4 664.7 L560.7 663.7 L561.1 662.6 L561.6 661.6 L562.1 660.6 L562.6 659.6 L563.2 658.6 L563.8 657.7 L564.5 656.9 L565.2 656.0 L565.9 655.3 L566.7 654.6 L567.4 653.9 L568.2 653.3 L569.0 652.8 L569.8 652.4 L570.6 652.0 L571.4 651.7 L572.2 651.5 L572.9 651.3 L573.7 651.3 L574.4 651.3 L575.2 651.4 L575.8 651.5" stroke="#000" stroke-width="1.92" fill="none" stroke-linejoin="round" stroke-linecap="round" />
<path d="M575.7 651.0 C576.8 651.2 581.0 652.2 582.0 652.5" stroke="#000" stroke-width="1.92" fill="none" stroke-linejoin="round" stroke-linecap="round" />
<path d="M593.8 505.0 L595.0 494.6 L604.1 488.8 L613.3 493.4 L615.6 500.3 L613.3 506.0 L605.3 509.5 L593.8 516.4 Z" stroke="#000" stroke-width="2.16" fill="#fff" stroke-linejoin="round" stroke-linecap="round" />
<ellipse cx="607.0" cy="499.0" rx="6.5" ry="10.0" transform="rotate(-35.0 607.0 499.0)" fill="#fff" stroke="#000" stroke-width="2.16" />
<path d="M600.0 492.0 C600.5 493.2 602.6 496.5 603.0 499.0 C603.4 501.5 603.0 505.0 602.5 507.0 C602.0 509.0 600.4 510.3 600.0 511.0" stroke="#000" stroke-width="1.44" fill="none" stroke-linejoin="round" stroke-linecap="round" />
<path d="M572.0 527.0 L573.0 546.3 L578.0 548.5 L582.3 549.2 L587.0 548.0 L591.5 545.2 L592.0 525.0 Z" stroke="#000" stroke-width="2.16" fill="#fff" stroke-linejoin="round" stroke-linecap="round" />
<path d="M572.5 533.5 C574.1 534.0 578.8 536.6 582.0 536.5 C585.2 536.4 589.9 533.6 591.5 533.0" stroke="#000" stroke-width="1.56" fill="none" stroke-linejoin="round" stroke-linecap="round" />
<path d="M572.8 536.0 C574.3 536.5 578.9 539.1 582.0 539.0 C585.1 538.9 589.9 536.1 591.5 535.5" stroke="#000" stroke-width="1.2" fill="none" stroke-linejoin="round" stroke-linecap="round" />
<path d="M573.7 500.3 L592.0 499.2 L593.8 505.0 L593.8 516.4 L590.0 523.0 L591.5 531.0 L572.0 531.4 L573.0 519.0 L567.0 517.0 L567.0 510.7 L573.0 509.5 Z" stroke="#fff" stroke-width="1.2" fill="#fff" stroke-linejoin="round" stroke-linecap="round" />
<path d="M573.7 500.3 C573.7 501.1 573.6 503.5 573.5 505.0 C573.4 506.5 573.1 508.8 573.0 509.5" stroke="#000" stroke-width="1.92" fill="none" stroke-linejoin="round" stroke-linecap="round" />
<path d="M592.0 499.2 C592.2 499.7 592.7 501.0 593.0 502.0 C593.3 503.0 593.7 504.5 593.8 505.0" stroke="#000" stroke-width="1.92" fill="none" stroke-linejoin="round" stroke-linecap="round" />
<path d="M593.8 516.4 C593.2 517.2 590.5 519.2 590.0 521.0 C589.5 522.8 590.2 525.3 590.5 527.0 C590.8 528.7 591.3 530.3 591.5 531.0" stroke="#000" stroke-width="1.92" fill="none" stroke-linejoin="round" stroke-linecap="round" />
<path d="M582.0 509.0 C582.7 509.5 585.0 510.7 586.0 512.0 C587.0 513.3 587.7 516.2 588.0 517.0" stroke="#000" stroke-width="1.2" fill="none" stroke-linejoin="round" stroke-linecap="round" />
<path d="M573.0 509.5 L567.3 510.7 L552.4 518.7 L549.0 523.0 L548.5 530.0 L550.5 535.5 L555.0 538.0 L557.0 537.1 L573.0 529.0 Z" stroke="#000" stroke-width="2.16" fill="#fff" stroke-linejoin="round" stroke-linecap="round" />
<ellipse cx="554.8" cy="528.0" rx="7.0" ry="9.8" transform="rotate(-20.0 554.8 528.0)" fill="#fff" stroke="#000" stroke-width="2.16" />
<path d="M564.5 512.0 C565.0 513.2 566.9 516.5 567.5 519.0 C568.1 521.5 568.2 524.7 568.0 527.0 C567.8 529.3 566.8 532.0 566.5 533.0" stroke="#000" stroke-width="1.8" fill="none" stroke-linejoin="round" stroke-linecap="round" />
<path d="M566.5 511.5 C567.0 512.7 568.9 516.0 569.5 518.5 C570.1 521.0 570.2 524.2 570.0 526.5 C569.8 528.8 568.8 531.1 568.5 532.0" stroke="#000" stroke-width="1.2" fill="none" stroke-linejoin="round" stroke-linecap="round" />
<path d="M572.0 496.0 L571.0 482.5 L573.5 478.0 L582.0 476.3 L590.5 478.0 L592.8 482.5 L592.6 495.7 L593.8 499.0 L582.3 502.5 L570.8 499.0 Z" stroke="#000" stroke-width="2.16" fill="#fff" stroke-linejoin="round" stroke-linecap="round" />
<ellipse cx="581.9" cy="482.5" rx="10.0" ry="5.4" transform="rotate(0.0 581.9 482.5)" fill="#fff" stroke="#000" stroke-width="2.16" />
<path d="M571.0 495.5 C571.8 496.1 574.1 498.0 576.0 498.8 C577.9 499.6 580.3 500.3 582.3 500.3 C584.3 500.3 586.1 499.8 588.0 499.0 C589.9 498.2 592.6 496.1 593.5 495.5" stroke="#000" stroke-width="1.56" fill="none" stroke-linejoin="round" stroke-linecap="round" />
<path d="M574.0 487.5 C575.3 487.8 579.3 489.6 582.0 489.5 C584.7 489.4 588.7 487.4 590.0 487.0" stroke="#000" stroke-width="1.2" fill="none" stroke-linejoin="round" stroke-linecap="round" />
<path d="M584.1 542.4 C584.5 539.8 585.3 537.1 586.9 535.5 C588.5 533.9 591.3 533.0 593.8 532.8 C596.3 532.6 600.0 534.6 602.0 534.1 C604.0 533.6 603.4 532.8 605.5 530.0 C607.6 527.2 611.2 521.3 614.5 517.6 C617.8 513.9 621.6 510.5 625.5 507.9 C629.4 505.2 634.1 503.0 638.0 501.7 C641.9 500.4 645.3 499.9 649.0 500.3 C652.7 500.7 656.8 502.1 660.0 503.8 C663.2 505.5 665.5 507.9 668.3 510.7 C671.1 513.4 673.9 517.3 676.6 520.3 C679.4 523.3 681.8 525.8 684.8 528.6 C687.8 531.4 692.2 534.1 694.5 536.9 C696.8 539.7 697.9 542.9 698.6 545.2 C699.4 547.6 699.2 549.2 699.0 551.0 C698.8 552.8 699.1 554.7 697.2 556.2 C695.3 557.8 690.6 559.1 687.6 560.3 C684.6 561.4 682.5 562.2 679.3 563.1 C676.1 564.0 671.5 563.8 668.3 565.9 C665.1 568.0 662.3 572.3 660.0 575.5 C657.7 578.7 656.8 582.7 654.5 585.2 C652.2 587.7 649.0 589.6 646.2 590.7 C643.5 591.8 641.5 592.0 638.0 592.0 C634.5 592.0 629.0 591.8 625.5 590.7 C622.0 589.6 620.2 587.5 617.2 585.2 C614.2 582.9 610.4 579.7 607.6 576.9 C604.9 574.1 602.3 570.7 600.7 568.6 C599.1 566.5 600.1 566.1 598.0 564.5 C595.9 562.9 590.5 561.2 588.3 559.0 C586.0 556.8 585.2 553.8 584.5 551.0 C583.8 548.2 583.7 545.0 584.1 542.4 Z" stroke="#000" stroke-width="2.4" fill="#fff" stroke-linejoin="round" stroke-linecap="round" />
<path d="M615.9 586.6 C615.9 583.8 615.8 575.1 616.0 570.0 C616.2 564.9 615.6 561.2 617.2 556.2 C618.8 551.2 622.0 545.0 625.5 539.7 C629.0 534.4 633.6 528.6 638.0 524.5 C642.4 520.4 647.1 516.9 651.7 514.8 C656.3 512.7 661.8 511.6 665.5 512.1 C669.2 512.6 671.9 515.3 673.8 517.6 C675.6 519.9 676.1 524.5 676.6 525.9" stroke="#000" stroke-width="1.56" fill="none" stroke-linejoin="round" stroke-linecap="round" />
<path d="M618.5 586.0 C618.6 583.3 618.8 574.8 619.0 570.0 C619.2 565.2 618.5 561.8 620.0 557.0 C621.5 552.2 624.7 546.0 628.0 541.0 C631.3 536.0 635.8 530.9 640.0 527.0 C644.2 523.1 648.8 519.5 653.0 517.5 C657.2 515.5 661.8 514.7 665.0 515.0 C668.2 515.3 670.4 517.7 672.0 519.5 C673.6 521.3 674.1 524.9 674.5 526.0" stroke="#000" stroke-width="1.2" fill="none" stroke-linejoin="round" stroke-linecap="round" />
<path d="M632.2 543.6 C632.7 542.0 633.3 537.0 635.0 534.0 C636.7 531.0 639.7 528.1 642.6 525.7 C645.5 523.3 649.0 520.9 652.2 519.5 C655.4 518.1 658.9 517.3 661.9 517.4 C664.9 517.5 668.1 518.5 670.2 520.2 C672.3 521.9 673.6 526.5 674.3 527.8" stroke="#000" stroke-width="2.4" fill="none" stroke-linejoin="round" stroke-linecap="round" />
<ellipse cx="645.5" cy="528.5" rx="4.2" ry="6" transform="rotate(40 645.5 528.5)" fill="#000"/>
<ellipse cx="643.6" cy="530.8" rx="2.0" ry="1.6" transform="rotate(40 643.6 530.8)" fill="#fff"/>
<path d="M637.8 536.7 C638.5 537.2 640.5 538.4 642.0 539.5 C643.5 540.6 645.7 542.2 646.7 543.6 C647.7 545.0 648.2 546.2 648.1 547.8 C648.0 549.4 646.7 552.1 646.0 553.3 C645.3 554.4 644.3 554.5 644.0 554.7" stroke="#000" stroke-width="1.92" fill="none" stroke-linejoin="round" stroke-linecap="round" />
<path d="M632.2 542.2 C632.3 542.9 632.0 544.8 632.9 546.4 C633.8 548.0 635.9 550.5 637.8 551.9 C639.6 553.3 642.3 553.6 644.0 554.7 C645.7 555.8 646.6 557.1 648.0 558.5 C649.4 559.9 651.5 562.2 652.2 562.9" stroke="#000" stroke-width="2.04" fill="none" stroke-linejoin="round" stroke-linecap="round" />
<path d="M624.0 549.0 C624.7 549.8 626.5 552.0 628.0 553.5 C629.5 555.0 631.4 556.6 633.0 558.0 C634.6 559.4 637.0 561.0 637.8 561.6" stroke="#000" stroke-width="2.64" fill="none" stroke-linejoin="round" stroke-linecap="round" />
<path d="M670.8 537.5 C670.7 538.4 670.2 541.2 670.2 543.0 C670.2 544.8 670.6 546.3 671.0 548.0 C671.4 549.7 672.2 552.4 672.5 553.3" stroke="#000" stroke-width="1.56" fill="none" stroke-linejoin="round" stroke-linecap="round" />
<ellipse cx="594.5" cy="550.7" rx="8.3" ry="11.0" transform="rotate(-15.0 594.5 550.7)" fill="#fff" stroke="#000" stroke-width="2.4" />
<ellipse cx="595.0" cy="551.0" rx="5.8" ry="8.0" transform="rotate(-15.0 595.0 551.0)" fill="#fff" stroke="#000" stroke-width="2.16" />
<ellipse cx="635.0" cy="575.5" rx="9.6" ry="11.0" transform="rotate(-15.0 635.0 575.5)" fill="#fff" stroke="#000" stroke-width="2.4" />
<ellipse cx="635.5" cy="576.0" rx="6.8" ry="8.0" transform="rotate(-15.0 635.5 576.0)" fill="#fff" stroke="#000" stroke-width="2.4" />
<ellipse cx="681.6" cy="547.4" rx="4.0" ry="9.2" transform="rotate(-32 681.6 547.4)" fill="#000"/>
<path d="M672.5 541.5 C672.2 541.0 670.6 539.5 670.6 538.8 C670.6 538.1 671.6 537.3 672.5 537.2 C673.4 537.1 674.8 537.4 676.0 538.0 C677.2 538.6 678.9 540.5 679.5 541.0" stroke="#000" stroke-width="1.8" fill="none" stroke-linejoin="round" stroke-linecap="round" />
<path d="M670.6 538.8 C670.5 539.5 669.8 541.4 670.0 543.0 C670.2 544.6 671.0 546.8 671.6 548.5 C672.2 550.2 673.1 552.3 673.4 553.1" stroke="#000" stroke-width="1.8" fill="none" stroke-linejoin="round" stroke-linecap="round" />
<path d="M678.5 557.5 C679.1 557.8 681.0 559.0 682.0 559.0 C683.0 559.0 684.3 557.8 684.8 557.5" stroke="#000" stroke-width="1.56" fill="none" stroke-linejoin="round" stroke-linecap="round" />
<path d="M683.0 559.0 C683.0 559.8 683.1 562.8 683.1 563.5" stroke="#000" stroke-width="1.44" fill="none" stroke-linejoin="round" stroke-linecap="round" />
<path d="M719.8 578.0 L721.0 567.6 L730.1 561.8 L739.3 566.4 L741.6 573.3 L739.3 579.0 L731.3 582.5 L719.8 589.4 Z" stroke="#000" stroke-width="2.16" fill="#fff" stroke-linejoin="round" stroke-linecap="round" />
<ellipse cx="733.0" cy="572.0" rx="6.5" ry="10.0" transform="rotate(-35.0 733.0 572.0)" fill="#fff" stroke="#000" stroke-width="2.16" />
<path d="M726.0 565.0 C726.5 566.2 728.6 569.5 729.0 572.0 C729.4 574.5 729.0 578.0 728.5 580.0 C728.0 582.0 726.4 583.3 726.0 584.0" stroke="#000" stroke-width="1.44" fill="none" stroke-linejoin="round" stroke-linecap="round" />
<path d="M698.0 600.0 L699.0 619.3 L704.0 621.5 L708.3 622.2 L713.0 621.0 L717.5 618.2 L718.0 598.0 Z" stroke="#000" stroke-width="2.16" fill="#fff" stroke-linejoin="round" stroke-linecap="round" />
<path d="M698.5 606.5 C700.1 607.0 704.8 609.6 708.0 609.5 C711.2 609.4 715.9 606.6 717.5 606.0" stroke="#000" stroke-width="1.56" fill="none" stroke-linejoin="round" stroke-linecap="round" />
<path d="M698.8 609.0 C700.3 609.5 704.9 612.1 708.0 612.0 C711.1 611.9 715.9 609.1 717.5 608.5" stroke="#000" stroke-width="1.2" fill="none" stroke-linejoin="round" stroke-linecap="round" />
<path d="M699.7 573.3 L718.0 572.2 L719.8 578.0 L719.8 589.4 L716.0 596.0 L717.5 604.0 L698.0 604.4 L699.0 592.0 L693.0 590.0 L693.0 583.7 L699.0 582.5 Z" stroke="#fff" stroke-width="1.2" fill="#fff" stroke-linejoin="round" stroke-linecap="round" />
<path d="M699.7 573.3 C699.7 574.1 699.6 576.5 699.5 578.0 C699.4 579.5 699.1 581.8 699.0 582.5" stroke="#000" stroke-width="1.92" fill="none" stroke-linejoin="round" stroke-linecap="round" />
<path d="M718.0 572.2 C718.2 572.7 718.7 574.0 719.0 575.0 C719.3 576.0 719.7 577.5 719.8 578.0" stroke="#000" stroke-width="1.92" fill="none" stroke-linejoin="round" stroke-linecap="round" />
<path d="M719.8 589.4 C719.2 590.2 716.5 592.2 716.0 594.0 C715.5 595.8 716.2 598.3 716.5 600.0 C716.8 601.7 717.3 603.3 717.5 604.0" stroke="#000" stroke-width="1.92" fill="none" stroke-linejoin="round" stroke-linecap="round" />
<path d="M708.0 582.0 C708.7 582.5 711.0 583.7 712.0 585.0 C713.0 586.3 713.7 589.2 714.0 590.0" stroke="#000" stroke-width="1.2" fill="none" stroke-linejoin="round" stroke-linecap="round" />
<path d="M699.0 582.5 L693.3 583.7 L678.4 591.7 L675.0 596.0 L674.5 603.0 L676.5 608.5 L681.0 611.0 L683.0 610.1 L699.0 602.0 Z" stroke="#000" stroke-width="2.16" fill="#fff" stroke-linejoin="round" stroke-linecap="round" />
<ellipse cx="680.8" cy="601.0" rx="7.0" ry="9.8" transform="rotate(-20.0 680.8 601.0)" fill="#fff" stroke="#000" stroke-width="2.16" />
<path d="M690.5 585.0 C691.0 586.2 692.9 589.5 693.5 592.0 C694.1 594.5 694.2 597.7 694.0 600.0 C693.8 602.3 692.8 605.0 692.5 606.0" stroke="#000" stroke-width="1.8" fill="none" stroke-linejoin="round" stroke-linecap="round" />
<path d="M692.5 584.5 C693.0 585.7 694.9 589.0 695.5 591.5 C696.1 594.0 696.2 597.2 696.0 599.5 C695.8 601.8 694.8 604.1 694.5 605.0" stroke="#000" stroke-width="1.2" fill="none" stroke-linejoin="round" stroke-linecap="round" />
<path d="M698.0 569.0 L697.0 555.5 L699.5 551.0 L708.0 549.3 L716.5 551.0 L718.8 555.5 L718.6 568.7 L719.8 572.0 L708.3 575.5 L696.8 572.0 Z" stroke="#000" stroke-width="2.16" fill="#fff" stroke-linejoin="round" stroke-linecap="round" />
<ellipse cx="707.9" cy="555.5" rx="10.0" ry="5.4" transform="rotate(0.0 707.9 555.5)" fill="#fff" stroke="#000" stroke-width="2.16" />
<path d="M697.0 568.5 C697.8 569.0 700.1 571.0 702.0 571.8 C703.9 572.6 706.3 573.3 708.3 573.3 C710.3 573.3 712.1 572.8 714.0 572.0 C715.9 571.2 718.6 569.1 719.5 568.5" stroke="#000" stroke-width="1.56" fill="none" stroke-linejoin="round" stroke-linecap="round" />
<path d="M700.0 560.5 C701.3 560.8 705.3 562.6 708.0 562.5 C710.7 562.4 714.7 560.4 716.0 560.0" stroke="#000" stroke-width="1.2" fill="none" stroke-linejoin="round" stroke-linecap="round" />
<path d="M576.4 456.3 L577.4 456.0 L578.5 455.8 L579.6 455.7 L580.7 455.6 L581.8 455.6 L582.9 455.6 L583.9 455.8 L585.0 455.9 L586.0 456.1 L587.0 456.4 L588.0 456.7 L588.9 457.1 L589.7 457.6 L590.5 458.0 L591.2 458.5 L591.8 459.1 L592.3 459.7 L592.7 460.3 L593.1 460.9 L593.3 461.5 L593.5 462.2 L593.5 462.9 L593.4 463.5 L593.3 464.2 L593.0 464.8 L592.7 465.4 L592.2 466.0 L591.7 466.6 L591.1 467.2 L590.3 467.7 L589.6 468.1 L588.7 468.6 L587.8 468.9 L586.9 469.2 L585.8 469.5 L584.8 469.7 L583.7 469.9 L582.7 470.0 L581.6 470.0 L580.5 470.0 L579.4 469.9 L578.3 469.7 L577.2 469.5 L576.2 469.3 L575.3 469.0 L574.4 468.6 L573.5 468.2 L572.7 467.7 L572.0 467.2 L571.4 466.7 L570.8 466.1 L570.4 465.5 L570.0 464.9 L569.7 464.2 L569.6 463.6 L569.5 462.9 L569.5 462.3 L569.7 461.6 L569.9 461.0 L570.2 460.3" stroke="#000" stroke-width="1.8" fill="none" stroke-linejoin="round" stroke-linecap="round" />
<path d="M577.1 457.7 L578.0 457.5 L578.9 457.4 L579.8 457.3 L580.8 457.2 L581.7 457.2 L582.7 457.2 L583.6 457.3 L584.5 457.4 L585.4 457.6 L586.3 457.8 L587.1 458.1 L587.9 458.4 L588.6 458.7 L589.3 459.1 L589.9 459.5 L590.4 459.9 L590.9 460.4 L591.2 460.8 L591.5 461.3 L591.7 461.8 L591.9 462.3 L591.9 462.8 L591.8 463.4 L591.7 463.9 L591.5 464.4 L591.2 464.9 L590.8 465.3 L590.3 465.8 L589.8 466.2 L589.2 466.6 L588.5 466.9 L587.8 467.3 L587.0 467.6 L586.1 467.8 L585.3 468.0 L584.4 468.2 L583.4 468.3 L582.5 468.4 L581.5 468.4 L580.6 468.4 L579.6 468.3 L578.7 468.2 L577.8 468.0 L576.9 467.8 L576.1 467.6 L575.3 467.3 L574.6 467.0 L573.9 466.6 L573.3 466.2 L572.7 465.8 L572.3 465.4 L571.9 464.9 L571.5 464.4 L571.3 463.9 L571.2 463.4 L571.1 462.9 L571.1 462.4 L571.2 461.9 L571.4 461.4 L571.7 460.9" stroke="#000" stroke-width="1.32" fill="none" stroke-linejoin="round" stroke-linecap="round" />
<path d="M576.4 456.3 L577.1 457.7" stroke="#000" stroke-width="1.56" fill="none" stroke-linejoin="round" stroke-linecap="round" />
<path d="M570.2 460.3 L571.7 460.9" stroke="#000" stroke-width="1.56" fill="none" stroke-linejoin="round" stroke-linecap="round" />
<path d="M530.8 532.8 L531.2 532.1 L531.7 531.4 L532.2 530.8 L532.8 530.2 L533.3 529.7 L534.0 529.3 L534.6 528.9 L535.3 528.6 L536.0 528.4 L536.7 528.3 L537.4 528.2 L538.1 528.2 L538.8 528.3 L539.5 528.5 L540.1 528.8 L540.8 529.1 L541.4 529.5 L542.0 530.0 L542.6 530.5 L543.1 531.1 L543.6 531.8 L544.1 532.5 L544.5 533.3 L544.8 534.1 L545.1 534.9 L545.3 535.8 L545.5 536.7 L545.6 537.6 L545.7 538.5 L545.7 539.5 L545.6 540.4 L545.5 541.3 L545.3 542.2 L545.1 543.1 L544.8 543.9 L544.5 544.7 L544.1 545.5 L543.6 546.2 L543.1 546.9 L542.6 547.5 L542.0 548.0 L541.4 548.5 L540.8 548.9 L540.1 549.2 L539.4 549.5 L538.8 549.7 L538.1 549.8 L537.4 549.8 L536.7 549.7 L536.0 549.6 L535.3 549.4 L534.6 549.1 L534.0 548.7 L533.3 548.3 L532.7 547.8 L532.2 547.2 L531.7 546.6 L531.2 545.9 L530.8 545.2 L530.4 544.4" stroke="#000" stroke-width="1.8" fill="none" stroke-linejoin="round" stroke-linecap="round" />
<path d="M532.1 533.7 L532.4 533.1 L532.8 532.5 L533.2 532.0 L533.7 531.5 L534.2 531.1 L534.7 530.7 L535.2 530.4 L535.7 530.1 L536.3 530.0 L536.8 529.8 L537.4 529.8 L538.0 529.8 L538.5 529.9 L539.1 530.1 L539.6 530.3 L540.1 530.6 L540.7 530.9 L541.1 531.3 L541.6 531.8 L542.0 532.3 L542.4 532.9 L542.8 533.5 L543.1 534.1 L543.4 534.8 L543.6 535.5 L543.8 536.3 L543.9 537.0 L544.0 537.8 L544.1 538.6 L544.1 539.4 L544.0 540.2 L543.9 541.0 L543.8 541.7 L543.6 542.5 L543.4 543.2 L543.1 543.9 L542.8 544.5 L542.4 545.1 L542.0 545.7 L541.6 546.2 L541.1 546.7 L540.6 547.1 L540.1 547.4 L539.6 547.7 L539.1 547.9 L538.5 548.1 L538.0 548.2 L537.4 548.2 L536.8 548.2 L536.3 548.0 L535.7 547.9 L535.2 547.6 L534.6 547.3 L534.2 546.9 L533.7 546.5 L533.2 546.0 L532.8 545.5 L532.4 544.9 L532.1 544.3 L531.8 543.6" stroke="#000" stroke-width="1.32" fill="none" stroke-linejoin="round" stroke-linecap="round" />
<path d="M530.8 532.8 L532.1 533.7" stroke="#000" stroke-width="1.56" fill="none" stroke-linejoin="round" stroke-linecap="round" />
<path d="M530.4 544.4 L531.8 543.6" stroke="#000" stroke-width="1.56" fill="none" stroke-linejoin="round" stroke-linecap="round" />
<path d="M828.4 131.5 L831.1 128.2 L833.6 128.2 L833.6 143.0 L831.3 143.0 L831.3 131.6 L828.7 133.5 Z" fill="#000"/>
<text x="837.9" y="143.0" font-size="21" fill="#000" stroke="#000" stroke-width="0.3">8</text>
<path d="M655.9 163.8 L658.6 160.5 L661.1 160.5 L661.1 175.3 L658.8 175.3 L658.8 163.9 L656.2 165.8 Z" fill="#000"/>
<text x="665.4" y="175.3" font-size="21" fill="#000" stroke="#000" stroke-width="0.3">7</text>
<path d="M629.0 188.7 L631.7 185.4 L634.2 185.4 L634.2 200.2 L631.9 200.2 L631.9 188.8 L629.3 190.7 Z" fill="#000"/>
<text x="638.5" y="200.2" font-size="21" fill="#000" stroke="#000" stroke-width="0.3">6</text>
<path d="M587.9 211.0 L590.6 207.7 L593.1 207.7 L593.1 222.5 L590.8 222.5 L590.8 211.1 L588.2 213.0 Z" fill="#000"/>
<text x="597.4" y="222.5" font-size="21" fill="#000" stroke="#000" stroke-width="0.3">5</text>
<path d="M541.9 229.0 L544.6 225.7 L547.1 225.7 L547.1 240.5 L544.8 240.5 L544.8 229.1 L542.2 231.0 Z" fill="#000"/>
<text x="551.4" y="240.5" font-size="21" fill="#000" stroke="#000" stroke-width="0.3">4</text>
<path d="M500.6 250.9 L503.3 247.6 L505.8 247.6 L505.8 262.4 L503.5 262.4 L503.5 251.0 L500.9 252.9 Z" fill="#000"/>
<text x="510.1" y="262.4" font-size="21" fill="#000" stroke="#000" stroke-width="0.3">3</text>
<path d="M476.4 286.8 L479.1 283.5 L481.6 283.5 L481.6 298.3 L479.3 298.3 L479.3 286.9 L476.7 288.8 Z" fill="#000"/>
<text x="485.9" y="298.3" font-size="21" fill="#000" stroke="#000" stroke-width="0.3">2</text>
<path d="M312.9 315.2 L315.6 311.9 L318.1 311.9 L318.1 326.7 L315.8 326.7 L315.8 315.3 L313.2 317.2 Z" fill="#000"/>
<path d="M324.0 315.2 L326.7 311.9 L329.2 311.9 L329.2 326.7 L326.9 326.7 L326.9 315.3 L324.3 317.2 Z" fill="#000"/>
<path d="M9.1 419.4 L11.8 416.1 L14.2 416.1 L14.2 430.9 L12.0 430.9 L12.0 419.5 L9.4 421.4 Z" fill="#000"/>
<text x="18.6" y="430.9" font-size="21" fill="#000" stroke="#000" stroke-width="0.3">0</text>
<text x="289.8" y="587.1" font-size="21" fill="#000" stroke="#000" stroke-width="0.3">9</text>
<text x="853.9" y="392.9" font-size="21" fill="#000" stroke="#000" stroke-width="0.3">5</text>
<text x="853.4" y="434.8" font-size="21" fill="#000" stroke="#000" stroke-width="0.3">6</text>
<text x="853.4" y="477.1" font-size="21" fill="#000" stroke="#000" stroke-width="0.3">7</text>
<text x="854.3" y="627.6" font-size="21" fill="#000" stroke="#000" stroke-width="0.3">8</text>
<text transform="translate(817.7 320) scale(0.965 1)" x="0" y="0" font-size="21" fill="#000" stroke="#000" stroke-width="0.3">RH 3</text>
<text transform="translate(817.7 343.8) scale(0.965 1)" x="0" y="0" font-size="21" fill="#000" stroke="#000" stroke-width="0.3">LH 4</text>
<path d="M666.9 323.5 L816.9 323.5" stroke="#111" stroke-width="1.2" fill="none" stroke-linejoin="round" stroke-linecap="round" />
<path d="M816.9 300.3 L816.9 346.4" stroke="#111" stroke-width="1.2" fill="none" stroke-linejoin="round" stroke-linecap="round" />
<path d="M816.9 300.3 L821.7 300.3" stroke="#111" stroke-width="1.2" fill="none" stroke-linejoin="round" stroke-linecap="round" />
<path d="M816.9 346.4 L821.7 346.4" stroke="#111" stroke-width="1.2" fill="none" stroke-linejoin="round" stroke-linecap="round" />
<path d="M666.9 323.5 L415.5 526.2" stroke="#111" stroke-width="1.2" fill="none" stroke-linejoin="round" stroke-linecap="round" />
<path d="M382.4 537.6 L415.5 526.2 L412.8 555.2" stroke="#111" stroke-width="1.2" fill="none" stroke-linejoin="round" stroke-linecap="round" />
<path d="M849.8 391.3 L674.4 391.3 L589.0 455.2" stroke="#111" stroke-width="1.2" fill="none" stroke-linejoin="round" stroke-linecap="round" />
<path d="M849.8 434.2 L736.0 434.2 L662.8 503.8" stroke="#111" stroke-width="1.2" fill="none" stroke-linejoin="round" stroke-linecap="round" />
<path d="M849.8 476.1 L797.7 476.1 L719.0 553.0" stroke="#111" stroke-width="1.2" fill="none" stroke-linejoin="round" stroke-linecap="round" />
<path d="M849.8 626.2 L787.0 626.2 L669.0 707.7" stroke="#111" stroke-width="1.2" fill="none" stroke-linejoin="round" stroke-linecap="round" />
<path d="M512.6 545.3 L512.6 549.9 L589.7 594.7 L569.0 608.5 L598.9 600.5 L681.6 649.9 L690.8 649.9" stroke="#111" stroke-width="1.2" fill="none" stroke-linejoin="round" stroke-linecap="round" />
<path d="M296.5 390.5 L321.5 330.0 L353.1 374.5" stroke="#111" stroke-width="1.2" fill="none" stroke-linejoin="round" stroke-linecap="round" />
<circle cx="707.4" cy="137.9" r="17.4" fill="#ec1c24"/>
<path d="M697.0 134.6 L699.7 131.3 L702.2 131.3 L702.2 146.8 L699.9 146.8 L699.9 134.7 L697.3 136.6 Z" fill="#111"/>
<text x="706.4" y="146.8" font-size="21.5" fill="#111" stroke="#111" stroke-width="0.3">9</text>
</svg></body></html>
